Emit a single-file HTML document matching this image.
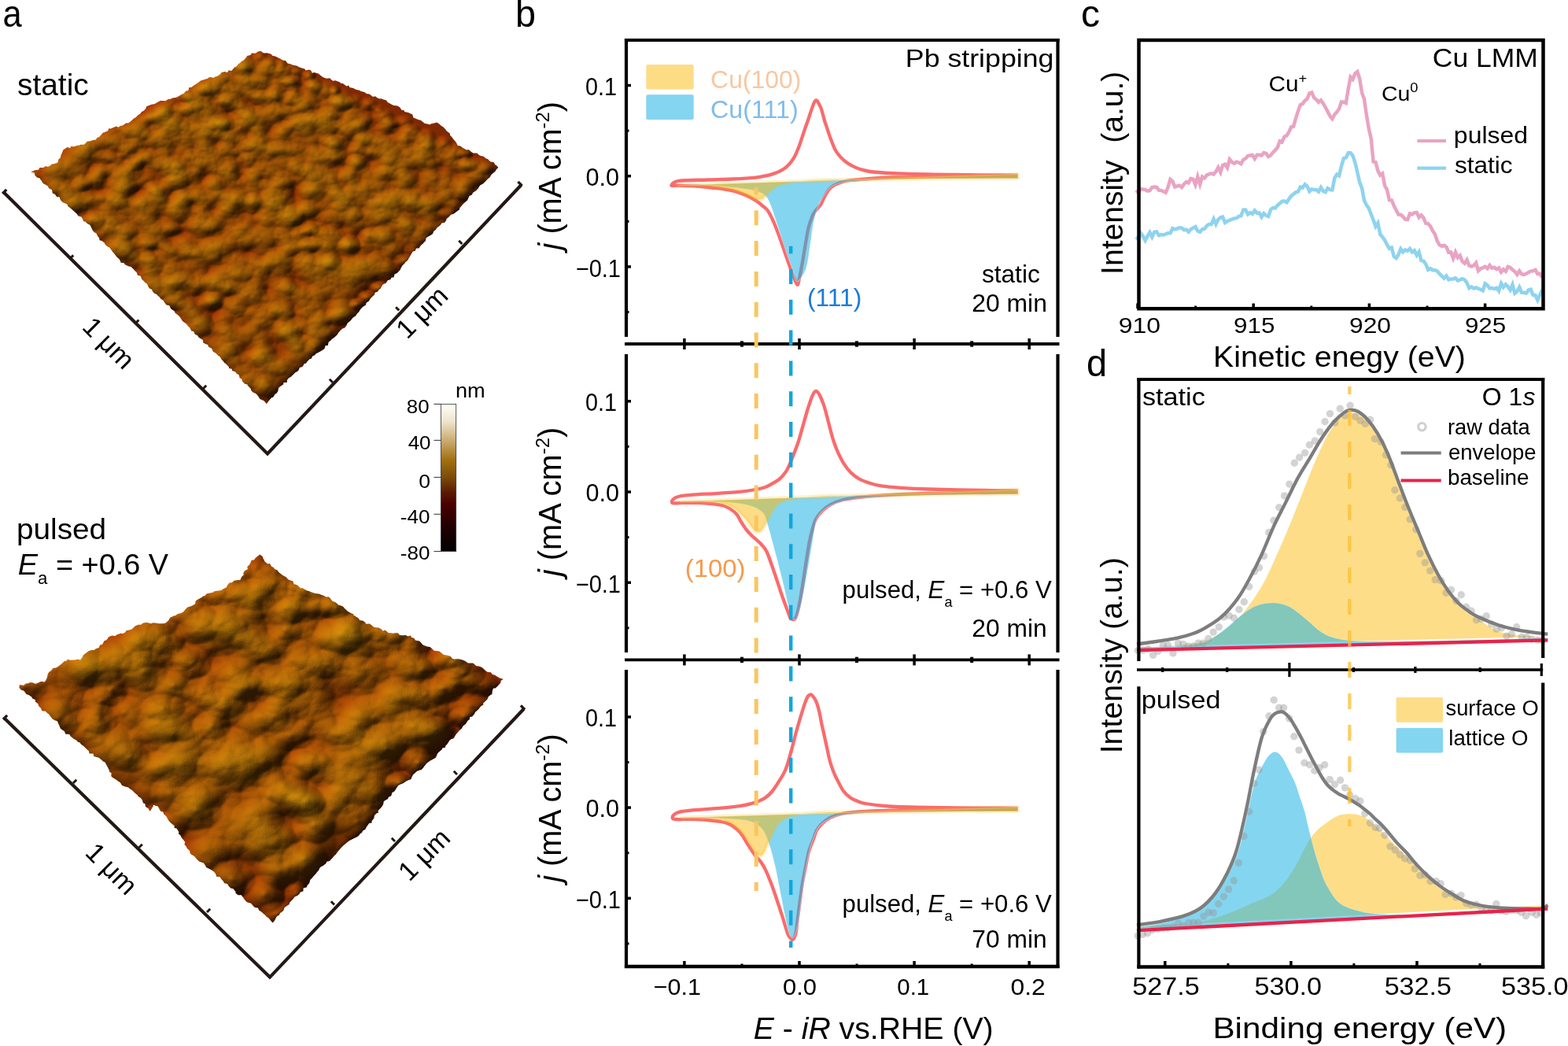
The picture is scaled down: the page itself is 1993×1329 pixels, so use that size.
<!DOCTYPE html>
<html><head><meta charset="utf-8"><title>Figure</title>
<style>html,body{margin:0;padding:0;background:#fff;width:1993px;height:1329px;overflow:hidden}
svg{display:block;font-family:"Liberation Sans",Arial,sans-serif}</style></head>
<body><svg xmlns="http://www.w3.org/2000/svg" width="1993" height="1329" viewBox="0 0 1993 1329">
<rect width="1993" height="1329" fill="#fff"/>
<g id="panel-a">
<defs>
<filter id="afmA" x="0" y="0" width="100%" height="100%" color-interpolation-filters="sRGB">
 <feTurbulence type="fractalNoise" baseFrequency="0.03 0.045" numOctaves="3" seed="4" result="n"/>
 <feColorMatrix in="n" type="matrix" values="0.12 0 0 0 0.66  0.5 0 0 0 0.12  0.03 0 0 0 0.0  0 0 0 0 1" result="c"/>
 <feDiffuseLighting in="n" surfaceScale="7" diffuseConstant="1.05" lighting-color="#ffffff" result="l"><feDistantLight azimuth="240" elevation="40"/></feDiffuseLighting>
 <feComposite in="l" in2="c" operator="arithmetic" k1="0.8" k2="0" k3="0.18" k4="0" result="m"/>
 <feComposite in="m" in2="SourceAlpha" operator="in"/>
</filter>
<filter id="afmB" x="0" y="0" width="100%" height="100%" color-interpolation-filters="sRGB">
 <feTurbulence type="fractalNoise" baseFrequency="0.02 0.03" numOctaves="3" seed="9" result="n"/>
 <feColorMatrix in="n" type="matrix" values="0.12 0 0 0 0.66  0.55 0 0 0 0.1  0.03 0 0 0 0.0  0 0 0 0 1" result="c"/>
 <feDiffuseLighting in="n" surfaceScale="10" diffuseConstant="1.05" lighting-color="#ffffff" result="l"><feDistantLight azimuth="240" elevation="40"/></feDiffuseLighting>
 <feComposite in="l" in2="c" operator="arithmetic" k1="0.8" k2="0" k3="0.18" k4="0" result="m"/>
 <feComposite in="m" in2="SourceAlpha" operator="in"/>
</filter>
<linearGradient id="cbar" x1="0" y1="0" x2="0" y2="1">
 <stop offset="0" stop-color="#FFFFFA"/>
 <stop offset="0.12" stop-color="#EEE3CB"/>
 <stop offset="0.25" stop-color="#C9AA6E"/>
 <stop offset="0.38" stop-color="#A2700F"/>
 <stop offset="0.5" stop-color="#7A4A0B"/>
 <stop offset="0.6" stop-color="#5A1A05"/>
 <stop offset="0.68" stop-color="#4A0000"/>
 <stop offset="0.82" stop-color="#240000"/>
 <stop offset="1" stop-color="#000000"/>
</linearGradient>
</defs>
<defs><clipPath id="clipA"><path d="M39.1,218.9 L43.6,216.4 L45.8,215.9 L49,215.8 L50.4,212.9 L55.2,213 L57.9,210.9 L59.9,211.8 L62.2,211.4 L66.8,208 L67.4,208.4 L72.6,207 L73.6,206.1 L74.4,202.6 L76.8,200.4 L77.6,196.8 L78.8,194.5 L80.3,190.4 L83.1,188.8 L85.5,187.1 L89.3,188.2 L90,186.1 L94.5,186.3 L98,184.8 L100.6,184.7 L102.2,183.8 L106.6,183.7 L108.8,181.9 L110.7,179.8 L115.8,179.1 L117.3,178.3 L121.8,177.5 L123.4,175 L126.2,174 L128.7,171.2 L131,168.4 L132.3,168.3 L137.2,166.2 L138.1,163.3 L140.8,163.6 L144.6,161.8 L148,160.4 L150.3,161.7 L153.6,159.8 L155.9,159.4 L160.5,156.2 L162.8,156.5 L165.9,154.5 L168.4,152.1 L170.6,150 L172.1,149.4 L176.2,145.8 L178.3,144.5 L180.1,142 L182.8,140.7 L185.3,138.1 L186,135.5 L188.6,134.3 L192.6,132.8 L195.7,132.2 L197.6,131.6 L202,128.9 L203.5,128.1 L208.7,128 L210.3,128.3 L213.8,125.9 L216.3,126.1 L219.2,124.5 L223.6,124 L225.5,123.1 L227.7,121.9 L231.2,119.4 L233,119.3 L236.5,115.6 L239.3,115.2 L240.4,111.1 L243.2,111 L245.8,109 L249.7,106.6 L251,105.8 L255.1,102.6 L256.8,102 L260.6,100.8 L263.6,100 L266.2,98.1 L271.8,98.7 L273.4,97.6 L276.2,96.7 L280.1,94.3 L281.6,92.1 L286,91 L288.7,92.3 L290.8,89.2 L294.4,90.1 L296.5,87.3 L298.3,85.2 L300.4,84.5 L303.3,81.1 L304.7,80.2 L307.4,77.7 L309.8,76.6 L313.5,72.2 L314,71 L318.3,70 L320.1,67.4 L324.5,67.8 L328.6,65.3 L332,65 L334,67 L336.4,67.5 L339,67.3 L344.1,68.6 L346.8,70.9 L350,71.5 L351.7,72.5 L356.1,74.5 L359.4,76.5 L360.3,76.8 L362.9,76.9 L365.5,80.4 L370,81.6 L371.6,82.4 L375.4,83.2 L377.8,83.8 L379.4,84.9 L384.3,86.7 L387.3,87.5 L388.5,89.4 L392.8,88.4 L395.3,89.6 L396.7,92.7 L399.4,92.1 L404.7,93.6 L405.3,93.9 L408.6,96.7 L411.3,98.4 L415,99.8 L419.4,99.3 L420.7,101 L423.3,102.7 L426.2,102.3 L431.6,104.3 L433.7,106 L435.8,106.1 L440.3,109.6 L443.3,108.5 L444.3,110.9 L449.1,111.9 L451.3,113.3 L453.1,114.1 L456.1,114.5 L458.4,115.7 L463.7,117.3 L465.7,118.9 L469.3,119.4 L470.6,120.3 L473.5,122.8 L477.8,122.5 L479.2,124.3 L482.7,125.5 L484.6,125.2 L487.5,126.4 L491.1,127.5 L492.7,130.1 L496.1,131.7 L499.2,133.4 L501,134.1 L505.3,134.6 L508.4,136.4 L510.6,140.1 L513.4,140 L514.2,142.1 L519,143.1 L521.6,144.3 L524.3,145.6 L525.4,149.5 L529.3,151.1 L532.1,152.3 L534.3,152.4 L536.3,153.9 L539.7,156.8 L541.2,156.9 L546.4,158.3 L548.7,157 L552.8,156.2 L555,155.4 L557.4,156.8 L561.1,160.1 L563.6,161.4 L565.7,163.8 L567.8,166.4 L571.6,169.3 L572.4,172.5 L573.9,173.5 L576.6,177.3 L578.9,179.8 L580.9,183.1 L581.7,185.1 L585.2,185.6 L587.9,187.7 L592.1,189.9 L593.3,190.4 L595.6,190.1 L599.7,193.4 L601.6,194.4 L606.4,194.4 L608.8,197.1 L610.8,197.9 L614.6,198.8 L617.5,201.3 L620.3,202.2 L620.8,203.1 L623.4,205.6 L627.4,205.9 L629.7,209.4 L631.4,210.5 L633.4,212.8 L630.3,216.1 L629.6,217.7 L625.4,221.1 L625.1,221.3 L622.4,225.4 L620,227.3 L617.3,230.2 L616.5,231 L613.9,233.4 L610.1,235.4 L607.9,239.2 L607.9,239.4 L604.8,242.4 L601.4,244.4 L599.6,247.8 L596.8,248.7 L595.8,250.6 L594.1,254.4 L592.5,255.7 L588.9,258.9 L586.7,261.4 L584.5,264 L583.8,266.6 L581.9,267.8 L578.2,270.5 L576.6,271.7 L573.2,272.8 L570.1,276.1 L567.8,277.8 L566.8,280.5 L565.2,282.7 L561.4,283.6 L560.4,285.3 L558.1,287.5 L556,288.7 L553.6,292 L551.1,294 L550.1,297 L547.2,299.1 L544.7,300.2 L541.5,302.6 L540.9,306.3 L539.3,307.6 L537.5,309.7 L534.9,311.7 L532.4,315.4 L529.1,315.5 L527.7,318.7 L524.8,319.5 L522.7,322.8 L520.8,326.3 L519.4,328.4 L518.3,330.8 L515.3,333.1 L513.8,335.3 L511.8,337 L509.9,340 L508.8,342.7 L506.7,345.1 L504.7,347 L501.5,348.5 L500.5,352.5 L497.8,352.5 L496.2,355.3 L492.9,356.1 L490.6,359.8 L488,360.7 L486.3,361.8 L483.8,366.5 L482.1,367.5 L479.9,370.4 L476.5,371.8 L476.1,374.3 L471.8,378.2 L470.9,379.3 L468.7,382.7 L465.6,384.8 L464.9,387.7 L461.6,389.5 L459.3,391.8 L457.1,394.6 L456.8,395.6 L453.1,399.4 L452.2,401.3 L448.4,403.7 L447.9,404.4 L445.3,407.7 L444.2,408.5 L441.7,410.6 L440.5,413.5 L438.3,416.5 L435.4,417.5 L433.1,419.4 L430,423.1 L428.5,425.4 L426.2,427.5 L425.3,428.6 L421.7,431.1 L420.6,432.5 L417.7,434.6 L416.7,439 L413.7,439 L412.5,442.9 L410.8,444.3 L406.8,446.8 L403.9,448.3 L401.4,449.4 L400.1,451.3 L396.9,452.8 L396.2,455.3 L393.2,456.6 L391.1,458.8 L388.4,462.2 L387.1,461.8 L384.4,466.1 L380.9,467.1 L379.4,470.7 L376.7,472.8 L375.5,473.1 L373.7,475 L369.5,478.9 L367,480.3 L365,482.8 L364.7,486.1 L360.4,486.1 L360.3,488.3 L356.6,490.7 L354.1,492.8 L353.4,497.1 L351.5,499.7 L349.4,500.9 L347.2,504.8 L345.2,505.3 L341.6,509.5 L340.9,510.3 L338.9,513.3 L335.5,509.2 L332.8,507.9 L330.3,507 L328.7,504.2 L327.3,502.3 L325.1,500.1 L321.7,498.6 L319.3,496.3 L318.9,493.9 L314.7,489.8 L314.5,488.6 L311.1,487.7 L308.1,484.4 L307,481.2 L304.7,480.5 L303.8,476.5 L300.7,474.5 L299.3,472.4 L295.1,471 L294.8,468.7 L291.1,467.9 L290.8,465.9 L287.3,462.6 L285,460.8 L283.1,458.1 L282.1,457.5 L279.4,453.1 L277.4,451.9 L276.1,450.4 L273.5,448.2 L270.6,446.5 L269.2,442.8 L265.2,440.8 L264,437.9 L261.4,437 L258.4,435.4 L257.8,431.9 L254.7,429.9 L252.6,428.7 L250.9,426 L247.8,424.8 L246.1,421.1 L243.3,420.6 L242.2,418.3 L241.2,416.2 L238.7,414 L236.9,411.5 L232.6,408.6 L231.6,407.6 L230,404.7 L227.7,401.6 L226.1,400.2 L222.5,397.5 L221.8,395.5 L217.5,392.4 L216.7,391.3 L215.1,388.1 L211.6,387.4 L208.5,383.6 L207.6,381.8 L204.3,379.7 L203.5,378.2 L199.9,374.9 L199.7,374.2 L195.8,372.6 L193.3,369.2 L193.3,368 L189.7,366.3 L188.4,364.1 L187,360.8 L184.4,359 L182.9,357.2 L180.2,354.7 L178.8,350.8 L174.6,349.6 L174,346.5 L171.1,343.7 L170,342.3 L166.2,338.8 L164,338.4 L159.3,336.5 L157.6,334.2 L153.1,333.5 L153.2,332.2 L151.6,329.2 L148.7,326.7 L146.7,324.2 L145.6,322.8 L142.7,319.5 L140.6,316.2 L139.2,314.4 L136.8,313.4 L133.4,310.6 L133,308.8 L129.5,305.9 L126.5,305.3 L126.1,302.2 L124.3,300.3 L122.4,296.4 L119.6,295 L117.6,292.4 L116.1,288.9 L114.3,285.8 L111.5,284.4 L108.2,281.6 L106.3,281.2 L104.7,277.6 L103.3,275.4 L99.5,274.4 L97.5,271.5 L95.2,269.5 L92.6,267.2 L90.8,265.5 L86,261.7 L85.8,259.7 L80.9,257.4 L79.5,257 L76.9,254.1 L75.5,250.2 L72.4,250.2 L69.8,246.8 L66.8,245.5 L65.9,241.1 L62.4,239.4 L60.2,236.1 L56.6,234.1 L54.7,232.9 L53.2,230.4 L50.3,226.3 L47.1,225.5 L44.4,222.7 L43.6,219.3Z"/></clipPath><clipPath id="clipB"><path d="M24.3,873.4 L25,870 L30,870.7 L32.6,868.5 L35.5,868.2 L38.5,866.9 L41.2,867.3 L45,868.8 L48.7,867.4 L50.4,866.6 L52.4,865.8 L56.6,866.4 L58,864.8 L59.9,860.8 L60.8,856.3 L62.6,853.5 L64.6,852.6 L67.7,848.8 L71,848.6 L73.3,847.2 L76,845.2 L77.7,844 L81.9,840.1 L84.1,839.9 L86,837.7 L89.2,838.7 L92.3,838.5 L95.1,838.6 L99.6,837.5 L101.9,838.7 L104.7,835.1 L105.9,832.2 L109.6,829.4 L112.6,827.2 L116,826.1 L119.5,825.9 L121.8,824.2 L125.6,823.1 L127.1,819.6 L129.9,818.9 L132.5,814.2 L135.4,813.3 L138,809.4 L140.8,808.1 L143.8,807.6 L146,808.2 L148.9,806.3 L154.2,804.6 L155.7,805.3 L159.1,803.5 L160.9,801.1 L164,800.5 L166.6,799.9 L169.2,797.9 L172,795.3 L176.8,793.6 L178.4,794 L182.2,791.4 L187.1,790.7 L187.8,791.2 L192.5,792.2 L194.4,791.2 L197.3,791.5 L202.4,792.2 L206,792.3 L209.1,792.1 L211.2,790.9 L214.6,787.7 L216.1,784.7 L221,782.5 L223.2,781.9 L225.9,779.9 L230,778.9 L232,778 L233.4,777.1 L236.2,773.5 L238.4,771.6 L241,770.7 L244.5,769.4 L248.1,767.2 L248.7,763.6 L251.2,761.7 L254.6,760.1 L258.1,757.4 L260.6,756.8 L262.8,754.2 L266.8,753.4 L270.5,752.8 L271.9,751.6 L275.1,750.7 L278.8,750.4 L281.2,749.9 L283.4,748.6 L287.8,746.2 L288.9,743.7 L291.7,740.5 L294.7,740.3 L297.5,737.7 L302.6,737 L305.2,737 L307.2,732.7 L309.9,730.3 L309.1,728.5 L311.1,725 L314.8,723.3 L314.3,720.1 L317.1,717.6 L318.3,715.2 L319.7,711.8 L322.9,711.6 L324.6,709.1 L327.4,706.7 L330.3,704.4 L333.6,706.9 L334.3,708.9 L336.6,713.4 L340.4,716.4 L342.9,715.9 L345.1,719.8 L347.7,721.1 L349.1,722.9 L352.6,724.4 L354.2,726.9 L357.7,729.7 L360.1,731.5 L361,731.7 L363.9,733.5 L366.3,736.3 L370,737.8 L372.3,738.3 L373.6,742.3 L375.5,742.6 L377.8,743.5 L382.4,747.5 L384.3,747 L386.4,748.3 L390.3,750.5 L392.7,751.1 L394.9,752.1 L400,753.7 L400.8,754 L405.4,754.4 L408.9,755.9 L411.3,756.8 L415.1,758.7 L417,758.1 L419.2,759.5 L422.2,763.5 L423.8,764.2 L427.1,765.7 L430.3,768.8 L432.9,769.3 L436.2,770.7 L438.2,773.3 L440.8,775.5 L442,776.7 L445.1,778.5 L449.2,780.2 L449.3,781.5 L453.7,784.3 L456.1,785.9 L457.1,787.9 L461.5,788.8 L464.6,791.3 L465.1,792.8 L469.8,792.4 L472.8,794.7 L474.5,796.5 L477.4,797.2 L481.2,797.5 L484.6,799.2 L486.7,801.8 L489.4,800.5 L493.6,803.9 L497.1,804.3 L499.6,804.7 L502.3,804.2 L505.8,804.2 L507.7,806.7 L511,807.3 L515.7,807 L518.4,808.5 L521.9,807.5 L522.9,809.7 L526.4,811.1 L527.9,813.5 L533.2,814.6 L534.8,816.3 L537.3,819.2 L539.7,820.3 L542.9,821.6 L546.7,822.1 L549.2,824.3 L551.8,826.8 L554.9,827 L558.4,827.4 L560.9,829.4 L563.7,831.8 L567.4,832.5 L569.2,832.7 L572.6,833.9 L575.2,837 L577.8,837.5 L581.6,837.3 L584.5,837.4 L587.9,838.6 L590.9,839.8 L595.1,842.4 L597,842.5 L601.3,842.6 L602.2,843.3 L605.2,845.9 L608.5,846.5 L612.3,847.7 L615.2,850.2 L616.9,852.1 L619.5,853.8 L623.9,854.2 L626,856.9 L629,857.8 L632.1,859.7 L634.6,861.3 L636.2,861.9 L639.9,862.7 L636.9,864.7 L636.1,867.7 L632.5,871.7 L629.5,874.4 L627,874.6 L625.8,878 L625.4,881.9 L623.1,883.3 L620.7,885.3 L619.6,888.3 L616.4,891.5 L614.2,893.2 L614.4,895.2 L610.5,898 L608.6,900.8 L606.4,902.8 L604.1,904.7 L602.9,907.2 L600.1,910.5 L597.1,911.1 L596.9,914 L594.7,915.5 L592,919.7 L589.5,921.8 L588.1,923.1 L587.1,925.4 L583.7,928.3 L581.2,931.2 L579.9,932.8 L577.7,936.2 L576.9,938.1 L573.4,939.3 L571.6,940.6 L568.4,945.4 L566.4,947.5 L565.8,949.8 L562.2,950.5 L562,952 L558.2,955.2 L556.3,957 L555.5,959.1 L553.8,962.7 L548.8,965.5 L546.8,966.6 L545.1,967.8 L542.4,969.7 L539,974.1 L538.4,975 L535.7,978 L532,978.9 L529.7,980 L527.4,982.2 L525,984.2 L523.5,987.2 L522.5,990 L519.9,990.9 L517.2,991.9 L511.9,995.6 L510,995.9 L506.2,998.1 L504.3,1000.7 L502.3,1003.9 L501.3,1005.6 L498.5,1007.1 L497.2,1011.2 L493.9,1012.7 L493.1,1014.9 L489.4,1016.9 L487.8,1018.2 L487.1,1021.9 L485.5,1024.8 L484,1026.6 L480.6,1030 L480.9,1032.7 L478.7,1033.2 L475.9,1035.9 L475.4,1039.6 L472.5,1043.3 L472.6,1045.4 L469.2,1046.1 L466.6,1049.8 L465.9,1050.6 L464.4,1053.7 L461.1,1055.5 L460,1057.9 L457.8,1059.3 L455.9,1062 L453.4,1063.4 L448.8,1065.7 L445.9,1067.2 L444.2,1067.9 L440.7,1070.7 L438.6,1072.6 L435.6,1074.9 L433.5,1077.3 L430.7,1080.4 L428.5,1083 L427.4,1085.1 L424.1,1087.9 L423.6,1088.9 L420.7,1092 L419.1,1094 L415.3,1094.8 L414.4,1097 L410,1100.5 L408.2,1101 L406.2,1102.9 L405.3,1105.6 L402.6,1108.4 L401.6,1109.9 L399,1112.8 L395.8,1116.6 L394.4,1117.7 L393,1122.5 L391.2,1123.9 L389.6,1127.6 L385.6,1128.3 L385.5,1132.2 L381.2,1133.9 L380.7,1135.8 L378,1138 L374.5,1139.4 L371.8,1142.9 L369.7,1145 L368.1,1146.8 L367.6,1149 L364.3,1151.2 L361.6,1153.1 L360.3,1156.9 L357.2,1159.5 L356.6,1159.5 L354.7,1162.7 L352.1,1164.1 L350.1,1167.5 L348.8,1169.9 L346.5,1172.6 L343.1,1168.4 L341.6,1166.4 L338.5,1164.5 L337.4,1163 L335.5,1161.5 L331.9,1158.2 L329.3,1156.7 L327.8,1153.6 L325,1153.2 L322.9,1152.2 L320.1,1148.9 L319.1,1147.8 L314.5,1146.6 L312.7,1145.2 L310.9,1143.1 L309.1,1140.6 L306.8,1137.3 L302.7,1137.3 L299.4,1134.8 L299.5,1132.9 L296.6,1129.2 L293.3,1128.5 L290.5,1125.8 L289,1123 L284.6,1121.9 L284.5,1120.4 L281.2,1116.8 L279.3,1114 L275.1,1113.7 L274.3,1110.5 L271.9,1107.6 L268.6,1105.3 L265.1,1103.5 L262.1,1101.9 L260.9,1099.4 L258.8,1096.6 L255.9,1095.6 L253.1,1094.5 L250,1091.4 L248.3,1089.4 L247.2,1088 L243.5,1085.8 L241.8,1084.5 L241.1,1081 L237.9,1078.1 L236.2,1074.8 L234.4,1073 L235.3,1070.1 L232.6,1066.4 L230.7,1064.2 L229.1,1061 L227,1059.6 L227.3,1057 L224.5,1052.5 L221.7,1052.1 L221.5,1048.9 L218.5,1046.7 L215.8,1044.3 L214.1,1042.2 L212.5,1039.2 L210.8,1036.4 L208.6,1035 L207.1,1031.5 L204.1,1030.7 L202.5,1028 L200.8,1024.5 L197.5,1023.8 L194.9,1022.6 L194.6,1024.4 L192,1028.7 L190.6,1030.9 L188.8,1027.6 L185,1025.1 L184.3,1021.2 L181.9,1020.2 L180.7,1016.2 L179,1014.1 L175.7,1011.9 L174.6,1010 L171.4,1007.4 L167.7,1003.8 L164.8,1002 L163.1,1000.6 L159.3,999.6 L155.2,997.9 L152.6,993.9 L150.3,992.8 L148.2,990.9 L143,987.8 L141.3,986.3 L141.6,982.3 L139,980.6 L138.9,979.1 L137.3,975.5 L135,971.6 L133.5,968.6 L131.2,967.6 L129,965.6 L125.8,962.8 L123,961.9 L119.4,961 L118.5,957.6 L113.6,957.6 L112.7,954 L110.3,951.9 L108.9,950.6 L105.8,947.4 L103.4,946.1 L101.2,943.2 L98.6,942.4 L97.5,940.8 L93.7,938.7 L89.5,935.2 L88,932.7 L83.4,932.7 L81.6,928.7 L80,927.9 L76.8,925.5 L75.5,922.2 L73.8,918.6 L72.9,916.2 L70.4,915.6 L67,913.7 L63.5,909.6 L62.1,907.3 L60.5,906.4 L58,903.7 L53.5,903.2 L51.8,899.5 L49.5,897.5 L48.2,894 L45,891.8 L44.8,888.9 L41.2,887.6 L40.2,885.6 L37.4,883.6 L33.3,881.7 L30.2,877.5 L27.6,877.1 L25.9,875.4Z"/></clipPath>
<radialGradient id="hg"><stop offset="0" stop-color="#000" stop-opacity="0.45"/><stop offset="0.45" stop-color="#000" stop-opacity="0.3"/><stop offset="1" stop-color="#000" stop-opacity="0"/></radialGradient>
<filter id="afmL" x="0" y="0" width="100%" height="100%" color-interpolation-filters="sRGB">
 <feGaussianBlur in="SourceAlpha" stdDeviation="1.2" result="h"/>
 <feDiffuseLighting in="h" surfaceScale="10" diffuseConstant="1" lighting-color="#fff" result="l"><feDistantLight azimuth="225" elevation="40"/></feDiffuseLighting>
 <feColorMatrix in="h" type="matrix" values="0 0 0 0.2 0.6  0 0 0 0.42 0.19  0 0 0 0.04 0.01  0 0 0 0 1" result="c"/>
 <feComposite in="l" in2="c" operator="arithmetic" k1="0.9" k2="0" k3="0.24" k4="0"/>
</filter>
<filter id="afmLB" x="0" y="0" width="100%" height="100%" color-interpolation-filters="sRGB">
 <feGaussianBlur in="SourceAlpha" stdDeviation="1.6" result="h"/>
 <feDiffuseLighting in="h" surfaceScale="24" diffuseConstant="1" lighting-color="#fff" result="l"><feDistantLight azimuth="225" elevation="40"/></feDiffuseLighting>
 <feColorMatrix in="h" type="matrix" values="0 0 0 0.2 0.6  0 0 0 0.42 0.19  0 0 0 0.04 0.01  0 0 0 0 1" result="c"/>
 <feComposite in="l" in2="c" operator="arithmetic" k1="0.9" k2="0" k3="0.24" k4="0"/>
</filter></defs>
<g clip-path="url(#clipA)"><g filter="url(#afmL)"><path d="M39.1,218.9 L43.6,216.4 L45.8,215.9 L49,215.8 L50.4,212.9 L55.2,213 L57.9,210.9 L59.9,211.8 L62.2,211.4 L66.8,208 L67.4,208.4 L72.6,207 L73.6,206.1 L74.4,202.6 L76.8,200.4 L77.6,196.8 L78.8,194.5 L80.3,190.4 L83.1,188.8 L85.5,187.1 L89.3,188.2 L90,186.1 L94.5,186.3 L98,184.8 L100.6,184.7 L102.2,183.8 L106.6,183.7 L108.8,181.9 L110.7,179.8 L115.8,179.1 L117.3,178.3 L121.8,177.5 L123.4,175 L126.2,174 L128.7,171.2 L131,168.4 L132.3,168.3 L137.2,166.2 L138.1,163.3 L140.8,163.6 L144.6,161.8 L148,160.4 L150.3,161.7 L153.6,159.8 L155.9,159.4 L160.5,156.2 L162.8,156.5 L165.9,154.5 L168.4,152.1 L170.6,150 L172.1,149.4 L176.2,145.8 L178.3,144.5 L180.1,142 L182.8,140.7 L185.3,138.1 L186,135.5 L188.6,134.3 L192.6,132.8 L195.7,132.2 L197.6,131.6 L202,128.9 L203.5,128.1 L208.7,128 L210.3,128.3 L213.8,125.9 L216.3,126.1 L219.2,124.5 L223.6,124 L225.5,123.1 L227.7,121.9 L231.2,119.4 L233,119.3 L236.5,115.6 L239.3,115.2 L240.4,111.1 L243.2,111 L245.8,109 L249.7,106.6 L251,105.8 L255.1,102.6 L256.8,102 L260.6,100.8 L263.6,100 L266.2,98.1 L271.8,98.7 L273.4,97.6 L276.2,96.7 L280.1,94.3 L281.6,92.1 L286,91 L288.7,92.3 L290.8,89.2 L294.4,90.1 L296.5,87.3 L298.3,85.2 L300.4,84.5 L303.3,81.1 L304.7,80.2 L307.4,77.7 L309.8,76.6 L313.5,72.2 L314,71 L318.3,70 L320.1,67.4 L324.5,67.8 L328.6,65.3 L332,65 L334,67 L336.4,67.5 L339,67.3 L344.1,68.6 L346.8,70.9 L350,71.5 L351.7,72.5 L356.1,74.5 L359.4,76.5 L360.3,76.8 L362.9,76.9 L365.5,80.4 L370,81.6 L371.6,82.4 L375.4,83.2 L377.8,83.8 L379.4,84.9 L384.3,86.7 L387.3,87.5 L388.5,89.4 L392.8,88.4 L395.3,89.6 L396.7,92.7 L399.4,92.1 L404.7,93.6 L405.3,93.9 L408.6,96.7 L411.3,98.4 L415,99.8 L419.4,99.3 L420.7,101 L423.3,102.7 L426.2,102.3 L431.6,104.3 L433.7,106 L435.8,106.1 L440.3,109.6 L443.3,108.5 L444.3,110.9 L449.1,111.9 L451.3,113.3 L453.1,114.1 L456.1,114.5 L458.4,115.7 L463.7,117.3 L465.7,118.9 L469.3,119.4 L470.6,120.3 L473.5,122.8 L477.8,122.5 L479.2,124.3 L482.7,125.5 L484.6,125.2 L487.5,126.4 L491.1,127.5 L492.7,130.1 L496.1,131.7 L499.2,133.4 L501,134.1 L505.3,134.6 L508.4,136.4 L510.6,140.1 L513.4,140 L514.2,142.1 L519,143.1 L521.6,144.3 L524.3,145.6 L525.4,149.5 L529.3,151.1 L532.1,152.3 L534.3,152.4 L536.3,153.9 L539.7,156.8 L541.2,156.9 L546.4,158.3 L548.7,157 L552.8,156.2 L555,155.4 L557.4,156.8 L561.1,160.1 L563.6,161.4 L565.7,163.8 L567.8,166.4 L571.6,169.3 L572.4,172.5 L573.9,173.5 L576.6,177.3 L578.9,179.8 L580.9,183.1 L581.7,185.1 L585.2,185.6 L587.9,187.7 L592.1,189.9 L593.3,190.4 L595.6,190.1 L599.7,193.4 L601.6,194.4 L606.4,194.4 L608.8,197.1 L610.8,197.9 L614.6,198.8 L617.5,201.3 L620.3,202.2 L620.8,203.1 L623.4,205.6 L627.4,205.9 L629.7,209.4 L631.4,210.5 L633.4,212.8 L630.3,216.1 L629.6,217.7 L625.4,221.1 L625.1,221.3 L622.4,225.4 L620,227.3 L617.3,230.2 L616.5,231 L613.9,233.4 L610.1,235.4 L607.9,239.2 L607.9,239.4 L604.8,242.4 L601.4,244.4 L599.6,247.8 L596.8,248.7 L595.8,250.6 L594.1,254.4 L592.5,255.7 L588.9,258.9 L586.7,261.4 L584.5,264 L583.8,266.6 L581.9,267.8 L578.2,270.5 L576.6,271.7 L573.2,272.8 L570.1,276.1 L567.8,277.8 L566.8,280.5 L565.2,282.7 L561.4,283.6 L560.4,285.3 L558.1,287.5 L556,288.7 L553.6,292 L551.1,294 L550.1,297 L547.2,299.1 L544.7,300.2 L541.5,302.6 L540.9,306.3 L539.3,307.6 L537.5,309.7 L534.9,311.7 L532.4,315.4 L529.1,315.5 L527.7,318.7 L524.8,319.5 L522.7,322.8 L520.8,326.3 L519.4,328.4 L518.3,330.8 L515.3,333.1 L513.8,335.3 L511.8,337 L509.9,340 L508.8,342.7 L506.7,345.1 L504.7,347 L501.5,348.5 L500.5,352.5 L497.8,352.5 L496.2,355.3 L492.9,356.1 L490.6,359.8 L488,360.7 L486.3,361.8 L483.8,366.5 L482.1,367.5 L479.9,370.4 L476.5,371.8 L476.1,374.3 L471.8,378.2 L470.9,379.3 L468.7,382.7 L465.6,384.8 L464.9,387.7 L461.6,389.5 L459.3,391.8 L457.1,394.6 L456.8,395.6 L453.1,399.4 L452.2,401.3 L448.4,403.7 L447.9,404.4 L445.3,407.7 L444.2,408.5 L441.7,410.6 L440.5,413.5 L438.3,416.5 L435.4,417.5 L433.1,419.4 L430,423.1 L428.5,425.4 L426.2,427.5 L425.3,428.6 L421.7,431.1 L420.6,432.5 L417.7,434.6 L416.7,439 L413.7,439 L412.5,442.9 L410.8,444.3 L406.8,446.8 L403.9,448.3 L401.4,449.4 L400.1,451.3 L396.9,452.8 L396.2,455.3 L393.2,456.6 L391.1,458.8 L388.4,462.2 L387.1,461.8 L384.4,466.1 L380.9,467.1 L379.4,470.7 L376.7,472.8 L375.5,473.1 L373.7,475 L369.5,478.9 L367,480.3 L365,482.8 L364.7,486.1 L360.4,486.1 L360.3,488.3 L356.6,490.7 L354.1,492.8 L353.4,497.1 L351.5,499.7 L349.4,500.9 L347.2,504.8 L345.2,505.3 L341.6,509.5 L340.9,510.3 L338.9,513.3 L335.5,509.2 L332.8,507.9 L330.3,507 L328.7,504.2 L327.3,502.3 L325.1,500.1 L321.7,498.6 L319.3,496.3 L318.9,493.9 L314.7,489.8 L314.5,488.6 L311.1,487.7 L308.1,484.4 L307,481.2 L304.7,480.5 L303.8,476.5 L300.7,474.5 L299.3,472.4 L295.1,471 L294.8,468.7 L291.1,467.9 L290.8,465.9 L287.3,462.6 L285,460.8 L283.1,458.1 L282.1,457.5 L279.4,453.1 L277.4,451.9 L276.1,450.4 L273.5,448.2 L270.6,446.5 L269.2,442.8 L265.2,440.8 L264,437.9 L261.4,437 L258.4,435.4 L257.8,431.9 L254.7,429.9 L252.6,428.7 L250.9,426 L247.8,424.8 L246.1,421.1 L243.3,420.6 L242.2,418.3 L241.2,416.2 L238.7,414 L236.9,411.5 L232.6,408.6 L231.6,407.6 L230,404.7 L227.7,401.6 L226.1,400.2 L222.5,397.5 L221.8,395.5 L217.5,392.4 L216.7,391.3 L215.1,388.1 L211.6,387.4 L208.5,383.6 L207.6,381.8 L204.3,379.7 L203.5,378.2 L199.9,374.9 L199.7,374.2 L195.8,372.6 L193.3,369.2 L193.3,368 L189.7,366.3 L188.4,364.1 L187,360.8 L184.4,359 L182.9,357.2 L180.2,354.7 L178.8,350.8 L174.6,349.6 L174,346.5 L171.1,343.7 L170,342.3 L166.2,338.8 L164,338.4 L159.3,336.5 L157.6,334.2 L153.1,333.5 L153.2,332.2 L151.6,329.2 L148.7,326.7 L146.7,324.2 L145.6,322.8 L142.7,319.5 L140.6,316.2 L139.2,314.4 L136.8,313.4 L133.4,310.6 L133,308.8 L129.5,305.9 L126.5,305.3 L126.1,302.2 L124.3,300.3 L122.4,296.4 L119.6,295 L117.6,292.4 L116.1,288.9 L114.3,285.8 L111.5,284.4 L108.2,281.6 L106.3,281.2 L104.7,277.6 L103.3,275.4 L99.5,274.4 L97.5,271.5 L95.2,269.5 L92.6,267.2 L90.8,265.5 L86,261.7 L85.8,259.7 L80.9,257.4 L79.5,257 L76.9,254.1 L75.5,250.2 L72.4,250.2 L69.8,246.8 L66.8,245.5 L65.9,241.1 L62.4,239.4 L60.2,236.1 L56.6,234.1 L54.7,232.9 L53.2,230.4 L50.3,226.3 L47.1,225.5 L44.4,222.7 L43.6,219.3Z" fill="#000" fill-opacity="0.02"/><ellipse cx="50.1" cy="222.5" rx="17.4" ry="13.3" fill="url(#hg)" fill-opacity="0.5"/><ellipse cx="62.3" cy="238.1" rx="14.8" ry="13.7" fill="url(#hg)" fill-opacity="0.7"/><ellipse cx="78.3" cy="241" rx="17.5" ry="15.3" fill="url(#hg)" fill-opacity="0.9"/><ellipse cx="89.4" cy="256.7" rx="17.4" ry="16.1" fill="url(#hg)" fill-opacity="0.8"/><ellipse cx="91.3" cy="262.1" rx="21.6" ry="17.5" fill="url(#hg)" fill-opacity="0.9"/><ellipse cx="116.1" cy="279.7" rx="19" ry="13.2" fill="url(#hg)" fill-opacity="1"/><ellipse cx="120.7" cy="281.6" rx="13.9" ry="12.9" fill="url(#hg)" fill-opacity="0.7"/><ellipse cx="131.7" cy="296.5" rx="18.1" ry="13.7" fill="url(#hg)" fill-opacity="0.8"/><ellipse cx="148.9" cy="314.1" rx="22.9" ry="17" fill="url(#hg)" fill-opacity="1"/><ellipse cx="153.6" cy="317.2" rx="25.1" ry="18.6" fill="url(#hg)" fill-opacity="0.8"/><ellipse cx="166" cy="328.6" rx="22.4" ry="15.8" fill="url(#hg)" fill-opacity="0.5"/><ellipse cx="186.9" cy="346.6" rx="16.4" ry="11.2" fill="url(#hg)" fill-opacity="0.6"/><ellipse cx="190.4" cy="359.9" rx="19.7" ry="17.7" fill="url(#hg)" fill-opacity="0.5"/><ellipse cx="201.6" cy="363.4" rx="25.9" ry="17.3" fill="url(#hg)" fill-opacity="1"/><ellipse cx="206.3" cy="375.3" rx="17.5" ry="14.2" fill="url(#hg)" fill-opacity="0.7"/><ellipse cx="221.6" cy="384.9" rx="16.4" ry="10.8" fill="url(#hg)" fill-opacity="1"/><ellipse cx="238.3" cy="395.9" rx="19.1" ry="15" fill="url(#hg)" fill-opacity="0.8"/><ellipse cx="248.8" cy="412.5" rx="23.8" ry="17.8" fill="url(#hg)" fill-opacity="0.9"/><ellipse cx="253.7" cy="423.3" rx="24.4" ry="18.7" fill="url(#hg)" fill-opacity="0.5"/><ellipse cx="269.8" cy="435.8" rx="15.5" ry="11.8" fill="url(#hg)" fill-opacity="0.5"/><ellipse cx="282.3" cy="444" rx="20.6" ry="17.3" fill="url(#hg)" fill-opacity="0.9"/><ellipse cx="283.4" cy="456.8" rx="24.5" ry="15.5" fill="url(#hg)" fill-opacity="0.7"/><ellipse cx="303.3" cy="465.3" rx="17.6" ry="13.7" fill="url(#hg)" fill-opacity="0.8"/><ellipse cx="312.4" cy="479.9" rx="19.7" ry="17.7" fill="url(#hg)" fill-opacity="0.9"/><ellipse cx="322.3" cy="489.6" rx="21.5" ry="16.3" fill="url(#hg)" fill-opacity="0.7"/><ellipse cx="336.5" cy="495.6" rx="16.3" ry="14.1" fill="url(#hg)" fill-opacity="0.7"/><ellipse cx="63.6" cy="209.5" rx="17.2" ry="13.8" fill="url(#hg)" fill-opacity="0.7"/><ellipse cx="68.2" cy="223.4" rx="16.7" ry="15" fill="url(#hg)" fill-opacity="0.9"/><ellipse cx="80.9" cy="236.3" rx="21.8" ry="17.2" fill="url(#hg)" fill-opacity="0.7"/><ellipse cx="92" cy="247.9" rx="19.5" ry="15.3" fill="url(#hg)" fill-opacity="0.7"/><ellipse cx="107.6" cy="258.3" rx="20" ry="14.8" fill="url(#hg)" fill-opacity="1"/><ellipse cx="129.6" cy="272.1" rx="20.1" ry="15" fill="url(#hg)" fill-opacity="0.6"/><ellipse cx="138.2" cy="282.5" rx="20.1" ry="14.4" fill="url(#hg)" fill-opacity="0.7"/><ellipse cx="136.5" cy="289.4" rx="18.2" ry="15.9" fill="url(#hg)" fill-opacity="0.5"/><ellipse cx="161.2" cy="301.9" rx="25.1" ry="18.9" fill="url(#hg)" fill-opacity="0.8"/><ellipse cx="164.2" cy="319.8" rx="14.8" ry="12.4" fill="url(#hg)" fill-opacity="0.8"/><ellipse cx="181.7" cy="329.9" rx="19" ry="14.2" fill="url(#hg)" fill-opacity="0.9"/><ellipse cx="192.2" cy="338.9" rx="16" ry="13.4" fill="url(#hg)" fill-opacity="0.9"/><ellipse cx="200.6" cy="352.4" rx="25" ry="19" fill="url(#hg)" fill-opacity="0.5"/><ellipse cx="217.5" cy="360.5" rx="13.8" ry="10.6" fill="url(#hg)" fill-opacity="0.8"/><ellipse cx="222.8" cy="369.3" rx="18.7" ry="14.7" fill="url(#hg)" fill-opacity="0.6"/><ellipse cx="227.1" cy="378.8" rx="26.2" ry="16.2" fill="url(#hg)" fill-opacity="0.8"/><ellipse cx="243" cy="390.8" rx="18.6" ry="13.9" fill="url(#hg)" fill-opacity="0.7"/><ellipse cx="253.4" cy="403" rx="16" ry="12.7" fill="url(#hg)" fill-opacity="0.7"/><ellipse cx="262.1" cy="413.6" rx="18.8" ry="14.9" fill="url(#hg)" fill-opacity="0.7"/><ellipse cx="285.5" cy="422.6" rx="18.2" ry="14.4" fill="url(#hg)" fill-opacity="0.9"/><ellipse cx="293.8" cy="437.8" rx="17.9" ry="14.9" fill="url(#hg)" fill-opacity="0.8"/><ellipse cx="299" cy="449.5" rx="21.2" ry="16.1" fill="url(#hg)" fill-opacity="0.7"/><ellipse cx="322.6" cy="456.2" rx="17.3" ry="12.1" fill="url(#hg)" fill-opacity="0.9"/><ellipse cx="332.7" cy="470.4" rx="24" ry="18.5" fill="url(#hg)" fill-opacity="0.8"/><ellipse cx="335.3" cy="484.1" rx="13.6" ry="12.3" fill="url(#hg)" fill-opacity="0.5"/><ellipse cx="341.6" cy="490.4" rx="20.3" ry="15" fill="url(#hg)" fill-opacity="0.9"/><ellipse cx="74.4" cy="214.1" rx="21.4" ry="16.6" fill="url(#hg)" fill-opacity="0.8"/><ellipse cx="84.3" cy="213.3" rx="20.4" ry="16.3" fill="url(#hg)" fill-opacity="0.6"/><ellipse cx="104.5" cy="233" rx="13.4" ry="10.9" fill="url(#hg)" fill-opacity="0.9"/><ellipse cx="103.1" cy="239.5" rx="16.4" ry="12.9" fill="url(#hg)" fill-opacity="0.7"/><ellipse cx="118.1" cy="251.7" rx="16.5" ry="11.5" fill="url(#hg)" fill-opacity="0.8"/><ellipse cx="135.8" cy="258.8" rx="18.5" ry="16.4" fill="url(#hg)" fill-opacity="0.9"/><ellipse cx="145.4" cy="272.5" rx="18.9" ry="15.2" fill="url(#hg)" fill-opacity="0.6"/><ellipse cx="153.4" cy="289.5" rx="22.5" ry="16.8" fill="url(#hg)" fill-opacity="0.9"/><ellipse cx="160.8" cy="295" rx="16.1" ry="11.4" fill="url(#hg)" fill-opacity="0.6"/><ellipse cx="184.4" cy="308.9" rx="17.7" ry="12.5" fill="url(#hg)" fill-opacity="0.9"/><ellipse cx="187.7" cy="313.8" rx="13.8" ry="12.2" fill="url(#hg)" fill-opacity="0.7"/><ellipse cx="196" cy="328.6" rx="18.5" ry="11.9" fill="url(#hg)" fill-opacity="1"/><ellipse cx="213" cy="339.4" rx="20.3" ry="15.3" fill="url(#hg)" fill-opacity="0.8"/><ellipse cx="225.8" cy="351.4" rx="21.7" ry="18" fill="url(#hg)" fill-opacity="1"/><ellipse cx="232" cy="357.5" rx="17.5" ry="13.1" fill="url(#hg)" fill-opacity="1"/><ellipse cx="247.6" cy="365.3" rx="15" ry="11.3" fill="url(#hg)" fill-opacity="0.9"/><ellipse cx="265.9" cy="382.3" rx="18.6" ry="12.3" fill="url(#hg)" fill-opacity="0.7"/><ellipse cx="267.6" cy="386.3" rx="16.8" ry="11.1" fill="url(#hg)" fill-opacity="0.7"/><ellipse cx="283.7" cy="404.1" rx="13.9" ry="11" fill="url(#hg)" fill-opacity="0.7"/><ellipse cx="290.4" cy="417.4" rx="23.2" ry="18.5" fill="url(#hg)" fill-opacity="0.6"/><ellipse cx="303.4" cy="428.5" rx="17.6" ry="13.3" fill="url(#hg)" fill-opacity="0.5"/><ellipse cx="318.6" cy="430.1" rx="24" ry="16.1" fill="url(#hg)" fill-opacity="0.8"/><ellipse cx="331.6" cy="447.8" rx="18.8" ry="14.9" fill="url(#hg)" fill-opacity="0.8"/><ellipse cx="334.7" cy="453" rx="19" ry="15.9" fill="url(#hg)" fill-opacity="0.8"/><ellipse cx="347.2" cy="464.2" rx="22.2" ry="15" fill="url(#hg)" fill-opacity="0.9"/><ellipse cx="359" cy="473.5" rx="20.1" ry="16.4" fill="url(#hg)" fill-opacity="0.9"/><ellipse cx="87.3" cy="202.6" rx="18.9" ry="13.9" fill="url(#hg)" fill-opacity="0.6"/><ellipse cx="95.1" cy="217.7" rx="20.5" ry="16.3" fill="url(#hg)" fill-opacity="0.7"/><ellipse cx="105.2" cy="224" rx="18.5" ry="16.3" fill="url(#hg)" fill-opacity="0.6"/><ellipse cx="121.4" cy="231.4" rx="16" ry="12.7" fill="url(#hg)" fill-opacity="0.9"/><ellipse cx="133.8" cy="249.2" rx="13.7" ry="10" fill="url(#hg)" fill-opacity="0.6"/><ellipse cx="148.3" cy="255.9" rx="14" ry="11.4" fill="url(#hg)" fill-opacity="0.9"/><ellipse cx="160.4" cy="266.4" rx="17.2" ry="14.2" fill="url(#hg)" fill-opacity="0.6"/><ellipse cx="167.1" cy="277.2" rx="14.5" ry="12.7" fill="url(#hg)" fill-opacity="0.5"/><ellipse cx="184.7" cy="288.9" rx="21.8" ry="17.4" fill="url(#hg)" fill-opacity="0.8"/><ellipse cx="195.3" cy="301.5" rx="19.1" ry="16.8" fill="url(#hg)" fill-opacity="0.7"/><ellipse cx="203.9" cy="309.9" rx="15.1" ry="11.1" fill="url(#hg)" fill-opacity="0.7"/><ellipse cx="211.8" cy="318.5" rx="16" ry="10.7" fill="url(#hg)" fill-opacity="0.8"/><ellipse cx="224.4" cy="328" rx="21.9" ry="16.2" fill="url(#hg)" fill-opacity="0.6"/><ellipse cx="239.2" cy="339.1" rx="14" ry="10.4" fill="url(#hg)" fill-opacity="0.5"/><ellipse cx="251.3" cy="354.6" rx="19.1" ry="13.8" fill="url(#hg)" fill-opacity="0.6"/><ellipse cx="262.6" cy="359.4" rx="24.5" ry="18.6" fill="url(#hg)" fill-opacity="0.7"/><ellipse cx="277" cy="373.5" rx="22.2" ry="18.3" fill="url(#hg)" fill-opacity="0.7"/><ellipse cx="272.2" cy="381.6" rx="13.9" ry="10.6" fill="url(#hg)" fill-opacity="0.7"/><ellipse cx="294.8" cy="391.8" rx="19.3" ry="13.4" fill="url(#hg)" fill-opacity="0.7"/><ellipse cx="305.4" cy="400.5" rx="18.2" ry="13.1" fill="url(#hg)" fill-opacity="0.7"/><ellipse cx="314.3" cy="415.9" rx="18.9" ry="13.7" fill="url(#hg)" fill-opacity="0.6"/><ellipse cx="326" cy="418.9" rx="17.5" ry="13.5" fill="url(#hg)" fill-opacity="0.6"/><ellipse cx="333.8" cy="433.3" rx="13.4" ry="10.5" fill="url(#hg)" fill-opacity="0.7"/><ellipse cx="340.3" cy="445.9" rx="18.8" ry="15.4" fill="url(#hg)" fill-opacity="0.5"/><ellipse cx="359.1" cy="456.7" rx="17.2" ry="10.8" fill="url(#hg)" fill-opacity="0.5"/><ellipse cx="368.9" cy="464.4" rx="18.3" ry="13.2" fill="url(#hg)" fill-opacity="0.5"/><ellipse cx="96.9" cy="193.3" rx="20" ry="17.1" fill="url(#hg)" fill-opacity="0.7"/><ellipse cx="103.5" cy="206.2" rx="21.4" ry="15.1" fill="url(#hg)" fill-opacity="0.5"/><ellipse cx="126.6" cy="220.7" rx="16.1" ry="12.6" fill="url(#hg)" fill-opacity="0.5"/><ellipse cx="123.3" cy="225.4" rx="14.6" ry="11.7" fill="url(#hg)" fill-opacity="0.6"/><ellipse cx="147.4" cy="234.9" rx="23.2" ry="17.5" fill="url(#hg)" fill-opacity="0.5"/><ellipse cx="153.5" cy="250.7" rx="19.6" ry="16" fill="url(#hg)" fill-opacity="0.9"/><ellipse cx="160.8" cy="260.3" rx="17.6" ry="14.1" fill="url(#hg)" fill-opacity="0.6"/><ellipse cx="182.2" cy="269.7" rx="21.6" ry="18" fill="url(#hg)" fill-opacity="0.7"/><ellipse cx="185.1" cy="277.6" rx="20.8" ry="15" fill="url(#hg)" fill-opacity="0.6"/><ellipse cx="203.6" cy="289.3" rx="19.7" ry="15.5" fill="url(#hg)" fill-opacity="0.6"/><ellipse cx="209" cy="294.3" rx="19.5" ry="14.4" fill="url(#hg)" fill-opacity="0.5"/><ellipse cx="224.1" cy="315.9" rx="22.1" ry="16.6" fill="url(#hg)" fill-opacity="0.7"/><ellipse cx="241.2" cy="320.1" rx="16.5" ry="11.6" fill="url(#hg)" fill-opacity="0.7"/><ellipse cx="246.8" cy="324.1" rx="17.2" ry="13.2" fill="url(#hg)" fill-opacity="0.8"/><ellipse cx="250.4" cy="339.7" rx="16.2" ry="12.1" fill="url(#hg)" fill-opacity="0.5"/><ellipse cx="271.3" cy="358.8" rx="16.6" ry="12.2" fill="url(#hg)" fill-opacity="0.9"/><ellipse cx="284.7" cy="364.3" rx="17.7" ry="13.6" fill="url(#hg)" fill-opacity="0.5"/><ellipse cx="291.5" cy="366.4" rx="16.5" ry="10.2" fill="url(#hg)" fill-opacity="0.9"/><ellipse cx="299.1" cy="386.6" rx="18.2" ry="13" fill="url(#hg)" fill-opacity="0.8"/><ellipse cx="321.6" cy="394.7" rx="18.4" ry="13.4" fill="url(#hg)" fill-opacity="0.6"/><ellipse cx="331" cy="401.7" rx="20.6" ry="17.3" fill="url(#hg)" fill-opacity="0.7"/><ellipse cx="336.1" cy="408.3" rx="17.9" ry="12.2" fill="url(#hg)" fill-opacity="0.8"/><ellipse cx="351.2" cy="421.7" rx="21.7" ry="14.9" fill="url(#hg)" fill-opacity="0.7"/><ellipse cx="364.4" cy="428.7" rx="16.7" ry="13.4" fill="url(#hg)" fill-opacity="0.6"/><ellipse cx="379.3" cy="443.2" rx="26.8" ry="18.4" fill="url(#hg)" fill-opacity="1"/><ellipse cx="383.6" cy="454.7" rx="21.5" ry="16.3" fill="url(#hg)" fill-opacity="0.7"/><ellipse cx="109.9" cy="188.3" rx="24.6" ry="15.9" fill="url(#hg)" fill-opacity="1"/><ellipse cx="112.2" cy="198.8" rx="18.5" ry="15.1" fill="url(#hg)" fill-opacity="0.8"/><ellipse cx="129" cy="215.8" rx="15.5" ry="11.6" fill="url(#hg)" fill-opacity="0.9"/><ellipse cx="142.9" cy="217.6" rx="13.5" ry="10.6" fill="url(#hg)" fill-opacity="0.5"/><ellipse cx="153.3" cy="235.8" rx="22.5" ry="16.9" fill="url(#hg)" fill-opacity="0.9"/><ellipse cx="160.8" cy="239.1" rx="16.1" ry="12.5" fill="url(#hg)" fill-opacity="0.8"/><ellipse cx="179.3" cy="255.7" rx="16" ry="13.5" fill="url(#hg)" fill-opacity="0.9"/><ellipse cx="183.8" cy="260.7" rx="18" ry="14.5" fill="url(#hg)" fill-opacity="0.8"/><ellipse cx="196.9" cy="268.5" rx="12.9" ry="11.5" fill="url(#hg)" fill-opacity="0.7"/><ellipse cx="219.3" cy="281.1" rx="19.7" ry="15.9" fill="url(#hg)" fill-opacity="0.5"/><ellipse cx="220.7" cy="291.1" rx="14.5" ry="9.8" fill="url(#hg)" fill-opacity="0.7"/><ellipse cx="235.1" cy="306.9" rx="16.6" ry="12" fill="url(#hg)" fill-opacity="0.7"/><ellipse cx="249.1" cy="313" rx="24.4" ry="16" fill="url(#hg)" fill-opacity="0.6"/><ellipse cx="263.1" cy="323.1" rx="20.5" ry="14.5" fill="url(#hg)" fill-opacity="0.6"/><ellipse cx="260.6" cy="331" rx="22.4" ry="16.9" fill="url(#hg)" fill-opacity="0.7"/><ellipse cx="286.6" cy="345.4" rx="22.5" ry="16.3" fill="url(#hg)" fill-opacity="0.8"/><ellipse cx="285.3" cy="352.9" rx="23.6" ry="16" fill="url(#hg)" fill-opacity="0.7"/><ellipse cx="301.5" cy="364" rx="21.6" ry="18.6" fill="url(#hg)" fill-opacity="0.6"/><ellipse cx="313.3" cy="375.2" rx="20.2" ry="15.1" fill="url(#hg)" fill-opacity="1"/><ellipse cx="322.7" cy="378.2" rx="20.2" ry="15.1" fill="url(#hg)" fill-opacity="0.6"/><ellipse cx="344.3" cy="395.4" rx="16.3" ry="11.4" fill="url(#hg)" fill-opacity="0.8"/><ellipse cx="358.2" cy="404.2" rx="19" ry="17.5" fill="url(#hg)" fill-opacity="0.6"/><ellipse cx="363.1" cy="418.1" rx="16.6" ry="15.1" fill="url(#hg)" fill-opacity="1"/><ellipse cx="369.4" cy="424.9" rx="15.7" ry="12.5" fill="url(#hg)" fill-opacity="1"/><ellipse cx="376.8" cy="436" rx="14.8" ry="12.9" fill="url(#hg)" fill-opacity="0.9"/><ellipse cx="400.2" cy="442.1" rx="13.8" ry="11.6" fill="url(#hg)" fill-opacity="1"/><ellipse cx="112.5" cy="184.8" rx="16.3" ry="13.4" fill="url(#hg)" fill-opacity="0.5"/><ellipse cx="132.8" cy="200.1" rx="16.2" ry="10.2" fill="url(#hg)" fill-opacity="1"/><ellipse cx="145.5" cy="204.8" rx="12.7" ry="11.8" fill="url(#hg)" fill-opacity="0.6"/><ellipse cx="154" cy="219.2" rx="18.4" ry="18" fill="url(#hg)" fill-opacity="0.8"/><ellipse cx="160" cy="221.5" rx="19.2" ry="12.1" fill="url(#hg)" fill-opacity="0.6"/><ellipse cx="169.3" cy="233.2" rx="18.6" ry="11.3" fill="url(#hg)" fill-opacity="0.6"/><ellipse cx="197.8" cy="245.7" rx="20.7" ry="16.4" fill="url(#hg)" fill-opacity="1"/><ellipse cx="201.7" cy="256" rx="14.2" ry="12" fill="url(#hg)" fill-opacity="0.9"/><ellipse cx="214.8" cy="262.7" rx="18" ry="13.4" fill="url(#hg)" fill-opacity="0.8"/><ellipse cx="223" cy="268.9" rx="21.4" ry="15.8" fill="url(#hg)" fill-opacity="0.6"/><ellipse cx="242.5" cy="283.5" rx="14.3" ry="10.8" fill="url(#hg)" fill-opacity="0.5"/><ellipse cx="249.7" cy="289.4" rx="19.4" ry="14.6" fill="url(#hg)" fill-opacity="0.9"/><ellipse cx="265.3" cy="305.9" rx="20.4" ry="16.5" fill="url(#hg)" fill-opacity="0.5"/><ellipse cx="268.6" cy="312.9" rx="15.7" ry="11.1" fill="url(#hg)" fill-opacity="0.8"/><ellipse cx="277.1" cy="323.1" rx="17.9" ry="14.8" fill="url(#hg)" fill-opacity="1"/><ellipse cx="298.9" cy="333.5" rx="19.1" ry="12" fill="url(#hg)" fill-opacity="0.6"/><ellipse cx="305.7" cy="345.6" rx="18.1" ry="12.5" fill="url(#hg)" fill-opacity="1"/><ellipse cx="314.1" cy="353.7" rx="21.3" ry="16.5" fill="url(#hg)" fill-opacity="0.8"/><ellipse cx="326.9" cy="365" rx="14.6" ry="12.4" fill="url(#hg)" fill-opacity="0.9"/><ellipse cx="336.9" cy="380.5" rx="20.6" ry="13.3" fill="url(#hg)" fill-opacity="0.6"/><ellipse cx="353.7" cy="386.2" rx="20.6" ry="14.9" fill="url(#hg)" fill-opacity="0.7"/><ellipse cx="358.8" cy="395.1" rx="17.7" ry="14.5" fill="url(#hg)" fill-opacity="0.9"/><ellipse cx="369.5" cy="399.1" rx="16.1" ry="13.1" fill="url(#hg)" fill-opacity="0.6"/><ellipse cx="377.6" cy="415.6" rx="15.1" ry="13.4" fill="url(#hg)" fill-opacity="1"/><ellipse cx="398.1" cy="424.7" rx="25.1" ry="19.2" fill="url(#hg)" fill-opacity="0.7"/><ellipse cx="404.7" cy="427.6" rx="20.9" ry="16.4" fill="url(#hg)" fill-opacity="0.9"/><ellipse cx="125.1" cy="177" rx="20.9" ry="13.9" fill="url(#hg)" fill-opacity="0.5"/><ellipse cx="135.3" cy="184.8" rx="18.6" ry="14.7" fill="url(#hg)" fill-opacity="0.7"/><ellipse cx="152.8" cy="197.3" rx="19.6" ry="14.1" fill="url(#hg)" fill-opacity="0.5"/><ellipse cx="171.7" cy="206.5" rx="13.8" ry="11.3" fill="url(#hg)" fill-opacity="1"/><ellipse cx="167" cy="215.8" rx="17.2" ry="14.7" fill="url(#hg)" fill-opacity="0.9"/><ellipse cx="185.4" cy="227.5" rx="20.6" ry="13.1" fill="url(#hg)" fill-opacity="0.7"/><ellipse cx="196.8" cy="240.8" rx="15.4" ry="10.5" fill="url(#hg)" fill-opacity="0.8"/><ellipse cx="204" cy="247" rx="19.5" ry="13.6" fill="url(#hg)" fill-opacity="0.6"/><ellipse cx="229" cy="254.3" rx="16.8" ry="13.3" fill="url(#hg)" fill-opacity="0.9"/><ellipse cx="230.6" cy="268.9" rx="18.5" ry="15.7" fill="url(#hg)" fill-opacity="1"/><ellipse cx="251.6" cy="275.2" rx="13.6" ry="11.6" fill="url(#hg)" fill-opacity="0.7"/><ellipse cx="257.8" cy="291" rx="17.2" ry="13.3" fill="url(#hg)" fill-opacity="0.6"/><ellipse cx="271.6" cy="291.1" rx="14.3" ry="10.6" fill="url(#hg)" fill-opacity="0.7"/><ellipse cx="282.5" cy="308.9" rx="18.9" ry="16.1" fill="url(#hg)" fill-opacity="0.7"/><ellipse cx="285.7" cy="315" rx="17.3" ry="12" fill="url(#hg)" fill-opacity="0.6"/><ellipse cx="299.6" cy="326.1" rx="17.9" ry="15.5" fill="url(#hg)" fill-opacity="0.6"/><ellipse cx="317.4" cy="333.5" rx="16.9" ry="11.7" fill="url(#hg)" fill-opacity="0.8"/><ellipse cx="328.4" cy="344" rx="16" ry="15" fill="url(#hg)" fill-opacity="0.9"/><ellipse cx="338.3" cy="354.2" rx="18.7" ry="13.4" fill="url(#hg)" fill-opacity="0.6"/><ellipse cx="357.4" cy="364.5" rx="20.1" ry="13.4" fill="url(#hg)" fill-opacity="0.6"/><ellipse cx="361.1" cy="369.4" rx="21.9" ry="14.7" fill="url(#hg)" fill-opacity="0.8"/><ellipse cx="375.5" cy="379" rx="21.6" ry="14.7" fill="url(#hg)" fill-opacity="0.7"/><ellipse cx="387.8" cy="394.3" rx="14.6" ry="13.4" fill="url(#hg)" fill-opacity="0.8"/><ellipse cx="397.2" cy="407.4" rx="23.5" ry="19.9" fill="url(#hg)" fill-opacity="0.9"/><ellipse cx="407" cy="407.4" rx="15.5" ry="11.9" fill="url(#hg)" fill-opacity="0.7"/><ellipse cx="418.6" cy="422.3" rx="13.3" ry="9.7" fill="url(#hg)" fill-opacity="0.7"/><ellipse cx="138.2" cy="175.1" rx="16.9" ry="11.1" fill="url(#hg)" fill-opacity="0.7"/><ellipse cx="149.1" cy="183" rx="16.1" ry="12.3" fill="url(#hg)" fill-opacity="0.7"/><ellipse cx="161.7" cy="193.3" rx="13" ry="11.3" fill="url(#hg)" fill-opacity="1"/><ellipse cx="180" cy="199" rx="14.6" ry="12" fill="url(#hg)" fill-opacity="0.7"/><ellipse cx="188.1" cy="204.6" rx="21.4" ry="16.2" fill="url(#hg)" fill-opacity="0.6"/><ellipse cx="200.6" cy="214.4" rx="18.4" ry="12.9" fill="url(#hg)" fill-opacity="0.6"/><ellipse cx="218.6" cy="228.8" rx="22.2" ry="13.6" fill="url(#hg)" fill-opacity="0.9"/><ellipse cx="221.9" cy="235" rx="19.9" ry="12.8" fill="url(#hg)" fill-opacity="0.9"/><ellipse cx="232.1" cy="252.3" rx="16" ry="11.8" fill="url(#hg)" fill-opacity="0.9"/><ellipse cx="247.7" cy="256.3" rx="19.3" ry="16.2" fill="url(#hg)" fill-opacity="0.6"/><ellipse cx="258.1" cy="267.9" rx="14.9" ry="12" fill="url(#hg)" fill-opacity="0.8"/><ellipse cx="268" cy="281.4" rx="20.7" ry="15.2" fill="url(#hg)" fill-opacity="0.9"/><ellipse cx="273.8" cy="283.6" rx="20.2" ry="15.9" fill="url(#hg)" fill-opacity="0.6"/><ellipse cx="292.8" cy="302.9" rx="20.6" ry="16.7" fill="url(#hg)" fill-opacity="0.6"/><ellipse cx="305" cy="306.6" rx="17.6" ry="13.5" fill="url(#hg)" fill-opacity="0.8"/><ellipse cx="314.5" cy="308.7" rx="12.3" ry="11.4" fill="url(#hg)" fill-opacity="0.7"/><ellipse cx="330.5" cy="329.1" rx="18.5" ry="15.8" fill="url(#hg)" fill-opacity="0.5"/><ellipse cx="337.2" cy="337.6" rx="13.6" ry="12" fill="url(#hg)" fill-opacity="0.7"/><ellipse cx="349.6" cy="335.9" rx="21" ry="17.8" fill="url(#hg)" fill-opacity="0.7"/><ellipse cx="360.3" cy="350" rx="16.1" ry="13.4" fill="url(#hg)" fill-opacity="0.7"/><ellipse cx="368.3" cy="364.3" rx="14.4" ry="11.8" fill="url(#hg)" fill-opacity="0.8"/><ellipse cx="382.3" cy="369.3" rx="12.6" ry="10.7" fill="url(#hg)" fill-opacity="0.6"/><ellipse cx="393.2" cy="378.8" rx="22.4" ry="17.3" fill="url(#hg)" fill-opacity="0.9"/><ellipse cx="405.9" cy="390.1" rx="15.3" ry="14.3" fill="url(#hg)" fill-opacity="0.8"/><ellipse cx="418.3" cy="408.2" rx="21.1" ry="15.3" fill="url(#hg)" fill-opacity="0.6"/><ellipse cx="431.2" cy="402" rx="18.8" ry="11.3" fill="url(#hg)" fill-opacity="0.7"/><ellipse cx="149.9" cy="164.6" rx="20.5" ry="14" fill="url(#hg)" fill-opacity="0.7"/><ellipse cx="161.4" cy="180.4" rx="23" ry="14" fill="url(#hg)" fill-opacity="0.8"/><ellipse cx="173.5" cy="186" rx="14.8" ry="10.9" fill="url(#hg)" fill-opacity="0.8"/><ellipse cx="188" cy="200.8" rx="15.4" ry="9.5" fill="url(#hg)" fill-opacity="0.5"/><ellipse cx="201.6" cy="202.4" rx="20" ry="15.7" fill="url(#hg)" fill-opacity="0.5"/><ellipse cx="212.2" cy="211.9" rx="18.7" ry="14.8" fill="url(#hg)" fill-opacity="0.8"/><ellipse cx="225.4" cy="218.8" rx="19.9" ry="14.5" fill="url(#hg)" fill-opacity="0.7"/><ellipse cx="229.5" cy="226.9" rx="17.2" ry="11.5" fill="url(#hg)" fill-opacity="0.7"/><ellipse cx="241" cy="241.3" rx="20.6" ry="16.4" fill="url(#hg)" fill-opacity="0.7"/><ellipse cx="251.8" cy="250.8" rx="13" ry="10.9" fill="url(#hg)" fill-opacity="0.8"/><ellipse cx="262.1" cy="258.6" rx="13.1" ry="11" fill="url(#hg)" fill-opacity="0.6"/><ellipse cx="284.1" cy="266.2" rx="16.4" ry="11.3" fill="url(#hg)" fill-opacity="0.9"/><ellipse cx="292.2" cy="274.8" rx="19" ry="14.4" fill="url(#hg)" fill-opacity="0.6"/><ellipse cx="300.6" cy="290.5" rx="21" ry="13.5" fill="url(#hg)" fill-opacity="0.9"/><ellipse cx="312.6" cy="295.6" rx="18.1" ry="13" fill="url(#hg)" fill-opacity="0.7"/><ellipse cx="329.3" cy="306.3" rx="20.4" ry="18.7" fill="url(#hg)" fill-opacity="0.9"/><ellipse cx="344.3" cy="317.2" rx="16.5" ry="12.8" fill="url(#hg)" fill-opacity="0.6"/><ellipse cx="354.3" cy="327.2" rx="18.5" ry="14.1" fill="url(#hg)" fill-opacity="0.7"/><ellipse cx="353.6" cy="334.3" rx="21.4" ry="15.9" fill="url(#hg)" fill-opacity="0.7"/><ellipse cx="373.5" cy="336.9" rx="16.1" ry="10.4" fill="url(#hg)" fill-opacity="0.7"/><ellipse cx="385.8" cy="345.9" rx="16.7" ry="10.7" fill="url(#hg)" fill-opacity="0.6"/><ellipse cx="396.4" cy="355" rx="21.8" ry="16.6" fill="url(#hg)" fill-opacity="0.6"/><ellipse cx="407.4" cy="370.8" rx="18.3" ry="13.2" fill="url(#hg)" fill-opacity="0.9"/><ellipse cx="424.9" cy="377.7" rx="19.6" ry="16" fill="url(#hg)" fill-opacity="0.6"/><ellipse cx="430.7" cy="396.7" rx="26.2" ry="18.1" fill="url(#hg)" fill-opacity="0.6"/><ellipse cx="435.5" cy="395.6" rx="20.8" ry="16.1" fill="url(#hg)" fill-opacity="1"/><ellipse cx="165.3" cy="165.6" rx="16.4" ry="10.7" fill="url(#hg)" fill-opacity="0.9"/><ellipse cx="172.8" cy="168.9" rx="19.1" ry="13.3" fill="url(#hg)" fill-opacity="0.6"/><ellipse cx="182.8" cy="174.4" rx="19.6" ry="14.4" fill="url(#hg)" fill-opacity="0.7"/><ellipse cx="192.7" cy="188.5" rx="17.4" ry="13" fill="url(#hg)" fill-opacity="0.6"/><ellipse cx="212.8" cy="199.1" rx="18.3" ry="12.9" fill="url(#hg)" fill-opacity="0.6"/><ellipse cx="221.8" cy="210.8" rx="16.9" ry="13.4" fill="url(#hg)" fill-opacity="0.9"/><ellipse cx="230.4" cy="214.6" rx="14.2" ry="12.7" fill="url(#hg)" fill-opacity="0.7"/><ellipse cx="244.1" cy="223.6" rx="18.6" ry="12.3" fill="url(#hg)" fill-opacity="1"/><ellipse cx="256.1" cy="238.7" rx="16.2" ry="10.7" fill="url(#hg)" fill-opacity="0.5"/><ellipse cx="271.6" cy="244.6" rx="23.3" ry="18" fill="url(#hg)" fill-opacity="0.5"/><ellipse cx="273.9" cy="248.8" rx="20" ry="16.4" fill="url(#hg)" fill-opacity="0.9"/><ellipse cx="297.7" cy="257.9" rx="21.8" ry="14.6" fill="url(#hg)" fill-opacity="0.9"/><ellipse cx="293.9" cy="269" rx="19.8" ry="16.8" fill="url(#hg)" fill-opacity="0.5"/><ellipse cx="313.1" cy="282.4" rx="14.1" ry="11.9" fill="url(#hg)" fill-opacity="0.6"/><ellipse cx="330" cy="287.7" rx="20.9" ry="15.6" fill="url(#hg)" fill-opacity="0.5"/><ellipse cx="334.2" cy="299.3" rx="21" ry="17.8" fill="url(#hg)" fill-opacity="0.6"/><ellipse cx="351.4" cy="302.1" rx="19.6" ry="13" fill="url(#hg)" fill-opacity="0.9"/><ellipse cx="366.8" cy="314.9" rx="15.3" ry="11.6" fill="url(#hg)" fill-opacity="0.9"/><ellipse cx="369.7" cy="323.3" rx="20" ry="13.8" fill="url(#hg)" fill-opacity="0.7"/><ellipse cx="388.6" cy="332.5" rx="14.8" ry="14.3" fill="url(#hg)" fill-opacity="0.9"/><ellipse cx="394.5" cy="340.1" rx="22.8" ry="16.5" fill="url(#hg)" fill-opacity="0.6"/><ellipse cx="405.6" cy="353.1" rx="20" ry="14" fill="url(#hg)" fill-opacity="0.7"/><ellipse cx="420.3" cy="359.1" rx="20.2" ry="15.5" fill="url(#hg)" fill-opacity="0.7"/><ellipse cx="429.4" cy="363.1" rx="20.6" ry="18.1" fill="url(#hg)" fill-opacity="0.5"/><ellipse cx="440" cy="377.7" rx="19.5" ry="15.3" fill="url(#hg)" fill-opacity="0.6"/><ellipse cx="453.7" cy="387" rx="9.6" ry="7.5" fill="url(#hg)" fill-opacity="1"/><ellipse cx="175.3" cy="155.3" rx="16" ry="12.6" fill="url(#hg)" fill-opacity="0.8"/><ellipse cx="180.9" cy="165.7" rx="14.9" ry="14" fill="url(#hg)" fill-opacity="0.7"/><ellipse cx="197.3" cy="174.4" rx="18" ry="15" fill="url(#hg)" fill-opacity="0.8"/><ellipse cx="203.6" cy="178.5" rx="17.1" ry="13.7" fill="url(#hg)" fill-opacity="0.7"/><ellipse cx="211.4" cy="189.2" rx="12.8" ry="12" fill="url(#hg)" fill-opacity="0.8"/><ellipse cx="232.3" cy="202.1" rx="16.4" ry="15.2" fill="url(#hg)" fill-opacity="0.6"/><ellipse cx="245.6" cy="201.5" rx="14.5" ry="13" fill="url(#hg)" fill-opacity="0.9"/><ellipse cx="253" cy="213.1" rx="18" ry="11.5" fill="url(#hg)" fill-opacity="1"/><ellipse cx="275.3" cy="226.3" rx="20.2" ry="16.6" fill="url(#hg)" fill-opacity="0.6"/><ellipse cx="273" cy="232.5" rx="16.3" ry="10.3" fill="url(#hg)" fill-opacity="0.9"/><ellipse cx="293.3" cy="246.7" rx="21.4" ry="16.8" fill="url(#hg)" fill-opacity="0.5"/><ellipse cx="298.3" cy="252.5" rx="18.2" ry="14.5" fill="url(#hg)" fill-opacity="0.9"/><ellipse cx="319.9" cy="258.9" rx="16.8" ry="13.6" fill="url(#hg)" fill-opacity="0.9"/><ellipse cx="322.3" cy="269.4" rx="17.7" ry="16" fill="url(#hg)" fill-opacity="0.5"/><ellipse cx="338" cy="277" rx="15.8" ry="11.7" fill="url(#hg)" fill-opacity="1"/><ellipse cx="353" cy="284.6" rx="24.1" ry="15.2" fill="url(#hg)" fill-opacity="0.9"/><ellipse cx="368.2" cy="297" rx="20.2" ry="14.7" fill="url(#hg)" fill-opacity="0.8"/><ellipse cx="371" cy="309.4" rx="21.1" ry="14.2" fill="url(#hg)" fill-opacity="0.7"/><ellipse cx="388.6" cy="311.4" rx="17.8" ry="13.1" fill="url(#hg)" fill-opacity="0.8"/><ellipse cx="392.3" cy="320.7" rx="25.8" ry="18.8" fill="url(#hg)" fill-opacity="0.6"/><ellipse cx="405.2" cy="336.1" rx="22.9" ry="15.5" fill="url(#hg)" fill-opacity="0.9"/><ellipse cx="416.4" cy="339" rx="19.5" ry="15.6" fill="url(#hg)" fill-opacity="0.9"/><ellipse cx="429.9" cy="341.3" rx="22.1" ry="15.5" fill="url(#hg)" fill-opacity="0.8"/><ellipse cx="439.3" cy="350.7" rx="22.6" ry="17" fill="url(#hg)" fill-opacity="0.7"/><ellipse cx="449.4" cy="362.6" rx="18.1" ry="16.4" fill="url(#hg)" fill-opacity="0.9"/><ellipse cx="466" cy="377.9" rx="12" ry="8.3" fill="url(#hg)" fill-opacity="0.9"/><ellipse cx="191.6" cy="149.1" rx="14.7" ry="9" fill="url(#hg)" fill-opacity="0.8"/><ellipse cx="193" cy="153.8" rx="18.3" ry="12.9" fill="url(#hg)" fill-opacity="0.7"/><ellipse cx="211" cy="162.8" rx="20" ry="14" fill="url(#hg)" fill-opacity="1"/><ellipse cx="214" cy="175" rx="17.5" ry="15.1" fill="url(#hg)" fill-opacity="0.9"/><ellipse cx="231.7" cy="181.3" rx="21.4" ry="15.2" fill="url(#hg)" fill-opacity="0.8"/><ellipse cx="241.2" cy="192.1" rx="24.7" ry="14.5" fill="url(#hg)" fill-opacity="0.6"/><ellipse cx="255.8" cy="204.4" rx="13.5" ry="12.1" fill="url(#hg)" fill-opacity="0.6"/><ellipse cx="271.4" cy="205.3" rx="23" ry="14.9" fill="url(#hg)" fill-opacity="0.9"/><ellipse cx="274.9" cy="215.9" rx="14.4" ry="10.6" fill="url(#hg)" fill-opacity="0.7"/><ellipse cx="290.4" cy="221.4" rx="15.2" ry="12.6" fill="url(#hg)" fill-opacity="0.9"/><ellipse cx="298.1" cy="232.1" rx="16.1" ry="11.1" fill="url(#hg)" fill-opacity="0.9"/><ellipse cx="312.7" cy="249.6" rx="20.8" ry="14" fill="url(#hg)" fill-opacity="0.5"/><ellipse cx="322.8" cy="255.5" rx="12.2" ry="11.2" fill="url(#hg)" fill-opacity="0.9"/><ellipse cx="343.5" cy="260.4" rx="20.6" ry="14.9" fill="url(#hg)" fill-opacity="0.8"/><ellipse cx="342.2" cy="266.2" rx="13.4" ry="10.9" fill="url(#hg)" fill-opacity="0.6"/><ellipse cx="365" cy="274.5" rx="22.8" ry="14.5" fill="url(#hg)" fill-opacity="0.9"/><ellipse cx="373.3" cy="280.8" rx="16.2" ry="12.5" fill="url(#hg)" fill-opacity="0.9"/><ellipse cx="382.7" cy="296.7" rx="13.8" ry="11.1" fill="url(#hg)" fill-opacity="0.9"/><ellipse cx="394.4" cy="310.8" rx="16.2" ry="10.1" fill="url(#hg)" fill-opacity="0.9"/><ellipse cx="413.6" cy="313" rx="19.4" ry="13.3" fill="url(#hg)" fill-opacity="0.9"/><ellipse cx="417.2" cy="327.7" rx="17.2" ry="16.7" fill="url(#hg)" fill-opacity="0.7"/><ellipse cx="421.9" cy="331.9" rx="13.5" ry="11.6" fill="url(#hg)" fill-opacity="1"/><ellipse cx="445.4" cy="339.7" rx="23.4" ry="16.3" fill="url(#hg)" fill-opacity="0.6"/><ellipse cx="448.9" cy="350.7" rx="17.4" ry="11.8" fill="url(#hg)" fill-opacity="0.8"/><ellipse cx="465.2" cy="356" rx="14.8" ry="12.7" fill="url(#hg)" fill-opacity="0.6"/><ellipse cx="481.6" cy="366" rx="11.7" ry="8.1" fill="url(#hg)" fill-opacity="1"/><ellipse cx="200.3" cy="144.3" rx="16.9" ry="14.2" fill="url(#hg)" fill-opacity="0.8"/><ellipse cx="210.2" cy="152.3" rx="22.3" ry="16.9" fill="url(#hg)" fill-opacity="0.6"/><ellipse cx="223.8" cy="159.1" rx="17.9" ry="14.6" fill="url(#hg)" fill-opacity="1"/><ellipse cx="232.9" cy="170" rx="17.5" ry="13.5" fill="url(#hg)" fill-opacity="0.8"/><ellipse cx="248.8" cy="173.4" rx="18.6" ry="15.8" fill="url(#hg)" fill-opacity="0.8"/><ellipse cx="261.6" cy="185.8" rx="15.6" ry="10.7" fill="url(#hg)" fill-opacity="0.6"/><ellipse cx="262.2" cy="190.1" rx="16.5" ry="12.1" fill="url(#hg)" fill-opacity="0.9"/><ellipse cx="270.8" cy="200.6" rx="16.4" ry="13.2" fill="url(#hg)" fill-opacity="0.6"/><ellipse cx="293.1" cy="208.7" rx="17" ry="10.7" fill="url(#hg)" fill-opacity="0.8"/><ellipse cx="293.5" cy="216.9" rx="17.6" ry="13.7" fill="url(#hg)" fill-opacity="0.7"/><ellipse cx="320.3" cy="225.5" rx="12.6" ry="12.5" fill="url(#hg)" fill-opacity="0.7"/><ellipse cx="317.2" cy="235.5" rx="17.8" ry="14.5" fill="url(#hg)" fill-opacity="0.8"/><ellipse cx="336.2" cy="245.7" rx="23.8" ry="17.3" fill="url(#hg)" fill-opacity="0.8"/><ellipse cx="347.2" cy="254.4" rx="19.9" ry="14.7" fill="url(#hg)" fill-opacity="0.9"/><ellipse cx="358.4" cy="264.2" rx="19.5" ry="16.1" fill="url(#hg)" fill-opacity="1"/><ellipse cx="369.8" cy="274.5" rx="16.7" ry="14.9" fill="url(#hg)" fill-opacity="0.5"/><ellipse cx="383.8" cy="272.5" rx="24.6" ry="15.3" fill="url(#hg)" fill-opacity="0.7"/><ellipse cx="393" cy="290.4" rx="12.9" ry="10.1" fill="url(#hg)" fill-opacity="0.9"/><ellipse cx="401" cy="294.7" rx="18.3" ry="13.4" fill="url(#hg)" fill-opacity="1"/><ellipse cx="415.1" cy="303.5" rx="20.4" ry="15.4" fill="url(#hg)" fill-opacity="0.9"/><ellipse cx="430.8" cy="315.3" rx="21" ry="15.9" fill="url(#hg)" fill-opacity="0.6"/><ellipse cx="443.3" cy="315" rx="15.7" ry="12.3" fill="url(#hg)" fill-opacity="0.9"/><ellipse cx="448.5" cy="331.5" rx="20.2" ry="15.3" fill="url(#hg)" fill-opacity="0.7"/><ellipse cx="463.4" cy="341.4" rx="23.2" ry="16.3" fill="url(#hg)" fill-opacity="1"/><ellipse cx="468.3" cy="344.8" rx="22.2" ry="15.7" fill="url(#hg)" fill-opacity="0.6"/><ellipse cx="487.7" cy="345.1" rx="18.3" ry="13.1" fill="url(#hg)" fill-opacity="0.9"/><ellipse cx="207.9" cy="141.4" rx="13.9" ry="13.2" fill="url(#hg)" fill-opacity="1"/><ellipse cx="215.1" cy="146.9" rx="19.5" ry="14.8" fill="url(#hg)" fill-opacity="0.9"/><ellipse cx="236.2" cy="156.9" rx="22.2" ry="16.1" fill="url(#hg)" fill-opacity="0.6"/><ellipse cx="245.9" cy="160.5" rx="17.3" ry="12.3" fill="url(#hg)" fill-opacity="0.6"/><ellipse cx="257.6" cy="165.7" rx="15.7" ry="10.5" fill="url(#hg)" fill-opacity="0.8"/><ellipse cx="261.1" cy="175.9" rx="17.3" ry="11.4" fill="url(#hg)" fill-opacity="1"/><ellipse cx="280.1" cy="189.8" rx="14.4" ry="10.1" fill="url(#hg)" fill-opacity="0.6"/><ellipse cx="288.3" cy="192.7" rx="16.3" ry="12.9" fill="url(#hg)" fill-opacity="0.7"/><ellipse cx="300.7" cy="196.2" rx="18.4" ry="13" fill="url(#hg)" fill-opacity="0.6"/><ellipse cx="313.6" cy="203.8" rx="12.4" ry="10.8" fill="url(#hg)" fill-opacity="0.9"/><ellipse cx="319.8" cy="218.4" rx="17.9" ry="13.6" fill="url(#hg)" fill-opacity="0.8"/><ellipse cx="331.9" cy="229.9" rx="15.1" ry="12.1" fill="url(#hg)" fill-opacity="0.7"/><ellipse cx="346.3" cy="237.4" rx="17.2" ry="14" fill="url(#hg)" fill-opacity="0.7"/><ellipse cx="356.6" cy="241.2" rx="18" ry="16.2" fill="url(#hg)" fill-opacity="0.7"/><ellipse cx="363.3" cy="250.3" rx="13.5" ry="12.2" fill="url(#hg)" fill-opacity="0.7"/><ellipse cx="386.2" cy="263.2" rx="24.1" ry="16" fill="url(#hg)" fill-opacity="0.7"/><ellipse cx="391.1" cy="265.7" rx="15.4" ry="12" fill="url(#hg)" fill-opacity="0.9"/><ellipse cx="405.7" cy="274.4" rx="18.6" ry="14.4" fill="url(#hg)" fill-opacity="0.5"/><ellipse cx="419.9" cy="280.5" rx="19.2" ry="13.7" fill="url(#hg)" fill-opacity="0.7"/><ellipse cx="422.8" cy="295.9" rx="17.3" ry="12.3" fill="url(#hg)" fill-opacity="0.8"/><ellipse cx="440.1" cy="304.5" rx="17.8" ry="15.6" fill="url(#hg)" fill-opacity="0.7"/><ellipse cx="444.9" cy="310.8" rx="14.2" ry="12.2" fill="url(#hg)" fill-opacity="1"/><ellipse cx="461" cy="312.6" rx="14.9" ry="12" fill="url(#hg)" fill-opacity="0.8"/><ellipse cx="469.6" cy="329.5" rx="19.1" ry="15" fill="url(#hg)" fill-opacity="0.7"/><ellipse cx="484.8" cy="330.3" rx="19.3" ry="12.5" fill="url(#hg)" fill-opacity="0.8"/><ellipse cx="494.5" cy="338.8" rx="16.4" ry="11" fill="url(#hg)" fill-opacity="0.6"/><ellipse cx="217.7" cy="131.8" rx="15.3" ry="11.7" fill="url(#hg)" fill-opacity="0.6"/><ellipse cx="232.3" cy="139.1" rx="13.8" ry="9.7" fill="url(#hg)" fill-opacity="1"/><ellipse cx="243.4" cy="141.3" rx="17.8" ry="12.8" fill="url(#hg)" fill-opacity="0.9"/><ellipse cx="261.5" cy="154" rx="20.7" ry="14.1" fill="url(#hg)" fill-opacity="0.8"/><ellipse cx="271.3" cy="164" rx="19.1" ry="14.3" fill="url(#hg)" fill-opacity="0.8"/><ellipse cx="276.9" cy="168.7" rx="22.3" ry="16.2" fill="url(#hg)" fill-opacity="0.8"/><ellipse cx="287.9" cy="174.8" rx="17.8" ry="16.7" fill="url(#hg)" fill-opacity="0.8"/><ellipse cx="295.2" cy="185.5" rx="18" ry="14.6" fill="url(#hg)" fill-opacity="0.5"/><ellipse cx="315.3" cy="191.1" rx="18" ry="13.2" fill="url(#hg)" fill-opacity="0.7"/><ellipse cx="321.4" cy="203.4" rx="12.5" ry="11.1" fill="url(#hg)" fill-opacity="0.6"/><ellipse cx="334.9" cy="215.8" rx="16.7" ry="12.9" fill="url(#hg)" fill-opacity="0.9"/><ellipse cx="348" cy="221.5" rx="14.6" ry="9.7" fill="url(#hg)" fill-opacity="0.8"/><ellipse cx="359.2" cy="229.4" rx="17.2" ry="12.2" fill="url(#hg)" fill-opacity="0.9"/><ellipse cx="369.9" cy="229.8" rx="22.7" ry="14.3" fill="url(#hg)" fill-opacity="0.6"/><ellipse cx="390.9" cy="241.8" rx="15.8" ry="12.4" fill="url(#hg)" fill-opacity="0.6"/><ellipse cx="394.1" cy="246.2" rx="20.7" ry="15.6" fill="url(#hg)" fill-opacity="0.6"/><ellipse cx="408.5" cy="258.1" rx="14.1" ry="11.1" fill="url(#hg)" fill-opacity="0.6"/><ellipse cx="424.1" cy="263.4" rx="23.4" ry="15.1" fill="url(#hg)" fill-opacity="0.7"/><ellipse cx="436.3" cy="272.4" rx="24.9" ry="18.3" fill="url(#hg)" fill-opacity="0.9"/><ellipse cx="443.1" cy="277.6" rx="13.4" ry="9.4" fill="url(#hg)" fill-opacity="0.6"/><ellipse cx="449.8" cy="287.4" rx="14.3" ry="11.9" fill="url(#hg)" fill-opacity="0.8"/><ellipse cx="468.3" cy="300.2" rx="13.6" ry="10" fill="url(#hg)" fill-opacity="1"/><ellipse cx="477.3" cy="305.7" rx="18.6" ry="18.2" fill="url(#hg)" fill-opacity="0.7"/><ellipse cx="486.3" cy="311.8" rx="19.9" ry="15.2" fill="url(#hg)" fill-opacity="0.6"/><ellipse cx="499.4" cy="319.2" rx="15" ry="12.1" fill="url(#hg)" fill-opacity="0.7"/><ellipse cx="513.6" cy="331.2" rx="13.8" ry="9.2" fill="url(#hg)" fill-opacity="0.9"/><ellipse cx="235.6" cy="122.3" rx="11.2" ry="10.3" fill="url(#hg)" fill-opacity="0.9"/><ellipse cx="244.8" cy="131" rx="15.3" ry="13.4" fill="url(#hg)" fill-opacity="1"/><ellipse cx="252.2" cy="142.5" rx="20.8" ry="14.6" fill="url(#hg)" fill-opacity="0.6"/><ellipse cx="272.4" cy="149.3" rx="19.6" ry="16.3" fill="url(#hg)" fill-opacity="0.9"/><ellipse cx="278.6" cy="158" rx="14.7" ry="10.7" fill="url(#hg)" fill-opacity="0.9"/><ellipse cx="286.5" cy="158.4" rx="12.7" ry="9.4" fill="url(#hg)" fill-opacity="0.9"/><ellipse cx="298.1" cy="173.6" rx="16.9" ry="14.7" fill="url(#hg)" fill-opacity="0.7"/><ellipse cx="313.8" cy="179.8" rx="15" ry="14" fill="url(#hg)" fill-opacity="0.9"/><ellipse cx="323.9" cy="186.1" rx="17.3" ry="12.5" fill="url(#hg)" fill-opacity="0.8"/><ellipse cx="335" cy="188.6" rx="20.8" ry="18.5" fill="url(#hg)" fill-opacity="0.9"/><ellipse cx="341.4" cy="201.6" rx="23.8" ry="17.2" fill="url(#hg)" fill-opacity="0.8"/><ellipse cx="361.7" cy="211.4" rx="22.5" ry="14.8" fill="url(#hg)" fill-opacity="0.9"/><ellipse cx="375.2" cy="214.5" rx="12.2" ry="10.6" fill="url(#hg)" fill-opacity="0.7"/><ellipse cx="387.2" cy="222.9" rx="17.6" ry="15" fill="url(#hg)" fill-opacity="0.9"/><ellipse cx="401.4" cy="232.4" rx="15.8" ry="13.5" fill="url(#hg)" fill-opacity="0.5"/><ellipse cx="396.9" cy="242.1" rx="19.1" ry="16.1" fill="url(#hg)" fill-opacity="0.9"/><ellipse cx="414.5" cy="242.7" rx="21.4" ry="15.8" fill="url(#hg)" fill-opacity="0.9"/><ellipse cx="432.2" cy="254.3" rx="21.8" ry="14.8" fill="url(#hg)" fill-opacity="0.6"/><ellipse cx="442.1" cy="259" rx="19.9" ry="14.3" fill="url(#hg)" fill-opacity="0.9"/><ellipse cx="450.7" cy="272.1" rx="13.2" ry="10.1" fill="url(#hg)" fill-opacity="0.8"/><ellipse cx="458.3" cy="276.3" rx="17.4" ry="14.6" fill="url(#hg)" fill-opacity="0.5"/><ellipse cx="470.2" cy="285" rx="21.7" ry="18.6" fill="url(#hg)" fill-opacity="0.7"/><ellipse cx="487.5" cy="299.1" rx="16.7" ry="13.1" fill="url(#hg)" fill-opacity="1"/><ellipse cx="494.7" cy="297.6" rx="20.7" ry="15.2" fill="url(#hg)" fill-opacity="0.7"/><ellipse cx="502.7" cy="312.7" rx="19.3" ry="17.8" fill="url(#hg)" fill-opacity="0.6"/><ellipse cx="524.4" cy="317.7" rx="11.4" ry="8.9" fill="url(#hg)" fill-opacity="0.6"/><ellipse cx="243.6" cy="119.1" rx="19.3" ry="14.4" fill="url(#hg)" fill-opacity="0.8"/><ellipse cx="254.4" cy="125.4" rx="18.5" ry="15.4" fill="url(#hg)" fill-opacity="0.7"/><ellipse cx="261.7" cy="135" rx="15.9" ry="13.4" fill="url(#hg)" fill-opacity="1"/><ellipse cx="278.6" cy="136.3" rx="17.8" ry="10.8" fill="url(#hg)" fill-opacity="0.5"/><ellipse cx="288.8" cy="154.4" rx="16.8" ry="11.7" fill="url(#hg)" fill-opacity="0.9"/><ellipse cx="306.9" cy="154.2" rx="21" ry="14.9" fill="url(#hg)" fill-opacity="0.6"/><ellipse cx="305.9" cy="162.6" rx="13.9" ry="10.8" fill="url(#hg)" fill-opacity="0.9"/><ellipse cx="329.9" cy="170.9" rx="15.7" ry="12.3" fill="url(#hg)" fill-opacity="0.9"/><ellipse cx="332.9" cy="180.2" rx="19.5" ry="13" fill="url(#hg)" fill-opacity="0.5"/><ellipse cx="349.4" cy="189.6" rx="15.1" ry="10.1" fill="url(#hg)" fill-opacity="0.6"/><ellipse cx="355" cy="190.2" rx="17.5" ry="12.6" fill="url(#hg)" fill-opacity="0.9"/><ellipse cx="370.7" cy="197.2" rx="21.3" ry="15.5" fill="url(#hg)" fill-opacity="0.8"/><ellipse cx="384.3" cy="210" rx="18.1" ry="15.3" fill="url(#hg)" fill-opacity="0.9"/><ellipse cx="396.5" cy="219.4" rx="16.4" ry="12.5" fill="url(#hg)" fill-opacity="0.8"/><ellipse cx="402.8" cy="227.7" rx="14.6" ry="10.9" fill="url(#hg)" fill-opacity="0.8"/><ellipse cx="424.6" cy="231.7" rx="17.3" ry="11.7" fill="url(#hg)" fill-opacity="0.8"/><ellipse cx="426.6" cy="245.4" rx="14.6" ry="11.3" fill="url(#hg)" fill-opacity="0.6"/><ellipse cx="434.7" cy="246.9" rx="17.7" ry="14.9" fill="url(#hg)" fill-opacity="1"/><ellipse cx="453.8" cy="249.4" rx="21.1" ry="15.9" fill="url(#hg)" fill-opacity="0.7"/><ellipse cx="461.8" cy="266.2" rx="18.9" ry="15.7" fill="url(#hg)" fill-opacity="0.5"/><ellipse cx="480.9" cy="269.2" rx="20.2" ry="18.1" fill="url(#hg)" fill-opacity="0.9"/><ellipse cx="482.9" cy="280.8" rx="14.4" ry="10.5" fill="url(#hg)" fill-opacity="0.6"/><ellipse cx="501.5" cy="281.4" rx="24.2" ry="14.8" fill="url(#hg)" fill-opacity="0.9"/><ellipse cx="514.2" cy="288.8" rx="15.5" ry="12.8" fill="url(#hg)" fill-opacity="0.7"/><ellipse cx="519.6" cy="302.9" rx="18.7" ry="14" fill="url(#hg)" fill-opacity="0.7"/><ellipse cx="535.7" cy="305.7" rx="15.8" ry="11.5" fill="url(#hg)" fill-opacity="0.7"/><ellipse cx="257.3" cy="112.2" rx="13.8" ry="11.3" fill="url(#hg)" fill-opacity="0.9"/><ellipse cx="265.2" cy="117.1" rx="14.9" ry="13.3" fill="url(#hg)" fill-opacity="0.7"/><ellipse cx="282.8" cy="127.9" rx="14.8" ry="9.1" fill="url(#hg)" fill-opacity="1"/><ellipse cx="289.9" cy="129.7" rx="13.5" ry="12.6" fill="url(#hg)" fill-opacity="0.9"/><ellipse cx="307.5" cy="140.8" rx="17" ry="11.6" fill="url(#hg)" fill-opacity="0.7"/><ellipse cx="312.5" cy="150.8" rx="15.7" ry="12" fill="url(#hg)" fill-opacity="0.9"/><ellipse cx="321.6" cy="156" rx="17.3" ry="14.1" fill="url(#hg)" fill-opacity="0.6"/><ellipse cx="326.3" cy="162.8" rx="18" ry="12.8" fill="url(#hg)" fill-opacity="0.8"/><ellipse cx="353.7" cy="170" rx="14.2" ry="11.9" fill="url(#hg)" fill-opacity="0.6"/><ellipse cx="354.1" cy="174.8" rx="17.4" ry="11.7" fill="url(#hg)" fill-opacity="0.6"/><ellipse cx="368.5" cy="181.8" rx="21.5" ry="17.4" fill="url(#hg)" fill-opacity="0.8"/><ellipse cx="378.1" cy="191.4" rx="15.4" ry="9.6" fill="url(#hg)" fill-opacity="0.5"/><ellipse cx="397.1" cy="197.1" rx="20.5" ry="14.7" fill="url(#hg)" fill-opacity="0.6"/><ellipse cx="403.4" cy="210.3" rx="17.8" ry="13.8" fill="url(#hg)" fill-opacity="0.8"/><ellipse cx="414.3" cy="220.5" rx="17.3" ry="14.9" fill="url(#hg)" fill-opacity="0.8"/><ellipse cx="422.3" cy="225.1" rx="20.2" ry="16.5" fill="url(#hg)" fill-opacity="0.6"/><ellipse cx="445.6" cy="226.3" rx="15.9" ry="13.5" fill="url(#hg)" fill-opacity="0.5"/><ellipse cx="446.4" cy="235.2" rx="14.8" ry="10.9" fill="url(#hg)" fill-opacity="0.6"/><ellipse cx="458.2" cy="241.7" rx="21" ry="15" fill="url(#hg)" fill-opacity="1"/><ellipse cx="471.3" cy="256.1" rx="17.9" ry="12.1" fill="url(#hg)" fill-opacity="0.9"/><ellipse cx="484.2" cy="253.8" rx="15.9" ry="12" fill="url(#hg)" fill-opacity="0.7"/><ellipse cx="487" cy="267.4" rx="22.4" ry="15.6" fill="url(#hg)" fill-opacity="0.8"/><ellipse cx="506.4" cy="267.2" rx="23.5" ry="17.2" fill="url(#hg)" fill-opacity="0.9"/><ellipse cx="520.5" cy="282" rx="16.3" ry="11.9" fill="url(#hg)" fill-opacity="0.7"/><ellipse cx="523.6" cy="290.4" rx="19.9" ry="13.5" fill="url(#hg)" fill-opacity="0.9"/><ellipse cx="537.4" cy="296.9" rx="13.4" ry="11.7" fill="url(#hg)" fill-opacity="0.7"/><ellipse cx="264.4" cy="108.6" rx="17.9" ry="12.9" fill="url(#hg)" fill-opacity="0.9"/><ellipse cx="274.1" cy="113.3" rx="18.5" ry="13.7" fill="url(#hg)" fill-opacity="0.8"/><ellipse cx="283" cy="117.9" rx="20.3" ry="14.6" fill="url(#hg)" fill-opacity="0.6"/><ellipse cx="301" cy="129.2" rx="13.9" ry="11.3" fill="url(#hg)" fill-opacity="0.7"/><ellipse cx="301.2" cy="135" rx="16.7" ry="11.7" fill="url(#hg)" fill-opacity="0.5"/><ellipse cx="316.6" cy="141.6" rx="17.7" ry="16.4" fill="url(#hg)" fill-opacity="0.6"/><ellipse cx="325.7" cy="148" rx="17" ry="13.8" fill="url(#hg)" fill-opacity="0.8"/><ellipse cx="341.3" cy="153" rx="19.2" ry="14.7" fill="url(#hg)" fill-opacity="0.6"/><ellipse cx="359.7" cy="163.6" rx="14.5" ry="10.4" fill="url(#hg)" fill-opacity="0.8"/><ellipse cx="367" cy="166.4" rx="16.1" ry="12" fill="url(#hg)" fill-opacity="0.6"/><ellipse cx="387.6" cy="175.2" rx="18.2" ry="16.3" fill="url(#hg)" fill-opacity="0.7"/><ellipse cx="398.5" cy="186.5" rx="18.5" ry="14.1" fill="url(#hg)" fill-opacity="0.6"/><ellipse cx="403.8" cy="197" rx="17.8" ry="13.2" fill="url(#hg)" fill-opacity="0.7"/><ellipse cx="417" cy="200.6" rx="18.6" ry="14" fill="url(#hg)" fill-opacity="0.9"/><ellipse cx="426" cy="201.7" rx="18.6" ry="12.5" fill="url(#hg)" fill-opacity="0.8"/><ellipse cx="438.9" cy="217.4" rx="15.7" ry="13.4" fill="url(#hg)" fill-opacity="0.5"/><ellipse cx="444.3" cy="223.7" rx="15.5" ry="12.9" fill="url(#hg)" fill-opacity="0.9"/><ellipse cx="470" cy="226.4" rx="18.1" ry="15.2" fill="url(#hg)" fill-opacity="0.7"/><ellipse cx="471.4" cy="240.2" rx="17.4" ry="12.8" fill="url(#hg)" fill-opacity="0.6"/><ellipse cx="482.8" cy="242.4" rx="13.2" ry="11.5" fill="url(#hg)" fill-opacity="0.6"/><ellipse cx="497" cy="252.5" rx="20" ry="13.8" fill="url(#hg)" fill-opacity="0.9"/><ellipse cx="501.5" cy="255.2" rx="23" ry="14.8" fill="url(#hg)" fill-opacity="0.8"/><ellipse cx="523.9" cy="258.9" rx="15.4" ry="11.4" fill="url(#hg)" fill-opacity="0.9"/><ellipse cx="531.2" cy="264.6" rx="18.1" ry="16.1" fill="url(#hg)" fill-opacity="0.7"/><ellipse cx="545.3" cy="275" rx="15" ry="11.7" fill="url(#hg)" fill-opacity="0.5"/><ellipse cx="547.4" cy="287.2" rx="20.5" ry="13.6" fill="url(#hg)" fill-opacity="0.9"/><ellipse cx="275.2" cy="97.9" rx="17.6" ry="12.2" fill="url(#hg)" fill-opacity="0.8"/><ellipse cx="285.6" cy="103.9" rx="16.3" ry="12.5" fill="url(#hg)" fill-opacity="0.8"/><ellipse cx="296.1" cy="115.3" rx="14.5" ry="13.3" fill="url(#hg)" fill-opacity="1"/><ellipse cx="310" cy="120.1" rx="15.4" ry="11.5" fill="url(#hg)" fill-opacity="0.6"/><ellipse cx="325.1" cy="124.3" rx="15" ry="9.6" fill="url(#hg)" fill-opacity="0.7"/><ellipse cx="337.5" cy="136.4" rx="13.3" ry="13" fill="url(#hg)" fill-opacity="0.5"/><ellipse cx="344.5" cy="142.3" rx="20.2" ry="15" fill="url(#hg)" fill-opacity="0.6"/><ellipse cx="351.8" cy="147.2" rx="20.5" ry="16.5" fill="url(#hg)" fill-opacity="0.6"/><ellipse cx="374.4" cy="156.8" rx="16.7" ry="10.7" fill="url(#hg)" fill-opacity="0.9"/><ellipse cx="384.1" cy="158.9" rx="20.2" ry="15.6" fill="url(#hg)" fill-opacity="1"/><ellipse cx="388" cy="165.7" rx="14.4" ry="10.4" fill="url(#hg)" fill-opacity="0.5"/><ellipse cx="404.6" cy="172.6" rx="20" ry="14.6" fill="url(#hg)" fill-opacity="0.7"/><ellipse cx="422.4" cy="182.9" rx="16.7" ry="13.8" fill="url(#hg)" fill-opacity="0.6"/><ellipse cx="420" cy="187.9" rx="14.9" ry="10.8" fill="url(#hg)" fill-opacity="0.6"/><ellipse cx="434.5" cy="193" rx="21.1" ry="16.5" fill="url(#hg)" fill-opacity="0.7"/><ellipse cx="452.4" cy="206.1" rx="14.2" ry="11.1" fill="url(#hg)" fill-opacity="1"/><ellipse cx="454.5" cy="209.7" rx="16.4" ry="13.7" fill="url(#hg)" fill-opacity="0.9"/><ellipse cx="469.5" cy="219.2" rx="24.1" ry="18.1" fill="url(#hg)" fill-opacity="0.5"/><ellipse cx="490" cy="220.4" rx="16.9" ry="10.2" fill="url(#hg)" fill-opacity="1"/><ellipse cx="487" cy="232.8" rx="18.4" ry="13.9" fill="url(#hg)" fill-opacity="0.9"/><ellipse cx="506.2" cy="243.1" rx="18.7" ry="13" fill="url(#hg)" fill-opacity="0.8"/><ellipse cx="520" cy="251" rx="15" ry="12.3" fill="url(#hg)" fill-opacity="0.9"/><ellipse cx="529" cy="253.3" rx="17.9" ry="13.3" fill="url(#hg)" fill-opacity="0.7"/><ellipse cx="546.7" cy="257.6" rx="16.5" ry="13.1" fill="url(#hg)" fill-opacity="0.9"/><ellipse cx="546.3" cy="265.9" rx="24.4" ry="16.6" fill="url(#hg)" fill-opacity="0.9"/><ellipse cx="568.1" cy="272.4" rx="13.1" ry="9.2" fill="url(#hg)" fill-opacity="0.7"/><ellipse cx="287.3" cy="96.8" rx="18.3" ry="13.2" fill="url(#hg)" fill-opacity="0.6"/><ellipse cx="299.3" cy="98.8" rx="13.7" ry="9.3" fill="url(#hg)" fill-opacity="0.5"/><ellipse cx="312.4" cy="106.3" rx="21.3" ry="16" fill="url(#hg)" fill-opacity="0.9"/><ellipse cx="323.6" cy="116.9" rx="17.4" ry="11.8" fill="url(#hg)" fill-opacity="0.8"/><ellipse cx="332.6" cy="125.9" rx="14.4" ry="11.6" fill="url(#hg)" fill-opacity="0.9"/><ellipse cx="347.6" cy="125" rx="15" ry="9.5" fill="url(#hg)" fill-opacity="0.9"/><ellipse cx="354.9" cy="134.6" rx="17.5" ry="14" fill="url(#hg)" fill-opacity="0.8"/><ellipse cx="365" cy="143.5" rx="14.9" ry="9.5" fill="url(#hg)" fill-opacity="0.7"/><ellipse cx="378.9" cy="146.1" rx="22.1" ry="14.9" fill="url(#hg)" fill-opacity="0.7"/><ellipse cx="393.8" cy="152.7" rx="17.4" ry="14.2" fill="url(#hg)" fill-opacity="0.8"/><ellipse cx="405.4" cy="157.2" rx="18.1" ry="14.3" fill="url(#hg)" fill-opacity="0.6"/><ellipse cx="414.6" cy="162" rx="15.3" ry="12.4" fill="url(#hg)" fill-opacity="0.8"/><ellipse cx="421.2" cy="176.6" rx="17.3" ry="13.3" fill="url(#hg)" fill-opacity="0.9"/><ellipse cx="428.3" cy="182.4" rx="16.1" ry="10.8" fill="url(#hg)" fill-opacity="0.7"/><ellipse cx="453.9" cy="189.7" rx="12.4" ry="10.1" fill="url(#hg)" fill-opacity="0.8"/><ellipse cx="456.6" cy="197" rx="16" ry="13.3" fill="url(#hg)" fill-opacity="0.5"/><ellipse cx="471.7" cy="194.6" rx="15.1" ry="10.4" fill="url(#hg)" fill-opacity="0.8"/><ellipse cx="487.8" cy="212" rx="17.7" ry="13" fill="url(#hg)" fill-opacity="0.7"/><ellipse cx="501" cy="213.2" rx="19.9" ry="16.7" fill="url(#hg)" fill-opacity="0.7"/><ellipse cx="512.8" cy="223.3" rx="20.5" ry="16.9" fill="url(#hg)" fill-opacity="0.9"/><ellipse cx="516" cy="229" rx="19.7" ry="15" fill="url(#hg)" fill-opacity="0.8"/><ellipse cx="524" cy="236.9" rx="21" ry="18.6" fill="url(#hg)" fill-opacity="0.5"/><ellipse cx="540.6" cy="242.9" rx="18.7" ry="14.1" fill="url(#hg)" fill-opacity="0.6"/><ellipse cx="554.7" cy="253.8" rx="21.3" ry="14.4" fill="url(#hg)" fill-opacity="0.5"/><ellipse cx="569.5" cy="253.5" rx="17.3" ry="13.1" fill="url(#hg)" fill-opacity="0.7"/><ellipse cx="577.6" cy="262.5" rx="12.4" ry="9.2" fill="url(#hg)" fill-opacity="0.8"/><ellipse cx="298.9" cy="84.2" rx="19.3" ry="13.2" fill="url(#hg)" fill-opacity="0.6"/><ellipse cx="309.1" cy="90.9" rx="11.7" ry="10.9" fill="url(#hg)" fill-opacity="0.7"/><ellipse cx="313.7" cy="102.9" rx="16.6" ry="11.6" fill="url(#hg)" fill-opacity="0.9"/><ellipse cx="332.3" cy="105.2" rx="14" ry="10.1" fill="url(#hg)" fill-opacity="0.8"/><ellipse cx="343.7" cy="116.5" rx="18.5" ry="14.1" fill="url(#hg)" fill-opacity="0.7"/><ellipse cx="351" cy="118.1" rx="14.9" ry="10.9" fill="url(#hg)" fill-opacity="0.9"/><ellipse cx="369.4" cy="125.7" rx="14.1" ry="9.8" fill="url(#hg)" fill-opacity="0.9"/><ellipse cx="378" cy="131" rx="19.5" ry="13.9" fill="url(#hg)" fill-opacity="0.9"/><ellipse cx="385.4" cy="139" rx="13.5" ry="9.4" fill="url(#hg)" fill-opacity="0.6"/><ellipse cx="400.8" cy="151.2" rx="16.8" ry="12.7" fill="url(#hg)" fill-opacity="0.9"/><ellipse cx="416" cy="157.4" rx="20.1" ry="15.3" fill="url(#hg)" fill-opacity="0.7"/><ellipse cx="428.7" cy="162.5" rx="13.7" ry="10.4" fill="url(#hg)" fill-opacity="0.8"/><ellipse cx="440.1" cy="169.8" rx="12.7" ry="10.5" fill="url(#hg)" fill-opacity="0.8"/><ellipse cx="454" cy="170.4" rx="23.4" ry="17.1" fill="url(#hg)" fill-opacity="0.8"/><ellipse cx="460" cy="179.6" rx="14" ry="11.5" fill="url(#hg)" fill-opacity="0.7"/><ellipse cx="466.8" cy="183.6" rx="20.7" ry="16.5" fill="url(#hg)" fill-opacity="0.7"/><ellipse cx="487.5" cy="192.6" rx="22.2" ry="18.2" fill="url(#hg)" fill-opacity="0.7"/><ellipse cx="493.6" cy="197.2" rx="19.6" ry="15.5" fill="url(#hg)" fill-opacity="0.9"/><ellipse cx="500" cy="204.2" rx="16.5" ry="12.6" fill="url(#hg)" fill-opacity="0.6"/><ellipse cx="515.1" cy="211" rx="15.1" ry="10.7" fill="url(#hg)" fill-opacity="0.6"/><ellipse cx="538.9" cy="215.5" rx="17.1" ry="11.6" fill="url(#hg)" fill-opacity="0.5"/><ellipse cx="546.9" cy="226.2" rx="14.2" ry="11.7" fill="url(#hg)" fill-opacity="0.5"/><ellipse cx="552.2" cy="227.9" rx="22.4" ry="17.1" fill="url(#hg)" fill-opacity="0.9"/><ellipse cx="562.8" cy="241.6" rx="17.9" ry="13.3" fill="url(#hg)" fill-opacity="0.7"/><ellipse cx="575.3" cy="243.3" rx="20.9" ry="18.8" fill="url(#hg)" fill-opacity="0.6"/><ellipse cx="590" cy="247.2" rx="13.9" ry="9.7" fill="url(#hg)" fill-opacity="0.6"/><ellipse cx="304.8" cy="81.1" rx="20.1" ry="15" fill="url(#hg)" fill-opacity="0.8"/><ellipse cx="312.1" cy="87.7" rx="14.3" ry="9.8" fill="url(#hg)" fill-opacity="1"/><ellipse cx="329.3" cy="95.2" rx="19.4" ry="13.2" fill="url(#hg)" fill-opacity="0.7"/><ellipse cx="339.7" cy="100.4" rx="22.2" ry="14.9" fill="url(#hg)" fill-opacity="0.6"/><ellipse cx="358.9" cy="104.8" rx="18.2" ry="12.7" fill="url(#hg)" fill-opacity="0.9"/><ellipse cx="367.8" cy="118.5" rx="13.3" ry="9.3" fill="url(#hg)" fill-opacity="0.6"/><ellipse cx="376" cy="116.5" rx="11.8" ry="9" fill="url(#hg)" fill-opacity="0.8"/><ellipse cx="390.3" cy="129.2" rx="18.4" ry="15.5" fill="url(#hg)" fill-opacity="1"/><ellipse cx="403" cy="135.1" rx="16.9" ry="15.2" fill="url(#hg)" fill-opacity="0.5"/><ellipse cx="419.7" cy="139.4" rx="19.3" ry="14.5" fill="url(#hg)" fill-opacity="0.7"/><ellipse cx="420.2" cy="146.8" rx="16.9" ry="12.9" fill="url(#hg)" fill-opacity="1"/><ellipse cx="439.5" cy="154.3" rx="17.8" ry="15.9" fill="url(#hg)" fill-opacity="0.5"/><ellipse cx="443.8" cy="160" rx="17.3" ry="13.9" fill="url(#hg)" fill-opacity="0.7"/><ellipse cx="456.8" cy="160.8" rx="12.5" ry="10.5" fill="url(#hg)" fill-opacity="1"/><ellipse cx="471.4" cy="173.5" rx="20.7" ry="15.4" fill="url(#hg)" fill-opacity="0.5"/><ellipse cx="485.4" cy="179.1" rx="20.8" ry="12.7" fill="url(#hg)" fill-opacity="0.9"/><ellipse cx="497.2" cy="184.5" rx="17.6" ry="14.1" fill="url(#hg)" fill-opacity="0.5"/><ellipse cx="515.2" cy="186.5" rx="19.8" ry="15.4" fill="url(#hg)" fill-opacity="0.7"/><ellipse cx="517.5" cy="197.6" rx="24.5" ry="18.1" fill="url(#hg)" fill-opacity="0.6"/><ellipse cx="526" cy="201.2" rx="20.6" ry="14.5" fill="url(#hg)" fill-opacity="0.8"/><ellipse cx="537.7" cy="205.8" rx="18" ry="13.3" fill="url(#hg)" fill-opacity="0.8"/><ellipse cx="552.5" cy="209.8" rx="11.9" ry="9.2" fill="url(#hg)" fill-opacity="0.6"/><ellipse cx="570.8" cy="215.1" rx="13.8" ry="10.5" fill="url(#hg)" fill-opacity="0.5"/><ellipse cx="571.3" cy="228.3" rx="14" ry="11.9" fill="url(#hg)" fill-opacity="0.6"/><ellipse cx="587.5" cy="237" rx="17" ry="11.8" fill="url(#hg)" fill-opacity="0.8"/><ellipse cx="592.6" cy="241.8" rx="17.8" ry="14.9" fill="url(#hg)" fill-opacity="0.6"/><ellipse cx="315.4" cy="78.1" rx="13.8" ry="12.2" fill="url(#hg)" fill-opacity="0.7"/><ellipse cx="333" cy="84.6" rx="19" ry="14.1" fill="url(#hg)" fill-opacity="0.9"/><ellipse cx="346.1" cy="86.9" rx="16.5" ry="13.9" fill="url(#hg)" fill-opacity="0.8"/><ellipse cx="356.6" cy="91.2" rx="14.2" ry="10" fill="url(#hg)" fill-opacity="0.9"/><ellipse cx="372" cy="100.3" rx="17" ry="12.1" fill="url(#hg)" fill-opacity="0.7"/><ellipse cx="370.8" cy="106.3" rx="13.6" ry="10.5" fill="url(#hg)" fill-opacity="0.8"/><ellipse cx="395.3" cy="109.7" rx="15.5" ry="14.4" fill="url(#hg)" fill-opacity="0.8"/><ellipse cx="402.9" cy="115.7" rx="18" ry="14.6" fill="url(#hg)" fill-opacity="0.7"/><ellipse cx="420.5" cy="124.1" rx="17.1" ry="13.7" fill="url(#hg)" fill-opacity="0.8"/><ellipse cx="434.3" cy="129.4" rx="17.8" ry="11.6" fill="url(#hg)" fill-opacity="1"/><ellipse cx="432.9" cy="133" rx="14.1" ry="10.5" fill="url(#hg)" fill-opacity="0.8"/><ellipse cx="444.6" cy="141.8" rx="18.9" ry="13.3" fill="url(#hg)" fill-opacity="0.5"/><ellipse cx="452.6" cy="148.5" rx="22.3" ry="17.1" fill="url(#hg)" fill-opacity="0.7"/><ellipse cx="465.1" cy="153.5" rx="14.5" ry="11.2" fill="url(#hg)" fill-opacity="0.7"/><ellipse cx="489.3" cy="160.5" rx="17.8" ry="11.8" fill="url(#hg)" fill-opacity="0.6"/><ellipse cx="493.6" cy="161.8" rx="15.6" ry="10.4" fill="url(#hg)" fill-opacity="0.7"/><ellipse cx="513.4" cy="172.3" rx="17.9" ry="11.4" fill="url(#hg)" fill-opacity="0.9"/><ellipse cx="516.1" cy="178.6" rx="11.7" ry="9.9" fill="url(#hg)" fill-opacity="0.6"/><ellipse cx="536.7" cy="185.7" rx="17.1" ry="12.4" fill="url(#hg)" fill-opacity="0.8"/><ellipse cx="544.2" cy="187.9" rx="18.7" ry="16.5" fill="url(#hg)" fill-opacity="0.8"/><ellipse cx="547.2" cy="197.9" rx="22.8" ry="16.7" fill="url(#hg)" fill-opacity="0.8"/><ellipse cx="569.8" cy="199.9" rx="17.5" ry="12.9" fill="url(#hg)" fill-opacity="0.9"/><ellipse cx="580.4" cy="207.4" rx="18.8" ry="13.3" fill="url(#hg)" fill-opacity="0.6"/><ellipse cx="590.5" cy="211.1" rx="15.8" ry="10.1" fill="url(#hg)" fill-opacity="0.7"/><ellipse cx="595.8" cy="224.8" rx="20.4" ry="15.9" fill="url(#hg)" fill-opacity="0.9"/><ellipse cx="612.1" cy="224.3" rx="16.9" ry="13.3" fill="url(#hg)" fill-opacity="0.8"/><ellipse cx="330.6" cy="71.4" rx="9.9" ry="7.1" fill="url(#hg)" fill-opacity="0.7"/><ellipse cx="343.6" cy="79.3" rx="11.3" ry="10" fill="url(#hg)" fill-opacity="0.6"/><ellipse cx="358.3" cy="80.1" rx="8.5" ry="6.9" fill="url(#hg)" fill-opacity="0.7"/><ellipse cx="367.3" cy="87.6" rx="16.6" ry="9.9" fill="url(#hg)" fill-opacity="0.7"/><ellipse cx="380.1" cy="91.2" rx="10.3" ry="6.7" fill="url(#hg)" fill-opacity="0.5"/><ellipse cx="392.5" cy="96.2" rx="9.3" ry="7.4" fill="url(#hg)" fill-opacity="0.9"/><ellipse cx="398.4" cy="108.5" rx="11.9" ry="9.6" fill="url(#hg)" fill-opacity="0.7"/><ellipse cx="415.3" cy="113.6" rx="16.5" ry="11.4" fill="url(#hg)" fill-opacity="0.7"/><ellipse cx="426.4" cy="115.3" rx="7.4" ry="7" fill="url(#hg)" fill-opacity="0.8"/><ellipse cx="434.1" cy="127.1" rx="15.9" ry="15.7" fill="url(#hg)" fill-opacity="0.6"/><ellipse cx="450.2" cy="129.3" rx="11.9" ry="9.4" fill="url(#hg)" fill-opacity="0.8"/><ellipse cx="468.1" cy="132.6" rx="12.2" ry="8.5" fill="url(#hg)" fill-opacity="0.7"/><ellipse cx="479.8" cy="138.8" rx="9.1" ry="6.2" fill="url(#hg)" fill-opacity="0.5"/><ellipse cx="486.8" cy="147.9" rx="14.4" ry="10.9" fill="url(#hg)" fill-opacity="0.9"/><ellipse cx="496.8" cy="155.2" rx="11.5" ry="7.8" fill="url(#hg)" fill-opacity="0.7"/><ellipse cx="513.4" cy="155.6" rx="12.2" ry="9.2" fill="url(#hg)" fill-opacity="0.6"/><ellipse cx="522" cy="165.2" rx="13.2" ry="8.7" fill="url(#hg)" fill-opacity="0.9"/><ellipse cx="531.2" cy="173.9" rx="11.1" ry="9.8" fill="url(#hg)" fill-opacity="0.9"/><ellipse cx="542.3" cy="172.2" rx="11.3" ry="9" fill="url(#hg)" fill-opacity="0.6"/><ellipse cx="545.2" cy="180.4" rx="13.3" ry="10.3" fill="url(#hg)" fill-opacity="0.7"/><ellipse cx="563.8" cy="184.2" rx="12" ry="11.3" fill="url(#hg)" fill-opacity="0.9"/><ellipse cx="578.4" cy="191.9" rx="13.8" ry="10.5" fill="url(#hg)" fill-opacity="0.8"/><ellipse cx="590.5" cy="195.7" rx="10.8" ry="8.3" fill="url(#hg)" fill-opacity="0.9"/><ellipse cx="596.7" cy="208.6" rx="14.9" ry="9.8" fill="url(#hg)" fill-opacity="0.9"/><ellipse cx="610.7" cy="211.8" rx="16.9" ry="11.3" fill="url(#hg)" fill-opacity="0.8"/><ellipse cx="620.2" cy="213.8" rx="12.8" ry="9.3" fill="url(#hg)" fill-opacity="0.6"/></g></g>
<g clip-path="url(#clipB)"><g filter="url(#afmLB)"><path d="M24.3,873.4 L25,870 L30,870.7 L32.6,868.5 L35.5,868.2 L38.5,866.9 L41.2,867.3 L45,868.8 L48.7,867.4 L50.4,866.6 L52.4,865.8 L56.6,866.4 L58,864.8 L59.9,860.8 L60.8,856.3 L62.6,853.5 L64.6,852.6 L67.7,848.8 L71,848.6 L73.3,847.2 L76,845.2 L77.7,844 L81.9,840.1 L84.1,839.9 L86,837.7 L89.2,838.7 L92.3,838.5 L95.1,838.6 L99.6,837.5 L101.9,838.7 L104.7,835.1 L105.9,832.2 L109.6,829.4 L112.6,827.2 L116,826.1 L119.5,825.9 L121.8,824.2 L125.6,823.1 L127.1,819.6 L129.9,818.9 L132.5,814.2 L135.4,813.3 L138,809.4 L140.8,808.1 L143.8,807.6 L146,808.2 L148.9,806.3 L154.2,804.6 L155.7,805.3 L159.1,803.5 L160.9,801.1 L164,800.5 L166.6,799.9 L169.2,797.9 L172,795.3 L176.8,793.6 L178.4,794 L182.2,791.4 L187.1,790.7 L187.8,791.2 L192.5,792.2 L194.4,791.2 L197.3,791.5 L202.4,792.2 L206,792.3 L209.1,792.1 L211.2,790.9 L214.6,787.7 L216.1,784.7 L221,782.5 L223.2,781.9 L225.9,779.9 L230,778.9 L232,778 L233.4,777.1 L236.2,773.5 L238.4,771.6 L241,770.7 L244.5,769.4 L248.1,767.2 L248.7,763.6 L251.2,761.7 L254.6,760.1 L258.1,757.4 L260.6,756.8 L262.8,754.2 L266.8,753.4 L270.5,752.8 L271.9,751.6 L275.1,750.7 L278.8,750.4 L281.2,749.9 L283.4,748.6 L287.8,746.2 L288.9,743.7 L291.7,740.5 L294.7,740.3 L297.5,737.7 L302.6,737 L305.2,737 L307.2,732.7 L309.9,730.3 L309.1,728.5 L311.1,725 L314.8,723.3 L314.3,720.1 L317.1,717.6 L318.3,715.2 L319.7,711.8 L322.9,711.6 L324.6,709.1 L327.4,706.7 L330.3,704.4 L333.6,706.9 L334.3,708.9 L336.6,713.4 L340.4,716.4 L342.9,715.9 L345.1,719.8 L347.7,721.1 L349.1,722.9 L352.6,724.4 L354.2,726.9 L357.7,729.7 L360.1,731.5 L361,731.7 L363.9,733.5 L366.3,736.3 L370,737.8 L372.3,738.3 L373.6,742.3 L375.5,742.6 L377.8,743.5 L382.4,747.5 L384.3,747 L386.4,748.3 L390.3,750.5 L392.7,751.1 L394.9,752.1 L400,753.7 L400.8,754 L405.4,754.4 L408.9,755.9 L411.3,756.8 L415.1,758.7 L417,758.1 L419.2,759.5 L422.2,763.5 L423.8,764.2 L427.1,765.7 L430.3,768.8 L432.9,769.3 L436.2,770.7 L438.2,773.3 L440.8,775.5 L442,776.7 L445.1,778.5 L449.2,780.2 L449.3,781.5 L453.7,784.3 L456.1,785.9 L457.1,787.9 L461.5,788.8 L464.6,791.3 L465.1,792.8 L469.8,792.4 L472.8,794.7 L474.5,796.5 L477.4,797.2 L481.2,797.5 L484.6,799.2 L486.7,801.8 L489.4,800.5 L493.6,803.9 L497.1,804.3 L499.6,804.7 L502.3,804.2 L505.8,804.2 L507.7,806.7 L511,807.3 L515.7,807 L518.4,808.5 L521.9,807.5 L522.9,809.7 L526.4,811.1 L527.9,813.5 L533.2,814.6 L534.8,816.3 L537.3,819.2 L539.7,820.3 L542.9,821.6 L546.7,822.1 L549.2,824.3 L551.8,826.8 L554.9,827 L558.4,827.4 L560.9,829.4 L563.7,831.8 L567.4,832.5 L569.2,832.7 L572.6,833.9 L575.2,837 L577.8,837.5 L581.6,837.3 L584.5,837.4 L587.9,838.6 L590.9,839.8 L595.1,842.4 L597,842.5 L601.3,842.6 L602.2,843.3 L605.2,845.9 L608.5,846.5 L612.3,847.7 L615.2,850.2 L616.9,852.1 L619.5,853.8 L623.9,854.2 L626,856.9 L629,857.8 L632.1,859.7 L634.6,861.3 L636.2,861.9 L639.9,862.7 L636.9,864.7 L636.1,867.7 L632.5,871.7 L629.5,874.4 L627,874.6 L625.8,878 L625.4,881.9 L623.1,883.3 L620.7,885.3 L619.6,888.3 L616.4,891.5 L614.2,893.2 L614.4,895.2 L610.5,898 L608.6,900.8 L606.4,902.8 L604.1,904.7 L602.9,907.2 L600.1,910.5 L597.1,911.1 L596.9,914 L594.7,915.5 L592,919.7 L589.5,921.8 L588.1,923.1 L587.1,925.4 L583.7,928.3 L581.2,931.2 L579.9,932.8 L577.7,936.2 L576.9,938.1 L573.4,939.3 L571.6,940.6 L568.4,945.4 L566.4,947.5 L565.8,949.8 L562.2,950.5 L562,952 L558.2,955.2 L556.3,957 L555.5,959.1 L553.8,962.7 L548.8,965.5 L546.8,966.6 L545.1,967.8 L542.4,969.7 L539,974.1 L538.4,975 L535.7,978 L532,978.9 L529.7,980 L527.4,982.2 L525,984.2 L523.5,987.2 L522.5,990 L519.9,990.9 L517.2,991.9 L511.9,995.6 L510,995.9 L506.2,998.1 L504.3,1000.7 L502.3,1003.9 L501.3,1005.6 L498.5,1007.1 L497.2,1011.2 L493.9,1012.7 L493.1,1014.9 L489.4,1016.9 L487.8,1018.2 L487.1,1021.9 L485.5,1024.8 L484,1026.6 L480.6,1030 L480.9,1032.7 L478.7,1033.2 L475.9,1035.9 L475.4,1039.6 L472.5,1043.3 L472.6,1045.4 L469.2,1046.1 L466.6,1049.8 L465.9,1050.6 L464.4,1053.7 L461.1,1055.5 L460,1057.9 L457.8,1059.3 L455.9,1062 L453.4,1063.4 L448.8,1065.7 L445.9,1067.2 L444.2,1067.9 L440.7,1070.7 L438.6,1072.6 L435.6,1074.9 L433.5,1077.3 L430.7,1080.4 L428.5,1083 L427.4,1085.1 L424.1,1087.9 L423.6,1088.9 L420.7,1092 L419.1,1094 L415.3,1094.8 L414.4,1097 L410,1100.5 L408.2,1101 L406.2,1102.9 L405.3,1105.6 L402.6,1108.4 L401.6,1109.9 L399,1112.8 L395.8,1116.6 L394.4,1117.7 L393,1122.5 L391.2,1123.9 L389.6,1127.6 L385.6,1128.3 L385.5,1132.2 L381.2,1133.9 L380.7,1135.8 L378,1138 L374.5,1139.4 L371.8,1142.9 L369.7,1145 L368.1,1146.8 L367.6,1149 L364.3,1151.2 L361.6,1153.1 L360.3,1156.9 L357.2,1159.5 L356.6,1159.5 L354.7,1162.7 L352.1,1164.1 L350.1,1167.5 L348.8,1169.9 L346.5,1172.6 L343.1,1168.4 L341.6,1166.4 L338.5,1164.5 L337.4,1163 L335.5,1161.5 L331.9,1158.2 L329.3,1156.7 L327.8,1153.6 L325,1153.2 L322.9,1152.2 L320.1,1148.9 L319.1,1147.8 L314.5,1146.6 L312.7,1145.2 L310.9,1143.1 L309.1,1140.6 L306.8,1137.3 L302.7,1137.3 L299.4,1134.8 L299.5,1132.9 L296.6,1129.2 L293.3,1128.5 L290.5,1125.8 L289,1123 L284.6,1121.9 L284.5,1120.4 L281.2,1116.8 L279.3,1114 L275.1,1113.7 L274.3,1110.5 L271.9,1107.6 L268.6,1105.3 L265.1,1103.5 L262.1,1101.9 L260.9,1099.4 L258.8,1096.6 L255.9,1095.6 L253.1,1094.5 L250,1091.4 L248.3,1089.4 L247.2,1088 L243.5,1085.8 L241.8,1084.5 L241.1,1081 L237.9,1078.1 L236.2,1074.8 L234.4,1073 L235.3,1070.1 L232.6,1066.4 L230.7,1064.2 L229.1,1061 L227,1059.6 L227.3,1057 L224.5,1052.5 L221.7,1052.1 L221.5,1048.9 L218.5,1046.7 L215.8,1044.3 L214.1,1042.2 L212.5,1039.2 L210.8,1036.4 L208.6,1035 L207.1,1031.5 L204.1,1030.7 L202.5,1028 L200.8,1024.5 L197.5,1023.8 L194.9,1022.6 L194.6,1024.4 L192,1028.7 L190.6,1030.9 L188.8,1027.6 L185,1025.1 L184.3,1021.2 L181.9,1020.2 L180.7,1016.2 L179,1014.1 L175.7,1011.9 L174.6,1010 L171.4,1007.4 L167.7,1003.8 L164.8,1002 L163.1,1000.6 L159.3,999.6 L155.2,997.9 L152.6,993.9 L150.3,992.8 L148.2,990.9 L143,987.8 L141.3,986.3 L141.6,982.3 L139,980.6 L138.9,979.1 L137.3,975.5 L135,971.6 L133.5,968.6 L131.2,967.6 L129,965.6 L125.8,962.8 L123,961.9 L119.4,961 L118.5,957.6 L113.6,957.6 L112.7,954 L110.3,951.9 L108.9,950.6 L105.8,947.4 L103.4,946.1 L101.2,943.2 L98.6,942.4 L97.5,940.8 L93.7,938.7 L89.5,935.2 L88,932.7 L83.4,932.7 L81.6,928.7 L80,927.9 L76.8,925.5 L75.5,922.2 L73.8,918.6 L72.9,916.2 L70.4,915.6 L67,913.7 L63.5,909.6 L62.1,907.3 L60.5,906.4 L58,903.7 L53.5,903.2 L51.8,899.5 L49.5,897.5 L48.2,894 L45,891.8 L44.8,888.9 L41.2,887.6 L40.2,885.6 L37.4,883.6 L33.3,881.7 L30.2,877.5 L27.6,877.1 L25.9,875.4Z" fill="#000" fill-opacity="0.02"/><ellipse cx="31.6" cy="872.1" rx="29.3" ry="22.1" fill="url(#hg)" fill-opacity="0.7"/><ellipse cx="79.1" cy="896.8" rx="35.8" ry="29.9" fill="url(#hg)" fill-opacity="0.6"/><ellipse cx="73.5" cy="912.5" rx="33.3" ry="24.5" fill="url(#hg)" fill-opacity="0.9"/><ellipse cx="108.1" cy="926.5" rx="32.5" ry="25.3" fill="url(#hg)" fill-opacity="0.9"/><ellipse cx="129" cy="943.1" rx="38.4" ry="28" fill="url(#hg)" fill-opacity="0.6"/><ellipse cx="143.2" cy="967.9" rx="47.2" ry="33" fill="url(#hg)" fill-opacity="0.7"/><ellipse cx="181.9" cy="990.1" rx="46.2" ry="32.1" fill="url(#hg)" fill-opacity="0.7"/><ellipse cx="195" cy="1011.5" rx="27.9" ry="24.3" fill="url(#hg)" fill-opacity="0.5"/><ellipse cx="210.4" cy="1042.8" rx="32.4" ry="24.2" fill="url(#hg)" fill-opacity="0.7"/><ellipse cx="240.6" cy="1040.5" rx="31.4" ry="27" fill="url(#hg)" fill-opacity="0.6"/><ellipse cx="261.3" cy="1079.9" rx="33.7" ry="27.8" fill="url(#hg)" fill-opacity="0.6"/><ellipse cx="267.5" cy="1095.2" rx="42.8" ry="29.5" fill="url(#hg)" fill-opacity="0.7"/><ellipse cx="295.5" cy="1117.3" rx="30.1" ry="23.8" fill="url(#hg)" fill-opacity="1"/><ellipse cx="336.6" cy="1136.1" rx="26.5" ry="24" fill="url(#hg)" fill-opacity="0.9"/><ellipse cx="352" cy="1161.4" rx="23.6" ry="15.6" fill="url(#hg)" fill-opacity="0.6"/><ellipse cx="56.5" cy="859.3" rx="36.1" ry="23.3" fill="url(#hg)" fill-opacity="0.5"/><ellipse cx="71.3" cy="883.2" rx="37.5" ry="28.2" fill="url(#hg)" fill-opacity="0.5"/><ellipse cx="114.8" cy="896.2" rx="25.5" ry="19.8" fill="url(#hg)" fill-opacity="0.6"/><ellipse cx="125.3" cy="914" rx="26.4" ry="18.9" fill="url(#hg)" fill-opacity="1"/><ellipse cx="144" cy="946.4" rx="38.5" ry="33.8" fill="url(#hg)" fill-opacity="0.7"/><ellipse cx="165.3" cy="962" rx="26.2" ry="19.2" fill="url(#hg)" fill-opacity="0.9"/><ellipse cx="199.1" cy="974.6" rx="24.9" ry="19.1" fill="url(#hg)" fill-opacity="0.6"/><ellipse cx="216.9" cy="1008.5" rx="25.4" ry="24.5" fill="url(#hg)" fill-opacity="0.8"/><ellipse cx="243" cy="1008.4" rx="44.3" ry="34.7" fill="url(#hg)" fill-opacity="0.9"/><ellipse cx="249.5" cy="1029.5" rx="33.8" ry="25.6" fill="url(#hg)" fill-opacity="1"/><ellipse cx="279" cy="1060.7" rx="43.2" ry="34.1" fill="url(#hg)" fill-opacity="0.8"/><ellipse cx="306.7" cy="1075.1" rx="35.9" ry="27.2" fill="url(#hg)" fill-opacity="0.5"/><ellipse cx="339" cy="1093.2" rx="34.4" ry="33.1" fill="url(#hg)" fill-opacity="0.6"/><ellipse cx="354.7" cy="1107.1" rx="25.9" ry="22.5" fill="url(#hg)" fill-opacity="0.8"/><ellipse cx="377.2" cy="1134.4" rx="15.2" ry="14.9" fill="url(#hg)" fill-opacity="0.5"/><ellipse cx="84.6" cy="843.3" rx="41.8" ry="32.3" fill="url(#hg)" fill-opacity="0.8"/><ellipse cx="107.6" cy="862.9" rx="34.8" ry="30.6" fill="url(#hg)" fill-opacity="0.9"/><ellipse cx="127.8" cy="891.1" rx="22.5" ry="20.2" fill="url(#hg)" fill-opacity="0.7"/><ellipse cx="157.9" cy="906.1" rx="26.8" ry="22.7" fill="url(#hg)" fill-opacity="0.8"/><ellipse cx="168.1" cy="939" rx="35.5" ry="31" fill="url(#hg)" fill-opacity="0.7"/><ellipse cx="193.5" cy="938.7" rx="29.8" ry="25.4" fill="url(#hg)" fill-opacity="0.5"/><ellipse cx="208.6" cy="971.3" rx="41.8" ry="31.2" fill="url(#hg)" fill-opacity="0.9"/><ellipse cx="231.3" cy="971.3" rx="37.9" ry="30.1" fill="url(#hg)" fill-opacity="0.9"/><ellipse cx="260.4" cy="1006.9" rx="32.6" ry="20.6" fill="url(#hg)" fill-opacity="0.6"/><ellipse cx="274.2" cy="1016.6" rx="40.4" ry="29" fill="url(#hg)" fill-opacity="0.5"/><ellipse cx="296.3" cy="1041.4" rx="37.7" ry="27" fill="url(#hg)" fill-opacity="0.5"/><ellipse cx="322.3" cy="1066.1" rx="36.1" ry="28.6" fill="url(#hg)" fill-opacity="0.8"/><ellipse cx="346.7" cy="1073.2" rx="36.7" ry="24.8" fill="url(#hg)" fill-opacity="1"/><ellipse cx="366.5" cy="1102.4" rx="43.2" ry="31.4" fill="url(#hg)" fill-opacity="0.6"/><ellipse cx="386.4" cy="1104.1" rx="28.8" ry="21.9" fill="url(#hg)" fill-opacity="0.6"/><ellipse cx="105" cy="833.7" rx="38.4" ry="31" fill="url(#hg)" fill-opacity="0.7"/><ellipse cx="121.2" cy="852" rx="35.8" ry="22.3" fill="url(#hg)" fill-opacity="0.8"/><ellipse cx="141.1" cy="876.3" rx="22.2" ry="21.8" fill="url(#hg)" fill-opacity="0.9"/><ellipse cx="180.8" cy="896.6" rx="37.5" ry="32.3" fill="url(#hg)" fill-opacity="0.7"/><ellipse cx="200.5" cy="919.2" rx="43.8" ry="26.6" fill="url(#hg)" fill-opacity="0.8"/><ellipse cx="219.9" cy="932.5" rx="39.7" ry="26.3" fill="url(#hg)" fill-opacity="1"/><ellipse cx="233.6" cy="951.6" rx="43.8" ry="30" fill="url(#hg)" fill-opacity="0.6"/><ellipse cx="254" cy="971" rx="48.4" ry="32.3" fill="url(#hg)" fill-opacity="0.7"/><ellipse cx="277.5" cy="976.1" rx="28.6" ry="23.3" fill="url(#hg)" fill-opacity="0.8"/><ellipse cx="302.9" cy="1000.9" rx="37" ry="25.7" fill="url(#hg)" fill-opacity="0.6"/><ellipse cx="320" cy="1034.5" rx="49.6" ry="34.6" fill="url(#hg)" fill-opacity="0.7"/><ellipse cx="328" cy="1040.5" rx="34.5" ry="25.7" fill="url(#hg)" fill-opacity="0.9"/><ellipse cx="350" cy="1057.2" rx="36.5" ry="22.6" fill="url(#hg)" fill-opacity="0.9"/><ellipse cx="386.6" cy="1070.8" rx="41.4" ry="34.1" fill="url(#hg)" fill-opacity="0.6"/><ellipse cx="387.7" cy="1090.8" rx="28.4" ry="21.6" fill="url(#hg)" fill-opacity="1"/><ellipse cx="129.6" cy="838.7" rx="38.9" ry="28.9" fill="url(#hg)" fill-opacity="1"/><ellipse cx="158.4" cy="846.8" rx="36.1" ry="27.5" fill="url(#hg)" fill-opacity="0.8"/><ellipse cx="161.9" cy="859.4" rx="38.9" ry="26.6" fill="url(#hg)" fill-opacity="0.6"/><ellipse cx="191.9" cy="873.7" rx="33.3" ry="26.3" fill="url(#hg)" fill-opacity="0.7"/><ellipse cx="207.4" cy="899.3" rx="28.6" ry="17.3" fill="url(#hg)" fill-opacity="1"/><ellipse cx="219.3" cy="915.5" rx="43.6" ry="28.4" fill="url(#hg)" fill-opacity="0.8"/><ellipse cx="257.2" cy="937.1" rx="31.5" ry="24.7" fill="url(#hg)" fill-opacity="0.9"/><ellipse cx="290.6" cy="951.2" rx="35.5" ry="26.7" fill="url(#hg)" fill-opacity="0.8"/><ellipse cx="291.2" cy="975.5" rx="39.6" ry="33.1" fill="url(#hg)" fill-opacity="0.9"/><ellipse cx="310.1" cy="976.2" rx="34.5" ry="30.8" fill="url(#hg)" fill-opacity="0.8"/><ellipse cx="342.6" cy="1011.3" rx="35.7" ry="30.9" fill="url(#hg)" fill-opacity="0.9"/><ellipse cx="374" cy="1018.6" rx="40.3" ry="29.8" fill="url(#hg)" fill-opacity="0.8"/><ellipse cx="386.8" cy="1025.8" rx="29.8" ry="21.4" fill="url(#hg)" fill-opacity="0.8"/><ellipse cx="399.1" cy="1048" rx="26.7" ry="24.8" fill="url(#hg)" fill-opacity="1"/><ellipse cx="419.6" cy="1061.2" rx="45.1" ry="31.5" fill="url(#hg)" fill-opacity="0.5"/><ellipse cx="155.1" cy="817.2" rx="29.9" ry="28" fill="url(#hg)" fill-opacity="0.5"/><ellipse cx="160.5" cy="830.5" rx="34" ry="24.8" fill="url(#hg)" fill-opacity="0.9"/><ellipse cx="183" cy="852.7" rx="30.2" ry="26" fill="url(#hg)" fill-opacity="1"/><ellipse cx="221.5" cy="870.9" rx="31.6" ry="24.5" fill="url(#hg)" fill-opacity="0.9"/><ellipse cx="223.8" cy="881" rx="28.2" ry="21.4" fill="url(#hg)" fill-opacity="0.6"/><ellipse cx="255.2" cy="896.9" rx="39.3" ry="26" fill="url(#hg)" fill-opacity="0.8"/><ellipse cx="269.3" cy="921.7" rx="24.2" ry="18.8" fill="url(#hg)" fill-opacity="1"/><ellipse cx="293" cy="943.9" rx="31" ry="19" fill="url(#hg)" fill-opacity="0.5"/><ellipse cx="319" cy="962" rx="41.6" ry="28.5" fill="url(#hg)" fill-opacity="0.6"/><ellipse cx="333.4" cy="969.6" rx="39" ry="30.8" fill="url(#hg)" fill-opacity="0.9"/><ellipse cx="360.4" cy="997.6" rx="32.1" ry="24.9" fill="url(#hg)" fill-opacity="1"/><ellipse cx="378.5" cy="1013.1" rx="31.5" ry="19.9" fill="url(#hg)" fill-opacity="0.9"/><ellipse cx="389.4" cy="1018.4" rx="25.8" ry="19.8" fill="url(#hg)" fill-opacity="1"/><ellipse cx="421.1" cy="1030" rx="40.1" ry="31.3" fill="url(#hg)" fill-opacity="1"/><ellipse cx="454.5" cy="1044.9" rx="26.2" ry="25.2" fill="url(#hg)" fill-opacity="0.9"/><ellipse cx="176.5" cy="810.6" rx="23.8" ry="18.1" fill="url(#hg)" fill-opacity="0.7"/><ellipse cx="189.7" cy="823.5" rx="32.5" ry="25.1" fill="url(#hg)" fill-opacity="0.9"/><ellipse cx="194.1" cy="839.5" rx="26.2" ry="21.9" fill="url(#hg)" fill-opacity="0.6"/><ellipse cx="229.6" cy="851.5" rx="32.6" ry="26" fill="url(#hg)" fill-opacity="0.6"/><ellipse cx="257.8" cy="879.9" rx="24.7" ry="20.1" fill="url(#hg)" fill-opacity="0.9"/><ellipse cx="285" cy="890.2" rx="29" ry="24.2" fill="url(#hg)" fill-opacity="0.9"/><ellipse cx="284.9" cy="899.2" rx="31.2" ry="23.1" fill="url(#hg)" fill-opacity="0.7"/><ellipse cx="299.3" cy="917.2" rx="41.2" ry="28.9" fill="url(#hg)" fill-opacity="0.6"/><ellipse cx="333.3" cy="938.6" rx="40.7" ry="34.8" fill="url(#hg)" fill-opacity="0.8"/><ellipse cx="353.5" cy="957.2" rx="37.2" ry="29.1" fill="url(#hg)" fill-opacity="0.5"/><ellipse cx="382.7" cy="971.8" rx="24.7" ry="19.9" fill="url(#hg)" fill-opacity="0.6"/><ellipse cx="394.6" cy="980.8" rx="33.6" ry="27.2" fill="url(#hg)" fill-opacity="0.8"/><ellipse cx="429.9" cy="1004.1" rx="39.9" ry="31.3" fill="url(#hg)" fill-opacity="0.8"/><ellipse cx="439.7" cy="1011.5" rx="38.1" ry="31.5" fill="url(#hg)" fill-opacity="0.6"/><ellipse cx="471.2" cy="1024.5" rx="28.5" ry="25.4" fill="url(#hg)" fill-opacity="0.8"/><ellipse cx="185.2" cy="805.1" rx="33.8" ry="32.5" fill="url(#hg)" fill-opacity="0.9"/><ellipse cx="211.2" cy="810.7" rx="24.9" ry="21.6" fill="url(#hg)" fill-opacity="0.9"/><ellipse cx="223.7" cy="829.5" rx="30.7" ry="24.7" fill="url(#hg)" fill-opacity="0.9"/><ellipse cx="245.1" cy="843.2" rx="24.8" ry="20.4" fill="url(#hg)" fill-opacity="0.9"/><ellipse cx="262.6" cy="861.6" rx="25.5" ry="21.9" fill="url(#hg)" fill-opacity="0.6"/><ellipse cx="307.6" cy="874" rx="35.2" ry="32.3" fill="url(#hg)" fill-opacity="1"/><ellipse cx="313.5" cy="874.2" rx="23.4" ry="19.1" fill="url(#hg)" fill-opacity="0.7"/><ellipse cx="330.1" cy="910.7" rx="37.9" ry="27.9" fill="url(#hg)" fill-opacity="0.8"/><ellipse cx="351" cy="909.4" rx="29.2" ry="22.4" fill="url(#hg)" fill-opacity="0.9"/><ellipse cx="370.7" cy="934" rx="31" ry="20.9" fill="url(#hg)" fill-opacity="0.8"/><ellipse cx="398.9" cy="962" rx="30.8" ry="22" fill="url(#hg)" fill-opacity="0.7"/><ellipse cx="412.9" cy="965.3" rx="39.3" ry="30" fill="url(#hg)" fill-opacity="0.6"/><ellipse cx="436.1" cy="972.7" rx="35.9" ry="26.5" fill="url(#hg)" fill-opacity="0.8"/><ellipse cx="456.6" cy="989.1" rx="45.2" ry="34.6" fill="url(#hg)" fill-opacity="1"/><ellipse cx="478.2" cy="1008.4" rx="25.1" ry="19.2" fill="url(#hg)" fill-opacity="0.7"/><ellipse cx="202.2" cy="787.3" rx="27.6" ry="22.8" fill="url(#hg)" fill-opacity="0.7"/><ellipse cx="241.1" cy="799" rx="32.1" ry="20.5" fill="url(#hg)" fill-opacity="0.5"/><ellipse cx="250.1" cy="802.1" rx="26.7" ry="16.1" fill="url(#hg)" fill-opacity="0.8"/><ellipse cx="266.6" cy="824.1" rx="32.1" ry="21" fill="url(#hg)" fill-opacity="0.6"/><ellipse cx="295.2" cy="846.9" rx="25.9" ry="24" fill="url(#hg)" fill-opacity="0.5"/><ellipse cx="295.4" cy="857" rx="40.2" ry="33.1" fill="url(#hg)" fill-opacity="0.8"/><ellipse cx="339.5" cy="863.8" rx="32.1" ry="20.3" fill="url(#hg)" fill-opacity="0.7"/><ellipse cx="360.9" cy="884.3" rx="37.2" ry="24.8" fill="url(#hg)" fill-opacity="0.9"/><ellipse cx="366.1" cy="897.8" rx="29" ry="21.2" fill="url(#hg)" fill-opacity="0.6"/><ellipse cx="389.3" cy="921.5" rx="40.7" ry="31.6" fill="url(#hg)" fill-opacity="0.7"/><ellipse cx="428.2" cy="933.4" rx="36.1" ry="22.2" fill="url(#hg)" fill-opacity="1"/><ellipse cx="454.7" cy="945.6" rx="42.3" ry="29.9" fill="url(#hg)" fill-opacity="0.9"/><ellipse cx="468" cy="954.8" rx="41" ry="26.3" fill="url(#hg)" fill-opacity="0.7"/><ellipse cx="479.8" cy="988.2" rx="39.1" ry="26.5" fill="url(#hg)" fill-opacity="0.6"/><ellipse cx="508.6" cy="994.9" rx="19.2" ry="14.6" fill="url(#hg)" fill-opacity="0.9"/><ellipse cx="228.3" cy="781.6" rx="25.4" ry="19.5" fill="url(#hg)" fill-opacity="0.7"/><ellipse cx="249.6" cy="781.6" rx="25" ry="18.7" fill="url(#hg)" fill-opacity="0.9"/><ellipse cx="274.4" cy="802.3" rx="42.8" ry="32.4" fill="url(#hg)" fill-opacity="1"/><ellipse cx="303.5" cy="812.9" rx="29.8" ry="24.1" fill="url(#hg)" fill-opacity="0.9"/><ellipse cx="323.9" cy="827.1" rx="32.6" ry="27.6" fill="url(#hg)" fill-opacity="0.6"/><ellipse cx="329.6" cy="837.1" rx="27.9" ry="20.5" fill="url(#hg)" fill-opacity="0.7"/><ellipse cx="351.7" cy="867.5" rx="33.8" ry="30.8" fill="url(#hg)" fill-opacity="0.9"/><ellipse cx="371.9" cy="867.2" rx="22.5" ry="19.3" fill="url(#hg)" fill-opacity="0.9"/><ellipse cx="393.1" cy="879.7" rx="33.4" ry="29.9" fill="url(#hg)" fill-opacity="0.6"/><ellipse cx="402.1" cy="902.9" rx="35.4" ry="25.8" fill="url(#hg)" fill-opacity="0.7"/><ellipse cx="436.4" cy="916.6" rx="37.2" ry="29.5" fill="url(#hg)" fill-opacity="0.7"/><ellipse cx="453.8" cy="920.2" rx="26.2" ry="24.6" fill="url(#hg)" fill-opacity="0.7"/><ellipse cx="490.4" cy="942.4" rx="29.6" ry="23.1" fill="url(#hg)" fill-opacity="0.7"/><ellipse cx="490.4" cy="951.8" rx="42.1" ry="33.7" fill="url(#hg)" fill-opacity="0.9"/><ellipse cx="531.5" cy="969.2" rx="23.6" ry="19.8" fill="url(#hg)" fill-opacity="1"/><ellipse cx="234.9" cy="761.2" rx="25.9" ry="21.8" fill="url(#hg)" fill-opacity="0.8"/><ellipse cx="273.7" cy="769.4" rx="30.2" ry="25.7" fill="url(#hg)" fill-opacity="0.6"/><ellipse cx="279.6" cy="792.7" rx="36.5" ry="23.7" fill="url(#hg)" fill-opacity="1"/><ellipse cx="310.7" cy="793.9" rx="40.8" ry="30.8" fill="url(#hg)" fill-opacity="0.8"/><ellipse cx="331.1" cy="817" rx="35.7" ry="24.3" fill="url(#hg)" fill-opacity="0.9"/><ellipse cx="345.8" cy="822.8" rx="25.7" ry="22" fill="url(#hg)" fill-opacity="0.5"/><ellipse cx="370.4" cy="838.8" rx="40.7" ry="26.6" fill="url(#hg)" fill-opacity="0.9"/><ellipse cx="392.1" cy="851.3" rx="33.9" ry="29.3" fill="url(#hg)" fill-opacity="0.8"/><ellipse cx="409.5" cy="873.6" rx="37.7" ry="31.6" fill="url(#hg)" fill-opacity="0.6"/><ellipse cx="453.9" cy="880.2" rx="29.8" ry="20.2" fill="url(#hg)" fill-opacity="0.5"/><ellipse cx="456.7" cy="902.8" rx="33.3" ry="22.8" fill="url(#hg)" fill-opacity="0.6"/><ellipse cx="476.3" cy="911.2" rx="38.6" ry="28.6" fill="url(#hg)" fill-opacity="1"/><ellipse cx="507.5" cy="922" rx="39" ry="28.1" fill="url(#hg)" fill-opacity="0.6"/><ellipse cx="527.6" cy="935.8" rx="46.1" ry="31.4" fill="url(#hg)" fill-opacity="0.7"/><ellipse cx="541.4" cy="935.6" rx="30.6" ry="23.6" fill="url(#hg)" fill-opacity="0.8"/><ellipse cx="263.1" cy="753.6" rx="25.3" ry="18.4" fill="url(#hg)" fill-opacity="0.7"/><ellipse cx="290.5" cy="760.2" rx="25.9" ry="20.7" fill="url(#hg)" fill-opacity="0.7"/><ellipse cx="305.5" cy="777.4" rx="30.1" ry="27.5" fill="url(#hg)" fill-opacity="0.5"/><ellipse cx="333" cy="780.1" rx="31.8" ry="27.9" fill="url(#hg)" fill-opacity="0.6"/><ellipse cx="362.6" cy="800.7" rx="22.6" ry="20.9" fill="url(#hg)" fill-opacity="0.7"/><ellipse cx="368.2" cy="813.8" rx="30.6" ry="22.2" fill="url(#hg)" fill-opacity="0.6"/><ellipse cx="402.8" cy="832.6" rx="39" ry="31" fill="url(#hg)" fill-opacity="0.7"/><ellipse cx="417.9" cy="844.7" rx="28.1" ry="18.2" fill="url(#hg)" fill-opacity="0.8"/><ellipse cx="441.1" cy="855" rx="26.9" ry="21.1" fill="url(#hg)" fill-opacity="0.5"/><ellipse cx="455.7" cy="859.6" rx="42" ry="24.6" fill="url(#hg)" fill-opacity="0.7"/><ellipse cx="486.4" cy="883.2" rx="35" ry="28" fill="url(#hg)" fill-opacity="0.7"/><ellipse cx="509" cy="888.7" rx="38.6" ry="28.3" fill="url(#hg)" fill-opacity="0.9"/><ellipse cx="516.9" cy="898.1" rx="39.9" ry="31.7" fill="url(#hg)" fill-opacity="0.6"/><ellipse cx="528.4" cy="922.5" rx="28.9" ry="20.3" fill="url(#hg)" fill-opacity="0.8"/><ellipse cx="554.9" cy="927.3" rx="24.2" ry="16.3" fill="url(#hg)" fill-opacity="0.9"/><ellipse cx="293.1" cy="745.2" rx="24.4" ry="20.5" fill="url(#hg)" fill-opacity="0.8"/><ellipse cx="316.6" cy="755.4" rx="28.5" ry="19.8" fill="url(#hg)" fill-opacity="0.6"/><ellipse cx="324.3" cy="762.1" rx="32.8" ry="25.5" fill="url(#hg)" fill-opacity="0.8"/><ellipse cx="362.2" cy="772.7" rx="29.5" ry="22.5" fill="url(#hg)" fill-opacity="1"/><ellipse cx="371.2" cy="788.9" rx="34.1" ry="26.1" fill="url(#hg)" fill-opacity="0.8"/><ellipse cx="397.7" cy="804.7" rx="27.2" ry="23.1" fill="url(#hg)" fill-opacity="0.8"/><ellipse cx="431.3" cy="809.3" rx="30.3" ry="24.4" fill="url(#hg)" fill-opacity="0.8"/><ellipse cx="434.7" cy="821.1" rx="42.3" ry="31.1" fill="url(#hg)" fill-opacity="0.9"/><ellipse cx="458.1" cy="827.2" rx="36.2" ry="27.1" fill="url(#hg)" fill-opacity="0.7"/><ellipse cx="465.8" cy="850.3" rx="31" ry="25.6" fill="url(#hg)" fill-opacity="0.7"/><ellipse cx="497.3" cy="848.3" rx="32.7" ry="23" fill="url(#hg)" fill-opacity="0.7"/><ellipse cx="512.9" cy="872.7" rx="34.7" ry="25.8" fill="url(#hg)" fill-opacity="0.7"/><ellipse cx="540.4" cy="882.1" rx="28.4" ry="20.2" fill="url(#hg)" fill-opacity="0.9"/><ellipse cx="553.8" cy="903.3" rx="31.6" ry="25" fill="url(#hg)" fill-opacity="0.8"/><ellipse cx="589.5" cy="911.8" rx="19.9" ry="13.1" fill="url(#hg)" fill-opacity="0.8"/><ellipse cx="294.6" cy="725.9" rx="25.8" ry="18.1" fill="url(#hg)" fill-opacity="0.9"/><ellipse cx="327.6" cy="744" rx="39.2" ry="31.3" fill="url(#hg)" fill-opacity="0.9"/><ellipse cx="349.6" cy="741.3" rx="29.3" ry="23.3" fill="url(#hg)" fill-opacity="0.9"/><ellipse cx="371" cy="755.7" rx="22.8" ry="21" fill="url(#hg)" fill-opacity="0.9"/><ellipse cx="378.7" cy="774.4" rx="29.4" ry="17.5" fill="url(#hg)" fill-opacity="0.8"/><ellipse cx="414.3" cy="776.3" rx="32.8" ry="27.1" fill="url(#hg)" fill-opacity="0.7"/><ellipse cx="435.4" cy="805.1" rx="36.4" ry="25" fill="url(#hg)" fill-opacity="1"/><ellipse cx="449.6" cy="800.8" rx="27.4" ry="19.1" fill="url(#hg)" fill-opacity="0.9"/><ellipse cx="479.2" cy="812.6" rx="37" ry="24.1" fill="url(#hg)" fill-opacity="0.8"/><ellipse cx="505.1" cy="824.5" rx="32.5" ry="27.7" fill="url(#hg)" fill-opacity="0.8"/><ellipse cx="524.5" cy="844.8" rx="33.3" ry="25" fill="url(#hg)" fill-opacity="0.8"/><ellipse cx="537.2" cy="851.2" rx="32.5" ry="21.6" fill="url(#hg)" fill-opacity="0.9"/><ellipse cx="563.5" cy="874.1" rx="28" ry="21.1" fill="url(#hg)" fill-opacity="0.9"/><ellipse cx="578.8" cy="870.1" rx="31.1" ry="21.9" fill="url(#hg)" fill-opacity="0.6"/><ellipse cx="597.2" cy="897.5" rx="27.1" ry="17" fill="url(#hg)" fill-opacity="0.7"/><ellipse cx="325.4" cy="719.9" rx="22.2" ry="18.6" fill="url(#hg)" fill-opacity="0.6"/><ellipse cx="350.5" cy="720" rx="17.8" ry="11.9" fill="url(#hg)" fill-opacity="0.6"/><ellipse cx="378.3" cy="734.6" rx="24.2" ry="18.6" fill="url(#hg)" fill-opacity="0.5"/><ellipse cx="389.7" cy="749" rx="24.3" ry="16.3" fill="url(#hg)" fill-opacity="1"/><ellipse cx="404.3" cy="763.9" rx="33.9" ry="23.8" fill="url(#hg)" fill-opacity="0.9"/><ellipse cx="427.4" cy="771.2" rx="20.3" ry="16.9" fill="url(#hg)" fill-opacity="0.9"/><ellipse cx="448.6" cy="784.9" rx="30.8" ry="20.6" fill="url(#hg)" fill-opacity="0.9"/><ellipse cx="477.6" cy="799.4" rx="18.9" ry="16.6" fill="url(#hg)" fill-opacity="0.8"/><ellipse cx="498.4" cy="803.4" rx="22.4" ry="15.9" fill="url(#hg)" fill-opacity="0.8"/><ellipse cx="516.6" cy="808.3" rx="25.2" ry="19.7" fill="url(#hg)" fill-opacity="0.5"/><ellipse cx="529.4" cy="822.2" rx="20.7" ry="17" fill="url(#hg)" fill-opacity="0.6"/><ellipse cx="569.2" cy="833.6" rx="25.5" ry="16.8" fill="url(#hg)" fill-opacity="0.9"/><ellipse cx="575.3" cy="842.6" rx="24.9" ry="21.7" fill="url(#hg)" fill-opacity="0.9"/><ellipse cx="590.2" cy="855.2" rx="27" ry="20.7" fill="url(#hg)" fill-opacity="0.9"/><ellipse cx="610.3" cy="870.3" rx="24.5" ry="16.2" fill="url(#hg)" fill-opacity="0.7"/></g></g>
<polyline points="4.8,244.4 340,576.5 662.5,235" fill="none" stroke="#231815" stroke-width="4.2" stroke-linejoin="miter" stroke-miterlimit="10"/>
<line x1="89" y1="328.6" x2="93.2" y2="324.4" stroke="#231815" stroke-width="3"/>
<line x1="172.2" y1="410.8" x2="176.4" y2="406.6" stroke="#231815" stroke-width="3"/>
<line x1="258" y1="494" x2="262.2" y2="489.8" stroke="#231815" stroke-width="3"/>
<line x1="587.4" y1="310" x2="583.2" y2="305.8" stroke="#231815" stroke-width="3"/>
<line x1="507.3" y1="394.4" x2="503.1" y2="390.2" stroke="#231815" stroke-width="3"/>
<line x1="423" y1="486" x2="418.8" y2="481.8" stroke="#231815" stroke-width="3"/>
<line x1="3.2" y1="246" x2="8.3" y2="240.9" stroke="#231815" stroke-width="3.4"/>
<line x1="663.5" y1="236" x2="658.4" y2="230.9" stroke="#231815" stroke-width="3.4"/>
<polyline points="5.5,912.6 343,1241.6 666,900.5" fill="none" stroke="#231815" stroke-width="4.2" stroke-linejoin="miter" stroke-miterlimit="10"/>
<line x1="93" y1="995" x2="97.2" y2="990.8" stroke="#231815" stroke-width="3"/>
<line x1="176.6" y1="1077" x2="180.8" y2="1072.8" stroke="#231815" stroke-width="3"/>
<line x1="263" y1="1159" x2="267.2" y2="1154.8" stroke="#231815" stroke-width="3"/>
<line x1="581" y1="984" x2="576.8" y2="979.8" stroke="#231815" stroke-width="3"/>
<line x1="502" y1="1069" x2="497.8" y2="1064.8" stroke="#231815" stroke-width="3"/>
<line x1="425" y1="1149.5" x2="420.8" y2="1145.3" stroke="#231815" stroke-width="3"/>
<line x1="4" y1="914" x2="9.1" y2="908.9" stroke="#231815" stroke-width="3.4"/>
<line x1="667" y1="901.5" x2="661.9" y2="896.4" stroke="#231815" stroke-width="3.4"/>
<text transform="translate(130,444) rotate(45)" font-size="34" text-anchor="middle">1 μm</text>
<text transform="translate(544.5,405) rotate(-45)" font-size="34" text-anchor="middle">1 μm</text>
<text transform="translate(133.6,1112) rotate(45)" font-size="34" text-anchor="middle">1 μm</text>
<text transform="translate(547.3,1094) rotate(-45)" font-size="34" text-anchor="middle">1 μm</text>
<rect x="560.4" y="513.4" width="19.3" height="187.2" fill="url(#cbar)" stroke="#333" stroke-width="0.8"/>
<line x1="551.4" y1="513.4" x2="560" y2="513.4" stroke="#333" stroke-width="1"/>
<line x1="551.4" y1="559.4" x2="560" y2="559.4" stroke="#333" stroke-width="1"/>
<line x1="551.4" y1="606.4" x2="560" y2="606.4" stroke="#333" stroke-width="1"/>
<line x1="551.4" y1="653.3" x2="560" y2="653.3" stroke="#333" stroke-width="1"/>
<line x1="551.4" y1="700.6" x2="560" y2="700.6" stroke="#333" stroke-width="1"/>
<text x="516.88" y="525.10" font-size="23" textLength="28.79" lengthAdjust="spacingAndGlyphs">80</text>
<text x="518.67" y="571.20" font-size="23" textLength="28.90" lengthAdjust="spacingAndGlyphs">40</text>
<text x="532.15" y="619.90" font-size="23" textLength="14.77" lengthAdjust="spacingAndGlyphs">0</text>
<text x="508.77" y="665.00" font-size="23" textLength="37.65" lengthAdjust="spacingAndGlyphs">-40</text>
<text x="508.77" y="711.00" font-size="23" textLength="37.65" lengthAdjust="spacingAndGlyphs">-80</text>
<text x="578.91" y="505.30" font-size="26" textLength="37.82" lengthAdjust="spacingAndGlyphs">nm</text>
<text x="3.59" y="34.00" font-size="48" textLength="24.14" lengthAdjust="spacingAndGlyphs">a</text>
<text x="21.98" y="120.60" font-size="38" textLength="90.77" lengthAdjust="spacingAndGlyphs">static</text>
<text x="21.03" y="685.00" font-size="37.5" textLength="114.16" lengthAdjust="spacingAndGlyphs">pulsed</text>
<text x="22.89" y="730.40" font-size="37.5" textLength="191.18" lengthAdjust="spacingAndGlyphs"><tspan font-style="italic">E</tspan><tspan font-size="22" dy="12">a</tspan><tspan dy="-12"> = +0.6 V</tspan></text>
</g>
<g id="panel-b">
<path d="M1293.8,224.4 C1280.8,224.4 1242.1,224.5 1215.5,224.7 C1188.9,224.9 1153.5,224.9 1134.2,225.4 C1115,225.9 1109.9,226.7 1100,227.5 C1090.1,228.3 1082.2,228.3 1075,230 C1067.8,231.7 1061.2,234.4 1056.7,237.7 C1052.2,241 1050.3,246.2 1048,250 C1045.7,253.8 1045.3,256.6 1043,260.2 C1040.7,263.8 1036.5,266.9 1034,271.5 C1031.5,276.1 1029.5,282.8 1028,288 C1026.5,293.2 1026.3,295.5 1025,303 C1023.7,310.5 1021.6,324.2 1020,333 C1018.4,341.8 1016.6,351.2 1015.5,356 C1014.4,360.8 1014.4,362 1013.5,361.8 C1012.6,361.6 1011.8,359.5 1010,355 C1008.2,350.5 1004.8,341.2 1002.5,334.7 C1000.2,328.2 998.2,322.4 996,316 C993.8,309.6 991.3,302.5 989,296.3 C986.7,290.1 984.3,283.9 982,279 C979.7,274.1 977.7,270.1 975.4,267 C973.1,263.9 970.2,262.4 968,260.5 C965.8,258.6 964.9,257.6 961.9,255.7 C958.9,253.8 955.3,251.2 950,249 C944.7,246.8 937.8,243.9 930.3,242.2 C922.8,240.4 912.5,239.4 905,238.5 C897.5,237.6 892.5,237 885,236.5 C877.5,236 865.2,235.8 860,235.6 C854.8,235.4 853.1,236.4 853.5,235.4 C853.9,234.4 854.9,231 862.6,229.8 C870.4,228.7 888.7,228.9 900,228.5 C911.3,228.1 920.3,228 930.3,227.5 C940.3,227 953.5,226.2 960,225.6 C966.5,225 966,224.7 969,224.2 C972,223.7 975,223.2 978,222.4 C981,221.6 984.1,220.6 987.1,219.3 C990.1,218 993.4,216.6 996.1,214.8 C998.8,213 1001.2,210.7 1003.3,208.4 C1005.4,206.1 1007.2,203.6 1008.7,201.2 C1010.2,198.8 1011.1,196.7 1012.3,194 C1013.5,191.3 1014.8,188.3 1016,185 C1017.2,181.7 1018.4,177.8 1019.6,174.2 C1020.8,170.6 1021.9,167.2 1023.2,163.3 C1024.5,159.4 1026.2,155.1 1027.7,150.7 C1029.2,146.3 1030.9,140.8 1032.2,137.1 C1033.5,133.4 1034.8,130.1 1035.8,128.6 C1036.8,127.1 1037.5,127.1 1038.5,128.1 C1039.5,129.1 1041.1,132.4 1042.1,134.4 C1043.1,136.4 1043.4,136.8 1044.4,140 C1045.4,143.2 1046.9,149.6 1048.1,153.5 C1049.3,157.4 1050.4,160.3 1051.5,163.7 C1052.6,167.1 1053.8,170.7 1054.9,173.9 C1056,177.1 1057.1,179.8 1058.3,182.7 C1059.5,185.6 1060.6,188.7 1062.3,191.5 C1064,194.3 1066.2,197.2 1068.4,199.6 C1070.6,202 1072.6,203.8 1075.2,205.7 C1077.8,207.6 1080.8,209.5 1084,211.1 C1087.2,212.7 1089.9,214 1094.2,215.2 C1098.5,216.4 1101.1,217.6 1110,218.5 C1118.9,219.4 1130.1,220 1147.7,220.6 C1165.3,221.2 1191.2,221.7 1215.5,222 C1239.8,222.3 1280.8,222.6 1293.8,222.7" fill="none" stroke="#F96B6D" stroke-width="4.3" stroke-linejoin="round"/>
<path d="M862.6,235.6 C868.8,235.6 887.1,234.9 900,235.5 C912.9,236.1 929.7,237.8 940,239 C950.3,240.2 956.5,241.3 962,243 C967.5,244.7 970,245.8 973,249 C976,252.2 977.2,254.8 980,262 C982.8,269.2 986.7,282 990,292 C993.3,302 997,313.3 1000,322 C1003,330.7 1006.1,338.3 1008,344 C1009.9,349.7 1010.2,354 1011.5,356 C1012.8,358 1013.8,358.7 1016,356 C1018.2,353.3 1022.7,347.7 1025,340 C1027.3,332.3 1028.5,319.5 1030,310 C1031.5,300.5 1032.3,291 1034,283 C1035.7,275 1037.8,267.7 1040,262 C1042.2,256.3 1044.2,253.2 1047,249 C1049.8,244.8 1052,240 1056.7,237 C1061.4,234 1067.8,232.3 1075,231 C1082.2,229.7 1087.5,230 1100,229.4 C1112.5,228.8 1130,228 1150,227.5 C1170,227 1196,226.8 1220,226.6 C1244,226.4 1281.5,226.4 1293.8,226.4 L1293.8,221.4 Z" fill="rgba(31,179,228,0.55)" stroke="rgba(255,255,255,0.35)" stroke-width="1.2"/>
<path d="M862.6,235.4 C868.8,235.6 889.6,235.6 900,236.3 C910.4,237 917.5,238 925,239.5 C932.5,241 939.7,243.5 945,245.5 C950.3,247.5 953.8,250.1 957,251.5 C960.2,252.9 961.7,253.9 964,253.8 C966.3,253.7 968.7,252.8 971,251 C973.3,249.2 974.8,245.7 978,243 C981.2,240.3 984.7,237 990,235 C995.3,233 1000,232.1 1010,231 C1020,229.9 1035,228.8 1050,228.4 C1065,228 1078.3,229 1100,228.8 C1121.7,228.6 1147.7,227.4 1180,227 C1212.3,226.6 1274.8,226.5 1293.8,226.4 L1293.8,221.4 Z" fill="none" stroke="rgba(249,185,13,0.2)" stroke-width="5" stroke-linejoin="round"/>
<path d="M862.6,235.4 C868.8,235.6 889.6,235.6 900,236.3 C910.4,237 917.5,238 925,239.5 C932.5,241 939.7,243.5 945,245.5 C950.3,247.5 953.8,250.1 957,251.5 C960.2,252.9 961.7,253.9 964,253.8 C966.3,253.7 968.7,252.8 971,251 C973.3,249.2 974.8,245.7 978,243 C981.2,240.3 984.7,237 990,235 C995.3,233 1000,232.1 1010,231 C1020,229.9 1035,228.8 1050,228.4 C1065,228 1078.3,229 1100,228.8 C1121.7,228.6 1147.7,227.4 1180,227 C1212.3,226.6 1274.8,226.5 1293.8,226.4 L1293.8,221.4 Z" fill="rgba(249,185,13,0.5)"/>
<path d="M1293.8,625.7 C1283.2,625.8 1252.3,625.9 1230,626.2 C1207.7,626.5 1178.3,627 1160,627.6 C1141.7,628.2 1130.8,628.9 1120,629.6 C1109.2,630.3 1103.1,630.7 1095.1,631.6 C1087.1,632.5 1078.6,633.4 1072.1,635 C1065.5,636.6 1060.3,638.7 1055.8,641.1 C1051.3,643.5 1048.2,646.1 1045,649.2 C1041.8,652.3 1039,656 1036.9,659.9 C1034.8,663.8 1034,667.6 1032.6,672.6 C1031.2,677.6 1029.7,684 1028.5,690 C1027.3,696 1027.2,697.6 1025.4,708.7 C1023.7,719.8 1019.9,745.4 1018,756.8 C1016.1,768.2 1015.2,772.2 1014,777 C1012.8,781.8 1011.9,784 1011,785.7 C1010.1,787.4 1009.4,787 1008.5,787 C1007.6,787 1006.3,786.7 1005.5,786 C1004.7,785.3 1005.6,787.9 1003.7,783 C1001.8,778.1 997.2,766 994,756.8 C990.8,747.6 987.6,737.2 984.4,728 C981.2,718.8 977.5,707.5 974.8,701.5 C972.1,695.5 970,694.4 968,692 C966,689.6 965,689 962.8,687 C960.6,685 957.4,682.4 955,680 C952.6,677.6 950.5,675.4 948.3,672.6 C946.1,669.8 944,666.2 942,663 C940,659.8 938.6,656 936.3,653.3 C934,650.5 930.8,648.3 928,646.5 C925.2,644.7 923.2,643.5 919.4,642.5 C915.6,641.5 910.2,640.8 905,640.2 C899.8,639.6 893.8,639.1 888,638.9 C882.2,638.7 875.6,638.8 870,638.8 C864.4,638.8 855.4,640.3 854.4,638.9 C853.4,637.5 854.4,632.5 864,630.5 C873.6,628.5 899.3,627.8 912,626.8 C924.7,625.8 931.9,625.6 940,624.8 C948.1,624 955.1,622.9 960.4,622 C965.7,621.1 968.7,620.3 972,619.2 C975.3,618.1 976.9,617.2 980,615.4 C983.1,613.6 987.6,611.3 990.8,608.6 C994,605.9 996.7,602.5 999,599.1 C1001.3,595.7 1002.6,592.3 1004.4,588.3 C1006.2,584.2 1008,579.5 1009.8,574.8 C1011.6,570.1 1013.4,565.5 1015.2,559.9 C1017,554.2 1018.8,547.2 1020.6,540.9 C1022.4,534.6 1024.2,527.9 1026,522 C1027.8,516.1 1030,509.5 1031.4,505.7 C1032.8,501.9 1033.6,500.5 1034.5,499 C1035.4,497.5 1036.1,497 1036.9,496.9 C1037.7,496.8 1038.6,497.5 1039.5,498.5 C1040.4,499.5 1040.9,500 1042.3,503 C1043.7,506 1045.9,511 1047.7,516.6 C1049.5,522.2 1051.3,530.1 1053.1,536.9 C1054.9,543.7 1056.7,551.3 1058.5,557.2 C1060.3,563.1 1061.6,566.9 1063.9,572.1 C1066.2,577.3 1069.2,583.6 1072.1,588.3 C1075,593 1078.1,597.1 1081.5,600.5 C1084.9,603.9 1088.3,606.4 1092.4,608.6 C1096.5,610.9 1101.3,612.5 1105.9,614 C1110.5,615.5 1113.5,616.4 1120,617.4 C1126.5,618.4 1135,619.1 1145,619.8 C1155,620.5 1162.5,621 1180,621.5 C1197.5,622 1231,622.6 1250,623 C1269,623.4 1286.5,623.5 1293.8,623.6" fill="none" stroke="#F96B6D" stroke-width="4.3" stroke-linejoin="round"/>
<path d="M864,637.5 C870,637.5 889,637.1 900,637.3 C911,637.5 920.8,637.5 930,638.5 C939.2,639.5 948.3,640.8 955,643 C961.7,645.2 966.5,647.8 970,652 C973.5,656.2 973.7,660.5 976,668 C978.3,675.5 980.8,685 984,697 C987.2,709 991.7,726.5 995,740 C998.3,753.5 1001.8,770.3 1004,778 C1006.2,785.7 1006.5,784.8 1008,786 C1009.5,787.2 1011,789.3 1013,785 C1015,780.7 1017.7,770.5 1020,760 C1022.3,749.5 1024.9,733.8 1027,722 C1029.1,710.2 1030.8,699.4 1032.6,689.4 C1034.3,679.4 1035.5,668.5 1037.5,662 C1039.5,655.5 1041.5,653.8 1044.5,650.5 C1047.5,647.2 1050.8,644.7 1055.8,642.3 C1060.8,639.9 1067.4,637.8 1074.8,636.2 C1082.2,634.6 1085.8,633.6 1100,632.5 C1114.2,631.4 1138.3,630.3 1160,629.6 C1181.7,628.9 1207.7,628.6 1230,628.3 C1252.3,628 1283.2,627.7 1293.8,627.6 L1293.8,622.6 Z" fill="rgba(31,179,228,0.55)" stroke="rgba(255,255,255,0.35)" stroke-width="1.2"/>
<path d="M864,637.3 C870,637.3 890.7,637.1 900,637.6 C909.3,638.1 914.2,638.4 920,640 C925.8,641.6 930.3,643.7 935,647 C939.7,650.3 944.3,655.8 948,660 C951.7,664.2 954.5,669.3 957,672 C959.5,674.7 961,675.9 962.8,676.2 C964.6,676.5 966.1,676 968,674 C969.9,672 971.7,668.3 974,664 C976.3,659.7 979,652.3 982,648 C985,643.7 987.3,640.5 992,638 C996.7,635.5 1000.3,634.6 1010,633.3 C1019.7,632 1035,630.5 1050,630 C1065,629.5 1075,630.3 1100,630 C1125,629.7 1167.7,628.6 1200,628.2 C1232.3,627.8 1278.2,627.6 1293.8,627.5 L1293.8,622.5 Z" fill="none" stroke="rgba(249,185,13,0.2)" stroke-width="5" stroke-linejoin="round"/>
<path d="M864,637.3 C870,637.3 890.7,637.1 900,637.6 C909.3,638.1 914.2,638.4 920,640 C925.8,641.6 930.3,643.7 935,647 C939.7,650.3 944.3,655.8 948,660 C951.7,664.2 954.5,669.3 957,672 C959.5,674.7 961,675.9 962.8,676.2 C964.6,676.5 966.1,676 968,674 C969.9,672 971.7,668.3 974,664 C976.3,659.7 979,652.3 982,648 C985,643.7 987.3,640.5 992,638 C996.7,635.5 1000.3,634.6 1010,633.3 C1019.7,632 1035,630.5 1050,630 C1065,629.5 1075,630.3 1100,630 C1125,629.7 1167.7,628.6 1200,628.2 C1232.3,627.8 1278.2,627.6 1293.8,627.5 L1293.8,622.5 Z" fill="rgba(249,185,13,0.5)"/>
<path d="M1293.8,1028.5 C1283.2,1028.6 1254,1028.7 1230,1028.9 C1206,1029.1 1171.7,1029.2 1150,1029.5 C1128.3,1029.8 1113.3,1030.1 1100,1030.8 C1086.7,1031.5 1077.8,1032.4 1070.3,1033.8 C1062.8,1035.2 1059.3,1036.9 1055,1039 C1050.7,1041.1 1047.5,1043.9 1044.7,1046.6 C1041.9,1049.3 1039.7,1052 1038,1055 C1036.3,1058 1036.2,1060 1034.5,1064.5 C1032.8,1069 1029.7,1076 1028,1082 C1026.3,1088 1025.5,1093.6 1024.2,1100.3 C1022.9,1107 1021.3,1114.3 1020,1122 C1018.7,1129.7 1017.7,1138.4 1016.6,1146.4 C1015.5,1154.4 1014.4,1163.4 1013.5,1170 C1012.6,1176.6 1012.4,1182 1011.4,1186 C1010.4,1190 1008.9,1193 1007.6,1193.7 C1006.3,1194.5 1004.6,1191.7 1003.5,1190.5 C1002.4,1189.3 1002.9,1191.1 1001.2,1186.3 C999.5,1181.5 996.5,1170.9 993.5,1161.7 C990.5,1152.5 985.9,1138.5 983.3,1131 C980.7,1123.5 979.7,1121.3 978,1117 C976.3,1112.7 974.9,1109.1 973.1,1105.4 C971.3,1101.7 969.1,1098 967,1095 C964.9,1092 963.1,1091.3 960.3,1087.5 C957.5,1083.7 952.7,1076.5 950,1072.2 C947.3,1068 946.1,1065 944,1062 C941.9,1059 939.9,1056.6 937.2,1054.2 C934.5,1051.8 931.4,1049.2 928,1047.5 C924.6,1045.8 921.5,1044.9 916.8,1044 C912.1,1043.1 906.4,1042.5 900,1042 C893.6,1041.5 885.8,1041.2 878.4,1040.9 C871,1040.6 857.5,1041.8 855.4,1040.2 C853.3,1038.6 855.4,1033.5 865.6,1031.2 C875.8,1028.9 904.4,1027.8 916.8,1026.6 C929.2,1025.4 933.6,1025.1 940,1024.2 C946.4,1023.3 950.9,1022.1 955.1,1021 C959.3,1019.9 962,1018.9 965,1017.6 C968,1016.3 970.4,1015.2 973.1,1013.3 C975.8,1011.4 978.5,1009 981,1006 C983.5,1003 985.5,1000.1 988.4,995.4 C991.3,990.6 995.6,984.8 998.6,977.5 C1001.6,970.2 1004.1,959.8 1006.3,951.9 C1008.5,944 1009.9,937.7 1012,930 C1014.1,922.3 1017.1,912.3 1019.1,905.8 C1021.1,899.3 1022.7,894.5 1024,891 C1025.3,887.5 1026.1,885.9 1027,884.5 C1027.9,883.1 1028.6,883 1029.4,882.8 C1030.2,882.6 1030.7,881.9 1032,883.2 C1033.3,884.5 1035.5,887.2 1037,890.5 C1038.5,893.8 1039.7,897.9 1041,903 C1042.3,908.1 1043.2,914.2 1044.7,921.2 C1046.2,928.2 1048.3,937.3 1050,945 C1051.7,952.7 1053.2,961 1054.9,967.2 C1056.6,973.4 1058.3,977.7 1060,982 C1061.7,986.3 1063.2,989 1065.2,992.8 C1067.2,996.6 1069.5,1001.6 1072,1005 C1074.5,1008.4 1077.5,1011.1 1080.5,1013.3 C1083.5,1015.5 1086.8,1016.7 1090,1018 C1093.2,1019.3 1093.3,1019.9 1100,1021 C1106.7,1022.1 1116.7,1023.7 1130,1024.5 C1143.3,1025.3 1160,1025.7 1180,1026 C1200,1026.3 1231,1026.5 1250,1026.6 C1269,1026.7 1286.5,1026.8 1293.8,1026.8" fill="none" stroke="#F96B6D" stroke-width="4.3" stroke-linejoin="round"/>
<path d="M865.6,1039.2 C871.3,1039.2 889.3,1038.8 900,1039 C910.7,1039.2 920.8,1039.7 930,1040.5 C939.2,1041.3 948.3,1041.6 955,1044 C961.7,1046.4 966.1,1049.9 970,1055 C973.9,1060.1 975.7,1067.2 978.2,1074.7 C980.7,1082.2 982.5,1089.1 985,1100 C987.5,1110.9 990.5,1127.5 993,1140 C995.5,1152.5 998.1,1166.8 1000,1175 C1001.9,1183.2 1003,1186.4 1004.5,1189 C1006,1191.6 1007.4,1192.7 1009,1190.5 C1010.6,1188.3 1012.3,1184.4 1014,1176 C1015.7,1167.6 1017.3,1151.8 1019,1140 C1020.7,1128.2 1022.4,1115.9 1024.2,1105.4 C1026,1094.9 1028,1084.6 1030,1077 C1032,1069.4 1034,1064.7 1036,1060 C1038,1055.3 1038.9,1052.4 1042.1,1049.1 C1045.3,1045.8 1050.3,1042.2 1055,1040 C1059.7,1037.8 1062.8,1036.9 1070.3,1035.7 C1077.8,1034.5 1085,1033.7 1100,1033 C1115,1032.3 1138.3,1031.7 1160,1031.3 C1181.7,1030.9 1207.7,1030.9 1230,1030.8 C1252.3,1030.7 1283.2,1030.6 1293.8,1030.6 L1293.8,1025.6 Z" fill="rgba(31,179,228,0.55)" stroke="rgba(255,255,255,0.35)" stroke-width="1.2"/>
<path d="M865.6,1039 C871.3,1039.1 890.9,1039.1 900,1039.6 C909.1,1040.1 914.2,1040.3 920,1042 C925.8,1043.7 930.5,1046.5 935,1050 C939.5,1053.5 943.3,1058.2 947,1063 C950.7,1067.8 954.3,1075.2 957,1079 C959.7,1082.8 961.3,1084.1 963,1085.5 C964.7,1086.9 965.7,1087.6 967,1087.3 C968.3,1087 969.5,1086 971,1083.5 C972.5,1081 974,1076.6 976,1072 C978,1067.4 980.3,1060.8 983,1056 C985.7,1051.2 987.5,1046.4 992,1043 C996.5,1039.6 1000.3,1037.3 1010,1035.5 C1019.7,1033.7 1035,1032.5 1050,1032 C1065,1031.5 1075,1032.5 1100,1032.3 C1125,1032.1 1167.7,1031.3 1200,1031 C1232.3,1030.7 1278.2,1030.6 1293.8,1030.5 L1293.8,1025.5 Z" fill="none" stroke="rgba(249,185,13,0.2)" stroke-width="5" stroke-linejoin="round"/>
<path d="M865.6,1039 C871.3,1039.1 890.9,1039.1 900,1039.6 C909.1,1040.1 914.2,1040.3 920,1042 C925.8,1043.7 930.5,1046.5 935,1050 C939.5,1053.5 943.3,1058.2 947,1063 C950.7,1067.8 954.3,1075.2 957,1079 C959.7,1082.8 961.3,1084.1 963,1085.5 C964.7,1086.9 965.7,1087.6 967,1087.3 C968.3,1087 969.5,1086 971,1083.5 C972.5,1081 974,1076.6 976,1072 C978,1067.4 980.3,1060.8 983,1056 C985.7,1051.2 987.5,1046.4 992,1043 C996.5,1039.6 1000.3,1037.3 1010,1035.5 C1019.7,1033.7 1035,1032.5 1050,1032 C1065,1031.5 1075,1032.5 1100,1032.3 C1125,1032.1 1167.7,1031.3 1200,1031 C1232.3,1030.7 1278.2,1030.6 1293.8,1030.5 L1293.8,1025.5 Z" fill="rgba(249,185,13,0.5)"/>
<line x1="796" y1="51" x2="1344.5" y2="51" stroke="#000" stroke-width="4.2" stroke-linecap="square"/>
<line x1="796" y1="49" x2="796" y2="428" stroke="#000" stroke-width="4.2"/>
<line x1="1344.5" y1="49" x2="1344.5" y2="428" stroke="#000" stroke-width="4.2"/>
<line x1="796" y1="450" x2="796" y2="829" stroke="#000" stroke-width="4.2"/>
<line x1="1344.5" y1="450" x2="1344.5" y2="829" stroke="#000" stroke-width="4.2"/>
<line x1="796" y1="851" x2="796" y2="1230" stroke="#000" stroke-width="4.2"/>
<line x1="1344.5" y1="851" x2="1344.5" y2="1230" stroke="#000" stroke-width="4.2"/>
<line x1="794" y1="437.0" x2="1346.5" y2="437.0" stroke="#000" stroke-width="3.8"/>
<line x1="869.9" y1="430.0" x2="869.9" y2="444.0" stroke="#000" stroke-width="3.5"/>
<line x1="1016" y1="430.0" x2="1016" y2="444.0" stroke="#000" stroke-width="3.5"/>
<line x1="1162.1" y1="430.0" x2="1162.1" y2="444.0" stroke="#000" stroke-width="3.5"/>
<line x1="1308.2" y1="430.0" x2="1308.2" y2="444.0" stroke="#000" stroke-width="3.5"/>
<line x1="943" y1="433.3" x2="943" y2="440.7" stroke="#000" stroke-width="4"/>
<line x1="1089" y1="433.3" x2="1089" y2="440.7" stroke="#000" stroke-width="4"/>
<line x1="1235.2" y1="433.3" x2="1235.2" y2="440.7" stroke="#000" stroke-width="4"/>
<line x1="794" y1="838.4" x2="1346.5" y2="838.4" stroke="#000" stroke-width="3.8"/>
<line x1="869.9" y1="831.4" x2="869.9" y2="845.4" stroke="#000" stroke-width="3.5"/>
<line x1="1016" y1="831.4" x2="1016" y2="845.4" stroke="#000" stroke-width="3.5"/>
<line x1="1162.1" y1="831.4" x2="1162.1" y2="845.4" stroke="#000" stroke-width="3.5"/>
<line x1="1308.2" y1="831.4" x2="1308.2" y2="845.4" stroke="#000" stroke-width="3.5"/>
<line x1="943" y1="834.6999999999999" x2="943" y2="842.1" stroke="#000" stroke-width="4"/>
<line x1="1089" y1="834.6999999999999" x2="1089" y2="842.1" stroke="#000" stroke-width="4"/>
<line x1="1235.2" y1="834.6999999999999" x2="1235.2" y2="842.1" stroke="#000" stroke-width="4"/>
<line x1="793.9" y1="1228" x2="1346.6" y2="1228" stroke="#000" stroke-width="4.3"/>
<line x1="869.9" y1="1221" x2="869.9" y2="1228" stroke="#000" stroke-width="3.5"/>
<line x1="1016" y1="1221" x2="1016" y2="1228" stroke="#000" stroke-width="3.5"/>
<line x1="1162.1" y1="1221" x2="1162.1" y2="1228" stroke="#000" stroke-width="3.5"/>
<line x1="1308.2" y1="1221" x2="1308.2" y2="1228" stroke="#000" stroke-width="3.5"/>
<line x1="943" y1="1224.5" x2="943" y2="1228" stroke="#000" stroke-width="3"/>
<line x1="1089" y1="1224.5" x2="1089" y2="1228" stroke="#000" stroke-width="3"/>
<line x1="1235.2" y1="1224.5" x2="1235.2" y2="1228" stroke="#000" stroke-width="3"/>
<line x1="796" y1="108.5" x2="802" y2="108.5" stroke="#000" stroke-width="3.5"/>
<text x="743.97" y="120.90" font-size="31" textLength="39.98" lengthAdjust="spacingAndGlyphs">0.1</text>
<line x1="796" y1="223.7" x2="802" y2="223.7" stroke="#000" stroke-width="3.5"/>
<text x="744.41" y="235.90" font-size="31" textLength="42.58" lengthAdjust="spacingAndGlyphs">0.0</text>
<line x1="796" y1="338.9" x2="802" y2="338.9" stroke="#000" stroke-width="3.5"/>
<text x="731.73" y="351.90" font-size="31" textLength="57.19" lengthAdjust="spacingAndGlyphs">−0.1</text>
<line x1="796" y1="166.1" x2="799.5" y2="166.1" stroke="#000" stroke-width="3"/>
<line x1="796" y1="281.3" x2="799.5" y2="281.3" stroke="#000" stroke-width="3"/>
<line x1="796" y1="396.5" x2="799.5" y2="396.5" stroke="#000" stroke-width="3"/>
<g transform="translate(713.1,0) rotate(-90)"><text x="-317.44" y="0.00" font-size="40" textLength="188.35" lengthAdjust="spacingAndGlyphs"><tspan font-style="italic">j</tspan> (mA cm<tspan font-size="24" dy="-15">-2</tspan><tspan dy="15">)</tspan></text></g>
<line x1="796" y1="509.8" x2="802" y2="509.8" stroke="#000" stroke-width="3.5"/>
<text x="743.97" y="522.20" font-size="31" textLength="39.98" lengthAdjust="spacingAndGlyphs">0.1</text>
<line x1="796" y1="625" x2="802" y2="625" stroke="#000" stroke-width="3.5"/>
<text x="744.41" y="637.20" font-size="31" textLength="42.58" lengthAdjust="spacingAndGlyphs">0.0</text>
<line x1="796" y1="740.2" x2="802" y2="740.2" stroke="#000" stroke-width="3.5"/>
<text x="731.73" y="753.20" font-size="31" textLength="57.19" lengthAdjust="spacingAndGlyphs">−0.1</text>
<line x1="796" y1="567.4" x2="799.5" y2="567.4" stroke="#000" stroke-width="3"/>
<line x1="796" y1="682.6" x2="799.5" y2="682.6" stroke="#000" stroke-width="3"/>
<line x1="796" y1="797.8" x2="799.5" y2="797.8" stroke="#000" stroke-width="3"/>
<g transform="translate(713.1,0) rotate(-90)"><text x="-732.31" y="0.00" font-size="40" textLength="189.64" lengthAdjust="spacingAndGlyphs"><tspan font-style="italic">j</tspan> (mA cm<tspan font-size="24" dy="-15">-2</tspan><tspan dy="15">)</tspan></text></g>
<line x1="796" y1="910.9" x2="802" y2="910.9" stroke="#000" stroke-width="3.5"/>
<text x="743.97" y="923.30" font-size="31" textLength="39.98" lengthAdjust="spacingAndGlyphs">0.1</text>
<line x1="796" y1="1026.1" x2="802" y2="1026.1" stroke="#000" stroke-width="3.5"/>
<text x="744.41" y="1038.30" font-size="31" textLength="42.58" lengthAdjust="spacingAndGlyphs">0.0</text>
<line x1="796" y1="1141.3" x2="802" y2="1141.3" stroke="#000" stroke-width="3.5"/>
<text x="731.73" y="1154.30" font-size="31" textLength="57.19" lengthAdjust="spacingAndGlyphs">−0.1</text>
<line x1="796" y1="968.5" x2="799.5" y2="968.5" stroke="#000" stroke-width="3"/>
<line x1="796" y1="1083.7" x2="799.5" y2="1083.7" stroke="#000" stroke-width="3"/>
<line x1="796" y1="1198.9" x2="799.5" y2="1198.9" stroke="#000" stroke-width="3"/>
<g transform="translate(713.1,0) rotate(-90)"><text x="-1120.74" y="0.00" font-size="40" textLength="188.35" lengthAdjust="spacingAndGlyphs"><tspan font-style="italic">j</tspan> (mA cm<tspan font-size="24" dy="-15">-2</tspan><tspan dy="15">)</tspan></text></g>
<text x="830.63" y="1263.90" font-size="29.5" textLength="60.26" lengthAdjust="spacingAndGlyphs">−0.1</text>
<text x="994.95" y="1263.90" font-size="29.5" textLength="43.12" lengthAdjust="spacingAndGlyphs">0.0</text>
<text x="1140.30" y="1263.90" font-size="29.5" textLength="40.91" lengthAdjust="spacingAndGlyphs">0.1</text>
<text x="1284.52" y="1263.90" font-size="29.5" textLength="44.25" lengthAdjust="spacingAndGlyphs">0.2</text>
<text x="957.67" y="1320.00" font-size="38" textLength="305.01" lengthAdjust="spacingAndGlyphs"><tspan font-style="italic">E</tspan> - <tspan font-style="italic">iR</tspan> vs.RHE (V)</text>
<line x1="961.2" y1="238" x2="961.2" y2="1132" stroke="#FBC560" stroke-width="5" stroke-dasharray="19 19.8" stroke-dashoffset="9.5"/>
<line x1="1005.2" y1="312.7" x2="1005.2" y2="1204" stroke="#12A6DE" stroke-width="4.5" stroke-dasharray="19 19.8" stroke-dashoffset="9.5"/>
<rect x="821.3" y="82.1" width="60.4" height="31.4" rx="2" fill="#FDDC86"/>
<rect x="821.3" y="120.3" width="60.4" height="31.6" rx="2" fill="#84D5F0"/>
<text x="903.11" y="111.90" font-size="30.5" textLength="115.19" lengthAdjust="spacingAndGlyphs" fill="#F9C6A0">Cu(100)</text>
<text x="903.09" y="150.10" font-size="30.5" textLength="111.68" lengthAdjust="spacingAndGlyphs" fill="#7FBDEB">Cu(111)</text>
<text x="1150.80" y="85.30" font-size="31.5" textLength="188.68" lengthAdjust="spacingAndGlyphs">Pb stripping</text>
<text x="1247.90" y="358.90" font-size="31.5" textLength="73.84" lengthAdjust="spacingAndGlyphs">static</text>
<text x="1235.17" y="395.90" font-size="31.5" textLength="95.81" lengthAdjust="spacingAndGlyphs">20 min</text>
<text x="1025.95" y="389.00" font-size="31" textLength="69.37" lengthAdjust="spacingAndGlyphs" fill="#1A7CD8">(111)</text>
<text x="870.88" y="733.00" font-size="31" textLength="76.63" lengthAdjust="spacingAndGlyphs" fill="#F59A4C">(100)</text>
<text x="1070.59" y="760.00" font-size="31" textLength="266.22" lengthAdjust="spacingAndGlyphs">pulsed, <tspan font-style="italic">E</tspan><tspan font-size="18" dy="11">a</tspan><tspan dy="-11"> = +0.6 V</tspan></text>
<text x="1235.28" y="808.60" font-size="31.5" textLength="95.39" lengthAdjust="spacingAndGlyphs">20 min</text>
<text x="1070.59" y="1158.60" font-size="31" textLength="266.22" lengthAdjust="spacingAndGlyphs">pulsed, <tspan font-style="italic">E</tspan><tspan font-size="18" dy="11">a</tspan><tspan dy="-11"> = +0.6 V</tspan></text>
<text x="1235.28" y="1203.60" font-size="31.5" textLength="95.39" lengthAdjust="spacingAndGlyphs">70 min</text>
<text x="654.98" y="33.90" font-size="48" textLength="25.97" lengthAdjust="spacingAndGlyphs">b</text>
</g>
<g id="panel-c">
<path d="M1444,241.9 L1446.9,244.5 L1449.8,240 L1452.7,240.5 L1455.6,240.9 L1458.5,242.6 L1461.4,242.1 L1464.3,238.1 L1467.2,237.6 L1470.1,237.8 L1473,241.7 L1475.9,242 L1478.8,243.2 L1481.7,244.7 L1484.6,237.8 L1487.5,227.9 L1490.4,230.3 L1493.3,237.4 L1496.2,236.5 L1499.1,235.8 L1502,238 L1504.9,233.9 L1507.8,231.1 L1510.7,232.3 L1513.6,226.9 L1516.5,227.7 L1519.4,234.8 L1522.3,224.4 L1525.2,234.2 L1528.1,224.5 L1531,226.3 L1533.9,222.5 L1536.8,221.4 L1539.7,220.4 L1542.6,221.3 L1545.5,218 L1548.4,212.7 L1551.3,218.9 L1554.2,209.8 L1557.1,208.8 L1560,213.1 L1562.9,202.5 L1565.8,206 L1568.7,207.6 L1571.6,205.7 L1574.5,206.5 L1577.4,208.2 L1580.3,203 L1583.2,201.4 L1586.1,198.1 L1589,197.5 L1591.9,197 L1594.8,201.6 L1597.7,196.8 L1600.6,196.8 L1603.5,197.5 L1606.4,194 L1609.3,194.9 L1612.2,199.1 L1615.1,197.4 L1618,193.6 L1620.9,190.6 L1623.8,187.3 L1626.7,179.3 L1629.6,180.2 L1632.5,173.7 L1635.4,172.2 L1638.3,167.6 L1641.2,161.3 L1644.1,160.6 L1647,150.4 L1649.9,141.1 L1652.8,133.1 L1655.7,131.9 L1658.6,127.9 L1661.5,125.7 L1664.4,118.5 L1667.3,117.5 L1670.2,124.1 L1673.1,126.6 L1676,129.8 L1678.9,127.3 L1681.8,131.4 L1684.7,136.5 L1687.6,141.9 L1690.5,147.4 L1693.4,151 L1696.3,145.5 L1699.2,142.4 L1702.1,138.3 L1705,129.4 L1707.9,129.7 L1710.8,131 L1713.7,113.1 L1716.6,97.8 L1719.5,100.7 L1722.4,93.4 L1725.3,91 L1728.2,100.1 L1731.1,117.9 L1734,125.9 L1736.9,146.2 L1739.8,163.3 L1742.7,176 L1745.6,205.5 L1748.5,206.1 L1751.4,217.1 L1754.3,222.6 L1757.2,220.6 L1760.1,235.9 L1763,241.1 L1765.9,254.2 L1768.8,254.4 L1771.7,261.4 L1774.6,267 L1777.5,272.6 L1780.4,272.8 L1783.3,275.3 L1786.2,278.8 L1789.1,279 L1792,271.4 L1794.9,272.4 L1797.8,270.2 L1800.7,270.1 L1803.6,276.2 L1806.5,273.3 L1809.4,276.7 L1812.3,283.8 L1815.2,284.3 L1818.1,287.6 L1821,293.3 L1823.9,297.6 L1826.8,306.3 L1829.7,311.2 L1832.6,312.8 L1835.5,311.8 L1838.4,313.8 L1841.3,320.7 L1844.2,320.4 L1847.1,328.3 L1850,320.4 L1852.9,327.4 L1855.8,324.7 L1858.7,332.2 L1861.6,334.7 L1864.5,330.2 L1867.4,337.4 L1870.3,338.5 L1873.2,337.4 L1876.1,334 L1879,344 L1881.9,341.3 L1884.8,340.3 L1887.7,338.8 L1890.6,341.2 L1893.5,337 L1896.4,340.6 L1899.3,339.7 L1902.2,342.1 L1905.1,340.4 L1908,345.7 L1910.9,342.2 L1913.8,344.7 L1916.7,338.9 L1919.6,340 L1922.5,342.7 L1925.4,345 L1928.3,348.8 L1931.2,344.3 L1934.1,348.2 L1937,349 L1939.9,347.8 L1942.8,346.1 L1945.7,344.4 L1948.6,344.3 L1951.5,343 L1954.4,348.1 L1957.3,347.7 L1960.2,352.5" fill="none" stroke="#E9A3C3" stroke-width="4.5" stroke-linejoin="miter"/>
<path d="M1444,301.2 L1446.9,304.1 L1449.8,296 L1452.7,300 L1455.6,305.5 L1458.5,300.2 L1461.4,295.2 L1464.3,301.1 L1467.2,294.8 L1470.1,294.4 L1473,299.1 L1475.9,298.1 L1478.8,298.5 L1481.7,297.3 L1484.6,296.2 L1487.5,296.3 L1490.4,290.2 L1493.3,291.3 L1496.2,290.5 L1499.1,289.3 L1502,289.7 L1504.9,292.2 L1507.8,291.7 L1510.7,294.7 L1513.6,291.3 L1516.5,289.6 L1519.4,288.1 L1522.3,293.6 L1525.2,294.8 L1528.1,291.2 L1531,290.7 L1533.9,286.8 L1536.8,284.9 L1539.7,284.9 L1542.6,278.1 L1545.5,284.8 L1548.4,278.8 L1551.3,276.4 L1554.2,275.6 L1557.1,282.9 L1560,281 L1562.9,279.8 L1565.8,278.7 L1568.7,277.5 L1571.6,277.2 L1574.5,274.9 L1577.4,274.3 L1580.3,266.7 L1583.2,266.6 L1586.1,272.4 L1589,270.2 L1591.9,271.8 L1594.8,267.5 L1597.7,270.8 L1600.6,270.5 L1603.5,275.7 L1606.4,271 L1609.3,273.9 L1612.2,275 L1615.1,266.3 L1618,264 L1620.9,264.4 L1623.8,260.8 L1626.7,258.5 L1629.6,255.6 L1632.5,255.5 L1635.4,257.3 L1638.3,252.9 L1641.2,248.9 L1644.1,246.8 L1647,244.4 L1649.9,243.6 L1652.8,237.5 L1655.7,238.3 L1658.6,234.2 L1661.5,236.7 L1664.4,243.1 L1667.3,240.3 L1670.2,241.1 L1673.1,241.3 L1676,243.6 L1678.9,238.2 L1681.8,242.8 L1684.7,244.1 L1687.6,239.2 L1690.5,241.1 L1693.4,241.4 L1696.3,226.4 L1699.2,221.5 L1702.1,223.3 L1705,210.8 L1707.9,201.1 L1710.8,200.4 L1713.7,194.3 L1716.6,194.3 L1719.5,197.9 L1722.4,206.7 L1725.3,218.8 L1728.2,231.5 L1731.1,239.2 L1734,254.7 L1736.9,260.5 L1739.8,264.5 L1742.7,272.2 L1745.6,279.5 L1748.5,287.7 L1751.4,283.3 L1754.3,297.8 L1757.2,301.2 L1760.1,305.2 L1763,310.9 L1765.9,315.7 L1768.8,314.5 L1771.7,325.8 L1774.6,328 L1777.5,323.4 L1780.4,316.1 L1783.3,320.2 L1786.2,317.5 L1789.1,318.8 L1792,316 L1794.9,320.4 L1797.8,318.4 L1800.7,324.3 L1803.6,320.1 L1806.5,331 L1809.4,331.6 L1812.3,335.6 L1815.2,342.8 L1818.1,341.2 L1821,343.2 L1823.9,343.3 L1826.8,344.4 L1829.7,348 L1832.6,350.6 L1835.5,353.6 L1838.4,350.5 L1841.3,355.3 L1844.2,354.4 L1847.1,354.4 L1850,353.2 L1852.9,356.6 L1855.8,355.4 L1858.7,354.2 L1861.6,355.4 L1864.5,359.3 L1867.4,366.1 L1870.3,364.4 L1873.2,366.5 L1876.1,365.5 L1879,366.7 L1881.9,367.7 L1884.8,369.3 L1887.7,360.4 L1890.6,362.4 L1893.5,366.3 L1896.4,366 L1899.3,367.1 L1902.2,365.8 L1905.1,369.6 L1908,360.1 L1910.9,364.8 L1913.8,361.3 L1916.7,364.3 L1919.6,368.5 L1922.5,361.5 L1925.4,372.5 L1928.3,370.2 L1931.2,364.9 L1934.1,371.6 L1937,371.8 L1939.9,372.5 L1942.8,368.4 L1945.7,367.7 L1948.6,374.9 L1951.5,375.2 L1954.4,381.3 L1957.3,374.7 L1960.2,368.3" fill="none" stroke="#8ED3EF" stroke-width="4.5" stroke-linejoin="miter"/>
<rect x="1447.5" y="51" width="514" height="341.2" fill="none" stroke="#000" stroke-width="4.5"/>
<line x1="1446" y1="392" x2="1446" y2="385.5" stroke="#000" stroke-width="3.5"/>
<line x1="1593.2" y1="392" x2="1593.2" y2="385.5" stroke="#000" stroke-width="3.5"/>
<line x1="1740.4" y1="392" x2="1740.4" y2="385.5" stroke="#000" stroke-width="3.5"/>
<line x1="1887.6" y1="392" x2="1887.6" y2="385.5" stroke="#000" stroke-width="3.5"/>
<line x1="1519.6" y1="392" x2="1519.6" y2="388.5" stroke="#000" stroke-width="3"/>
<line x1="1666.8" y1="392" x2="1666.8" y2="388.5" stroke="#000" stroke-width="3"/>
<line x1="1814" y1="392" x2="1814" y2="388.5" stroke="#000" stroke-width="3"/>
<text x="1421.78" y="422.90" font-size="28.5" textLength="53.38" lengthAdjust="spacingAndGlyphs">910</text>
<text x="1568.10" y="422.90" font-size="28.5" textLength="52.42" lengthAdjust="spacingAndGlyphs">915</text>
<text x="1714.98" y="422.90" font-size="28.5" textLength="53.06" lengthAdjust="spacingAndGlyphs">920</text>
<text x="1861.90" y="422.90" font-size="28.5" textLength="52.42" lengthAdjust="spacingAndGlyphs">925</text>
<text x="1542.03" y="465.70" font-size="36" textLength="320.93" lengthAdjust="spacingAndGlyphs">Kinetic enegy (eV)</text>
<g transform="translate(1427,0) rotate(-90)"><text x="-348.95" y="0.00" font-size="39.5" textLength="258.28" lengthAdjust="spacingAndGlyphs">Intensity  (a.u.)</text></g>
<text x="1820.85" y="84.90" font-size="33" textLength="134.04" lengthAdjust="spacingAndGlyphs">Cu LMM</text>
<text x="1612.42" y="116.30" font-size="27.5" textLength="48.76" lengthAdjust="spacingAndGlyphs">Cu<tspan font-size="17" dy="-11">+</tspan></text>
<text x="1755.93" y="127.80" font-size="26.5" textLength="46.56" lengthAdjust="spacingAndGlyphs">Cu<tspan font-size="17" dy="-11">0</tspan></text>
<line x1="1801.3" y1="179" x2="1838" y2="179" stroke="#E9A3C3" stroke-width="4.2"/>
<line x1="1801.3" y1="213.6" x2="1838" y2="213.6" stroke="#8ED3EF" stroke-width="4.2"/>
<text x="1847.87" y="181.60" font-size="30" textLength="94.30" lengthAdjust="spacingAndGlyphs">pulsed</text>
<text x="1848.95" y="220.00" font-size="30" textLength="73.74" lengthAdjust="spacingAndGlyphs">static</text>
<text x="1373.90" y="34.00" font-size="48" textLength="24.00" lengthAdjust="spacingAndGlyphs">c</text>
</g>
<g id="panel-d">
<path d="M1447,821.5 C1454.2,821.2 1477.5,820.3 1490,819.5 C1502.5,818.7 1512.2,818.6 1521.7,816.5 C1531.2,814.4 1538.8,811.9 1547.3,806.9 C1555.8,801.9 1565.2,794.1 1572.9,786.4 C1580.6,778.7 1587.3,769.4 1593.3,760.9 C1599.3,752.4 1603.6,745.1 1608.7,735.3 C1613.8,725.5 1618.9,713.5 1624,702 C1629.1,690.5 1634.3,678.6 1639.4,666.2 C1644.5,653.9 1649.6,640.7 1654.7,627.9 C1659.8,615.1 1665,601.4 1670.1,589.5 C1675.2,577.6 1680.3,565.7 1685.4,556.3 C1690.5,546.9 1696.1,538.4 1700.8,533.2 C1705.5,528 1710.3,526.5 1713.5,525 C1716.7,523.5 1717.9,524.3 1720,524.5 C1722.1,524.7 1723.2,524.2 1726.3,526 C1729.4,527.8 1734.2,531 1738.4,535.5 C1742.6,540 1746.9,545.8 1751.2,553 C1755.5,560.2 1759.8,568.7 1764,578.5 C1768.2,588.3 1772.5,600.9 1776.7,612 C1781,623.1 1785.2,634.3 1789.5,645 C1793.8,655.7 1798,665.8 1802.3,676 C1806.6,686.2 1810.8,697.2 1815.1,706.5 C1819.4,715.8 1823.6,724.3 1827.9,732 C1832.2,739.7 1836.4,746.5 1840.7,752.5 C1845,758.5 1849.2,763.6 1853.5,768 C1857.8,772.4 1862,775.8 1866.3,779 C1870.6,782.2 1872.7,783.2 1879.1,787 C1885.5,790.8 1896.2,798.6 1904.7,801.9 C1913.2,805.2 1919.8,805.7 1930.2,807 C1940.6,808.3 1961.1,809.1 1967.3,809.5 L1967.3,808.9 L1447,821.6 Z" fill="#FDDD87" stroke="rgba(255,255,255,0.4)" stroke-width="1"/>
<path d="M1447,822.5 C1455.8,822.2 1486.3,821.5 1500,820.5 C1513.7,819.5 1521.9,818.6 1529.4,816.5 C1536.9,814.4 1539.9,811.3 1545,808 C1550.1,804.7 1555.1,800.7 1560.1,796.7 C1565.1,792.7 1570,788 1575,784 C1580,780 1585.2,775.7 1590,773 C1594.8,770.3 1598.3,768.8 1603.6,767.6 C1608.8,766.4 1615.5,765.4 1621.5,766 C1627.5,766.6 1633,767.7 1639.4,771.1 C1645.8,774.5 1653,781 1659.8,786.4 C1666.6,791.8 1673.5,799.3 1680.3,803.5 C1687.1,807.7 1692.5,809.7 1700.8,811.5 C1709.1,813.3 1713.5,814 1730,814.5 C1746.5,815 1771.7,814.8 1800,814.5 C1828.3,814.2 1872.1,813.2 1900,812.5 C1927.9,811.8 1956.1,810.8 1967.3,810.5 L1967.3,812.4 L1447,825.1 Z" fill="rgba(31,179,228,0.55)" stroke="rgba(255,255,255,0.3)" stroke-width="1"/>
<g fill="rgba(150,150,150,0.42)"><circle cx="1446.3" cy="826.5" r="4.7"/><circle cx="1452.7" cy="826.1" r="4.7"/><circle cx="1459.1" cy="824.8" r="4.7"/><circle cx="1465.5" cy="832.5" r="4.7"/><circle cx="1471.9" cy="827.4" r="4.7"/><circle cx="1478.2" cy="819.7" r="4.7"/><circle cx="1484.6" cy="819.7" r="4.7"/><circle cx="1491" cy="829.9" r="4.7"/><circle cx="1497.4" cy="817.1" r="4.7"/><circle cx="1503.8" cy="818.4" r="4.7"/><circle cx="1510.2" cy="821" r="4.7"/><circle cx="1516.6" cy="821" r="4.7"/><circle cx="1523" cy="817.1" r="4.7"/><circle cx="1529.4" cy="817.1" r="4.7"/><circle cx="1535.8" cy="811.5" r="4.7"/><circle cx="1542.2" cy="803.1" r="4.7"/><circle cx="1549.3" cy="796.7" r="4.7"/><circle cx="1555.5" cy="783.9" r="4.7"/><circle cx="1562.1" cy="782.1" r="4.7"/><circle cx="1568.5" cy="785.2" r="4.7"/><circle cx="1574.9" cy="774.4" r="4.7"/><circle cx="1581.3" cy="764.7" r="4.7"/><circle cx="1587.7" cy="745.5" r="4.7"/><circle cx="1594.6" cy="726.3" r="4.7"/><circle cx="1600.5" cy="721.2" r="4.7"/><circle cx="1606.6" cy="706.6" r="4.7"/><circle cx="1612.8" cy="676.5" r="4.7"/><circle cx="1618.9" cy="661.1" r="4.7"/><circle cx="1625.8" cy="644.8" r="4.7"/><circle cx="1632.5" cy="629.9" r="4.7"/><circle cx="1638.9" cy="615.1" r="4.7"/><circle cx="1645.3" cy="588.2" r="4.7"/><circle cx="1651.6" cy="581.3" r="4.7"/><circle cx="1658.6" cy="575.4" r="4.7"/><circle cx="1664.4" cy="565.2" r="4.7"/><circle cx="1671.3" cy="560.1" r="4.7"/><circle cx="1677.7" cy="548.6" r="4.7"/><circle cx="1684.1" cy="535.8" r="4.7"/><circle cx="1690.5" cy="525.6" r="4.7"/><circle cx="1696.9" cy="537.1" r="4.7"/><circle cx="1703.3" cy="519.2" r="4.7"/><circle cx="1709.7" cy="528.1" r="4.7"/><circle cx="1716.1" cy="515.3" r="4.7"/><circle cx="1722.5" cy="529.4" r="4.7"/><circle cx="1728.9" cy="534.5" r="4.7"/><circle cx="1735.3" cy="538.4" r="4.7"/><circle cx="1741.7" cy="533.2" r="4.7"/><circle cx="1747.3" cy="557.6" r="4.7"/><circle cx="1755" cy="561.4" r="4.7"/><circle cx="1761.4" cy="578" r="4.7"/><circle cx="1767.8" cy="590.8" r="4.7"/><circle cx="1772.9" cy="622.8" r="4.7"/><circle cx="1779.3" cy="633" r="4.7"/><circle cx="1785.7" cy="644.5" r="4.7"/><circle cx="1792.1" cy="659.9" r="4.7"/><circle cx="1799.8" cy="672.7" r="4.7"/><circle cx="1804.9" cy="703.4" r="4.7"/><circle cx="1811.3" cy="714.9" r="4.7"/><circle cx="1817.7" cy="725.1" r="4.7"/><circle cx="1824.1" cy="736.6" r="4.7"/><circle cx="1831.7" cy="737.9" r="4.7"/><circle cx="1838.1" cy="753.3" r="4.7"/><circle cx="1844.5" cy="749.4" r="4.7"/><circle cx="1850.9" cy="763.5" r="4.7"/><circle cx="1857.3" cy="755.8" r="4.7"/><circle cx="1863.7" cy="771.2" r="4.7"/><circle cx="1870.1" cy="776.3" r="4.7"/><circle cx="1876.5" cy="787.8" r="4.7"/><circle cx="1882.9" cy="786.5" r="4.7"/><circle cx="1889.3" cy="782.7" r="4.7"/><circle cx="1895.7" cy="792.9" r="4.7"/><circle cx="1902.1" cy="799.3" r="4.7"/><circle cx="1908.5" cy="798" r="4.7"/><circle cx="1914.9" cy="808.3" r="4.7"/><circle cx="1921.3" cy="805.7" r="4.7"/><circle cx="1927.7" cy="796.8" r="4.7"/><circle cx="1934.1" cy="809.5" r="4.7"/><circle cx="1940.5" cy="809.5" r="4.7"/><circle cx="1946.9" cy="812.1" r="4.7"/><circle cx="1954.5" cy="813.4" r="4.7"/><circle cx="1960.5" cy="814" r="4.7"/></g>
<path d="M1445,818.4 C1449.2,817.8 1461.5,816.3 1470,815 C1478.5,813.7 1488.7,812.3 1496.2,810.7 C1503.7,809.1 1509.5,807.4 1515,805.5 C1520.5,803.6 1523.2,802.8 1529.4,799.2 C1535.6,795.6 1545.2,790.3 1552.4,783.9 C1559.7,777.5 1566.9,769 1572.9,760.9 C1578.9,752.8 1583.1,744.7 1588.2,735.3 C1593.3,725.9 1598.5,715.7 1603.6,704.6 C1608.7,693.5 1613.8,679.9 1618.9,668.8 C1624,657.7 1629.2,648.3 1634.3,638.1 C1639.4,627.9 1644.5,616.8 1649.6,607.4 C1654.7,598 1659.9,590.3 1665,581.8 C1670.1,573.3 1675.2,564 1680.3,556.3 C1685.4,548.6 1690.9,541.1 1695.6,535.8 C1700.3,530.5 1705,526.8 1708.4,524.3 C1711.8,521.8 1713.1,521.2 1716.1,521 C1719.1,520.8 1722.6,521 1726.3,523 C1730,525 1734.2,528.6 1738.4,533.3 C1742.6,538 1746.9,544 1751.2,551.2 C1755.5,558.4 1759.8,566.9 1764,576.7 C1768.2,586.5 1772.5,598.9 1776.7,610 C1781,621.1 1785.2,632.6 1789.5,643.3 C1793.8,654 1798,663.8 1802.3,674 C1806.6,684.2 1810.8,695.3 1815.1,704.7 C1819.4,714.1 1823.6,722.5 1827.9,730.2 C1832.2,737.9 1836.4,744.7 1840.7,750.7 C1845,756.7 1849.2,761.7 1853.5,766 C1857.8,770.3 1862,773.3 1866.3,776.3 C1870.6,779.3 1872.7,781 1879.1,784 C1885.5,787 1896.2,791.4 1904.7,794.2 C1913.2,797 1921.7,798.9 1930.2,800.6 C1938.7,802.3 1949.6,803.5 1955.8,804.4 C1962,805.2 1965.4,805.5 1967.3,805.7" fill="none" stroke="#7D7D7D" stroke-width="4.3"/>
<path d="M1445,826.1 L1967.3,813.4" fill="none" stroke="#E8234A" stroke-width="4.3"/>
<path d="M1446,1179 C1455,1178.5 1484.5,1177.9 1500,1176 C1515.5,1174.1 1527.3,1171 1539,1167.8 C1550.7,1164.6 1561.5,1160.3 1570,1157 C1578.5,1153.7 1582.7,1151.2 1590,1148 C1597.3,1144.8 1607,1142 1613.7,1138 C1620.4,1134 1624.8,1129.8 1630,1124 C1635.2,1118.2 1639.4,1112.2 1645,1103 C1650.6,1093.8 1658.4,1076.8 1663.4,1068.6 C1668.4,1060.4 1670.9,1058.2 1675,1054 C1679.1,1049.8 1684,1046.6 1688.2,1043.7 C1692.4,1040.8 1696.4,1038.1 1700,1036.5 C1703.6,1034.9 1706.8,1034.6 1710,1034.2 C1713.2,1033.8 1716.3,1033.8 1719.3,1034 C1722.3,1034.2 1725.2,1034.7 1728,1035.5 C1730.8,1036.3 1731.9,1035.9 1736.1,1038.9 C1740.3,1041.9 1747,1047.8 1753,1053.4 C1759,1059 1765.8,1066.2 1772.2,1072.6 C1778.6,1079 1785.1,1085.5 1791.5,1091.9 C1797.9,1098.3 1804.4,1105.2 1810.8,1111.2 C1817.2,1117.2 1823.6,1123.2 1830,1128 C1836.4,1132.8 1842.9,1136.6 1849.3,1140 C1855.7,1143.4 1861.4,1146.1 1868.6,1148.5 C1875.8,1150.9 1884.6,1153.1 1892.6,1154.5 C1900.6,1155.9 1905.5,1156.7 1916.7,1156.9 C1927.9,1157.1 1951.6,1156 1960,1155.7 C1968.4,1155.4 1966.1,1155.3 1967.3,1155.2 L1967.3,1150 L1446,1177.6 Z" fill="#FDDD87" stroke="rgba(255,255,255,0.4)" stroke-width="1"/>
<path d="M1446,1178 C1451.7,1177 1468.6,1174.9 1480,1172 C1491.4,1169.1 1505.3,1164.9 1514.5,1160.4 C1523.7,1155.9 1528.8,1150.8 1535,1145 C1541.2,1139.2 1546.9,1132.3 1551.7,1125.6 C1556.5,1118.9 1560.3,1112.4 1564,1105 C1567.7,1097.6 1570.8,1091 1574,1081 C1577.2,1071 1580.1,1057.4 1583,1045 C1585.9,1032.6 1589.1,1016 1591.4,1006.5 C1593.7,997 1594.9,993.4 1597,988 C1599.1,982.6 1601.5,978.5 1603.8,974.2 C1606.1,969.9 1608.5,965.1 1611,962 C1613.5,958.9 1616.4,956.4 1618.7,955.6 C1621,954.8 1622.9,955.5 1625,957 C1627.1,958.5 1628.9,960.8 1631.1,964.3 C1633.3,967.8 1635.5,973 1638,978 C1640.5,983 1643.7,988.4 1646,994.1 C1648.3,999.8 1649.9,1005.8 1652,1012 C1654.1,1018.2 1656.4,1024.1 1658.4,1031.3 C1660.4,1038.5 1661.9,1046.7 1664,1055 C1666.1,1063.3 1668.6,1073.3 1670.8,1081 C1673,1088.7 1674.9,1094.8 1677,1101 C1679.1,1107.2 1681,1113.2 1683.2,1118.2 C1685.4,1123.2 1687.5,1126.9 1690,1131 C1692.5,1135.1 1695.6,1140 1698.1,1143 C1700.6,1146 1702.7,1147.4 1705,1149 C1707.3,1150.6 1708.8,1151.2 1712,1152.5 C1715.2,1153.8 1718.1,1155.1 1724.1,1156.5 C1730.1,1157.9 1735.5,1160.1 1748.2,1161 C1760.9,1161.9 1774.7,1162.3 1800,1162 C1825.3,1161.7 1872.1,1160.1 1900,1159 C1927.9,1157.9 1956.1,1156.1 1967.3,1155.5 L1967.3,1153.5 L1446,1181.1 Z" fill="rgba(31,179,228,0.55)" stroke="rgba(255,255,255,0.3)" stroke-width="1"/>
<g fill="rgba(150,150,150,0.42)"><circle cx="1446.2" cy="1189" r="4.7"/><circle cx="1452.4" cy="1187.2" r="4.7"/><circle cx="1458.6" cy="1185.7" r="4.7"/><circle cx="1464.8" cy="1181.5" r="4.7"/><circle cx="1471.8" cy="1180.3" r="4.7"/><circle cx="1478.5" cy="1179" r="4.7"/><circle cx="1484.7" cy="1179" r="4.7"/><circle cx="1490.9" cy="1177.8" r="4.7"/><circle cx="1497.6" cy="1173.3" r="4.7"/><circle cx="1504" cy="1176.5" r="4.7"/><circle cx="1510.7" cy="1172.3" r="4.7"/><circle cx="1516.9" cy="1172.3" r="4.7"/><circle cx="1523.1" cy="1172.3" r="4.7"/><circle cx="1529.8" cy="1164.1" r="4.7"/><circle cx="1536.3" cy="1159.2" r="4.7"/><circle cx="1542.3" cy="1159.9" r="4.7"/><circle cx="1548.7" cy="1148.5" r="4.7"/><circle cx="1555.4" cy="1139.3" r="4.7"/><circle cx="1561.6" cy="1129.9" r="4.7"/><circle cx="1568.3" cy="1119" r="4.7"/><circle cx="1574.5" cy="1096.4" r="4.7"/><circle cx="1581" cy="1062.4" r="4.7"/><circle cx="1587.7" cy="1031.3" r="4.7"/><circle cx="1593.9" cy="995.3" r="4.7"/><circle cx="1600.1" cy="978" r="4.7"/><circle cx="1605.8" cy="929.6" r="4.7"/><circle cx="1613" cy="909.7" r="4.7"/><circle cx="1619.2" cy="889.4" r="4.7"/><circle cx="1625.7" cy="899.3" r="4.7"/><circle cx="1631.6" cy="899.3" r="4.7"/><circle cx="1638.6" cy="912.7" r="4.7"/><circle cx="1644.8" cy="935.8" r="4.7"/><circle cx="1651" cy="953.1" r="4.7"/><circle cx="1657.9" cy="969.3" r="4.7"/><circle cx="1664.6" cy="971.8" r="4.7"/><circle cx="1670.8" cy="979.2" r="4.7"/><circle cx="1677" cy="975.5" r="4.7"/><circle cx="1683.7" cy="971.8" r="4.7"/><circle cx="1690.2" cy="990.4" r="4.7"/><circle cx="1696.4" cy="996.6" r="4.7"/><circle cx="1703.6" cy="991.2" r="4.7"/><circle cx="1709.6" cy="1000.9" r="4.7"/><circle cx="1715.7" cy="1010" r="4.7"/><circle cx="1722.9" cy="1014.8" r="4.7"/><circle cx="1728.9" cy="1017.7" r="4.7"/><circle cx="1734.9" cy="1033.6" r="4.7"/><circle cx="1741.4" cy="1045.7" r="4.7"/><circle cx="1748.2" cy="1051.4" r="4.7"/><circle cx="1753.5" cy="1052.2" r="4.7"/><circle cx="1760.2" cy="1061.1" r="4.7"/><circle cx="1766.9" cy="1075.5" r="4.7"/><circle cx="1773.4" cy="1079.9" r="4.7"/><circle cx="1779.5" cy="1085.9" r="4.7"/><circle cx="1785.5" cy="1090.7" r="4.7"/><circle cx="1792.2" cy="1093.1" r="4.7"/><circle cx="1798.2" cy="1103.9" r="4.7"/><circle cx="1805" cy="1112.4" r="4.7"/><circle cx="1811.2" cy="1111.6" r="4.7"/><circle cx="1818" cy="1119.6" r="4.7"/><circle cx="1825.2" cy="1119.6" r="4.7"/><circle cx="1831.2" cy="1122.7" r="4.7"/><circle cx="1837.2" cy="1136.4" r="4.7"/><circle cx="1844.5" cy="1135.2" r="4.7"/><circle cx="1850.5" cy="1140" r="4.7"/><circle cx="1857" cy="1137.6" r="4.7"/><circle cx="1863.7" cy="1147.8" r="4.7"/><circle cx="1869.8" cy="1149.7" r="4.7"/><circle cx="1876.3" cy="1149.2" r="4.7"/><circle cx="1883" cy="1154" r="4.7"/><circle cx="1889" cy="1156.4" r="4.7"/><circle cx="1895.5" cy="1156.9" r="4.7"/><circle cx="1901.8" cy="1148.5" r="4.7"/><circle cx="1908.3" cy="1156.9" r="4.7"/><circle cx="1914.3" cy="1158.1" r="4.7"/><circle cx="1921.5" cy="1156.4" r="4.7"/><circle cx="1927.5" cy="1156.9" r="4.7"/><circle cx="1933.6" cy="1159.3" r="4.7"/><circle cx="1939.6" cy="1163.6" r="4.7"/><circle cx="1946.8" cy="1159.3" r="4.7"/><circle cx="1952.8" cy="1162.2" r="4.7"/><circle cx="1958.8" cy="1160" r="4.7"/></g>
<path d="M1445,1175.3 C1450.4,1174.5 1466.9,1172.4 1477.2,1170.3 C1487.5,1168.2 1498.7,1165.8 1507,1162.9 C1515.3,1160 1520.7,1157.5 1526.9,1153 C1533.1,1148.5 1538.8,1142.6 1544.2,1135.6 C1549.6,1128.6 1554.5,1119.9 1559.1,1110.8 C1563.6,1101.7 1567.3,1094.7 1571.5,1081 C1575.7,1067.3 1580.3,1045.9 1584,1028.9 C1587.7,1011.9 1590.6,994.5 1593.9,979.2 C1597.2,963.9 1600.5,947.8 1603.8,937 C1607.1,926.2 1611,919.7 1613.7,914.7 C1616.4,909.7 1617.7,908.7 1620,907 C1622.3,905.3 1625.2,904.5 1627.4,904.3 C1629.6,904.1 1630.9,904.5 1633,906 C1635.1,907.5 1637.7,910.4 1640,913.5 C1642.3,916.6 1644.5,920.5 1646.8,924.4 C1649,928.2 1651.2,932.3 1653.5,936.6 C1655.8,940.9 1658,945.6 1660.3,950.1 C1662.6,954.6 1664.8,959.3 1667.1,963.6 C1669.3,967.9 1671.5,971.7 1673.8,975.8 C1676,979.9 1678.3,984.4 1680.6,988 C1682.9,991.6 1685.1,994.9 1687.4,997.5 C1689.7,1000.1 1692,1001.8 1694.2,1003.6 C1696.5,1005.4 1698.7,1006.9 1700.9,1008.3 C1703.2,1009.6 1705.4,1010.6 1707.7,1011.7 C1710,1012.8 1712.2,1013.9 1714.5,1015.1 C1716.8,1016.3 1719,1017.8 1721.2,1019.1 C1723.5,1020.5 1725.7,1021.6 1728,1023.2 C1730.3,1024.8 1732.5,1026.8 1734.8,1028.6 C1737,1030.4 1739.2,1032 1741.5,1034 C1743.8,1036 1746,1038.6 1748.3,1040.8 C1750.6,1043 1752.8,1044.7 1755.1,1046.9 C1757.4,1049.2 1759.7,1051.7 1761.9,1054.3 C1764.2,1056.9 1766.3,1059.8 1768.6,1062.5 C1770.8,1065.2 1772.4,1067.3 1775.4,1070.6 C1778.4,1073.9 1782.4,1077.5 1786.7,1082.3 C1791,1087 1796.3,1093.9 1801.1,1099.1 C1805.9,1104.3 1810.8,1109.2 1815.6,1113.6 C1820.4,1118 1825.2,1122 1830,1125.6 C1834.8,1129.2 1839.7,1132.2 1844.5,1135.2 C1849.3,1138.2 1854.1,1141.5 1858.9,1143.7 C1863.7,1145.9 1867.8,1147.1 1873.4,1148.5 C1879,1149.9 1885.4,1151.2 1892.6,1152.1 C1899.8,1153 1908.7,1153.6 1916.7,1154 C1924.7,1154.4 1933.6,1154.4 1940.8,1154.5 C1948,1154.6 1955.6,1155.3 1960,1154.5 C1964.4,1153.7 1966.1,1150.5 1967.3,1149.7" fill="none" stroke="#7D7D7D" stroke-width="4.3"/>
<path d="M1445,1182.2 L1967.3,1154.5" fill="none" stroke="#E8234A" stroke-width="4.3"/>
<line x1="1445.4" y1="481.9" x2="1963.2" y2="481.9" stroke="#000" stroke-width="4"/>
<line x1="1447.4" y1="480" x2="1447.4" y2="840" stroke="#000" stroke-width="4.2"/>
<line x1="1961.2" y1="480" x2="1961.2" y2="836" stroke="#000" stroke-width="4.2"/>
<line x1="1447.4" y1="872.3" x2="1447.4" y2="1230.5" stroke="#000" stroke-width="4.2"/>
<line x1="1961.2" y1="867.6" x2="1961.2" y2="1230.5" stroke="#000" stroke-width="4.2"/>
<line x1="1445" y1="851" x2="1961.2" y2="851" stroke="#000" stroke-width="3.6"/>
<line x1="1477.7" y1="848" x2="1477.7" y2="854" stroke="#000" stroke-width="3.2"/>
<line x1="1559.7" y1="848" x2="1559.7" y2="854" stroke="#000" stroke-width="3.2"/>
<line x1="1638.9" y1="842" x2="1638.9" y2="860" stroke="#000" stroke-width="3.2"/>
<line x1="1720.5" y1="848" x2="1720.5" y2="854" stroke="#000" stroke-width="3.2"/>
<line x1="1798.9" y1="847" x2="1798.9" y2="855" stroke="#000" stroke-width="3.2"/>
<line x1="1881.2" y1="848" x2="1881.2" y2="854" stroke="#000" stroke-width="3.2"/>
<line x1="1959.3" y1="843" x2="1959.3" y2="859" stroke="#000" stroke-width="3.2"/>
<line x1="1445.4" y1="1228.5" x2="1963.2" y2="1228.5" stroke="#000" stroke-width="4.3"/>
<line x1="1480.8" y1="1228" x2="1480.8" y2="1221" stroke="#000" stroke-width="3.5"/>
<line x1="1640.9" y1="1228" x2="1640.9" y2="1221" stroke="#000" stroke-width="3.5"/>
<line x1="1801" y1="1228" x2="1801" y2="1221" stroke="#000" stroke-width="3.5"/>
<line x1="1961" y1="1228" x2="1961" y2="1221" stroke="#000" stroke-width="3.5"/>
<line x1="1560.9" y1="1228" x2="1560.9" y2="1224" stroke="#000" stroke-width="3"/>
<line x1="1720.9" y1="1228" x2="1720.9" y2="1224" stroke="#000" stroke-width="3"/>
<line x1="1881" y1="1228" x2="1881" y2="1224" stroke="#000" stroke-width="3"/>
<line x1="1715.4" y1="491" x2="1715.4" y2="1050" stroke="rgba(252,188,45,0.75)" stroke-width="4.2" stroke-dasharray="20 20" stroke-dashoffset="10"/>
<text x="1439.17" y="1263.90" font-size="30.7" textLength="85.53" lengthAdjust="spacingAndGlyphs">527.5</text>
<text x="1594.57" y="1263.90" font-size="30.7" textLength="85.51" lengthAdjust="spacingAndGlyphs">530.0</text>
<text x="1759.68" y="1263.90" font-size="30.7" textLength="85.21" lengthAdjust="spacingAndGlyphs">532.5</text>
<text x="1908.08" y="1263.90" font-size="30.7" textLength="85.31" lengthAdjust="spacingAndGlyphs">535.0</text>
<text x="1541.40" y="1319.30" font-size="36.3" textLength="373.81" lengthAdjust="spacingAndGlyphs">Binding energy (eV)</text>
<g transform="translate(1426,0) rotate(-90)"><text x="-957.34" y="0.00" font-size="38" textLength="249.20" lengthAdjust="spacingAndGlyphs">Intensity (a.u.)</text></g>
<text x="1451.90" y="514.90" font-size="31" textLength="79.91" lengthAdjust="spacingAndGlyphs">static</text>
<text x="1883.87" y="514.50" font-size="31" textLength="67.51" lengthAdjust="spacingAndGlyphs">O 1<tspan font-style="italic">s</tspan></text>
<circle cx="1807.4" cy="542.2" r="4.7" fill="none" stroke="rgba(150,150,150,0.45)" stroke-width="3.2"/>
<text x="1840.00" y="552.40" font-size="27.3" textLength="104.80" lengthAdjust="spacingAndGlyphs">raw data</text>
<line x1="1780.6" y1="575.5" x2="1831.7" y2="575.5" stroke="#7D7D7D" stroke-width="4.2"/>
<text x="1840.99" y="584.40" font-size="27.3" textLength="111.53" lengthAdjust="spacingAndGlyphs">envelope</text>
<line x1="1780.6" y1="610.5" x2="1831.7" y2="610.5" stroke="#E8234A" stroke-width="4.2"/>
<text x="1839.96" y="616.40" font-size="27.3" textLength="103.56" lengthAdjust="spacingAndGlyphs">baseline</text>
<text x="1450.76" y="900.00" font-size="30.5" textLength="100.66" lengthAdjust="spacingAndGlyphs">pulsed</text>
<rect x="1774.6" y="886" width="59.5" height="31.8" rx="2" fill="#FDDD87"/>
<rect x="1774.6" y="925" width="59.5" height="31.6" rx="2" fill="#84D5F0"/>
<text x="1837.49" y="909.40" font-size="27" textLength="118.37" lengthAdjust="spacingAndGlyphs">surface O</text>
<text x="1841.25" y="947.40" font-size="27" textLength="101.32" lengthAdjust="spacingAndGlyphs">lattice O</text>
<text x="1381.05" y="478.00" font-size="48" textLength="26.10" lengthAdjust="spacingAndGlyphs">d</text>
</g>
</svg></body></html>
